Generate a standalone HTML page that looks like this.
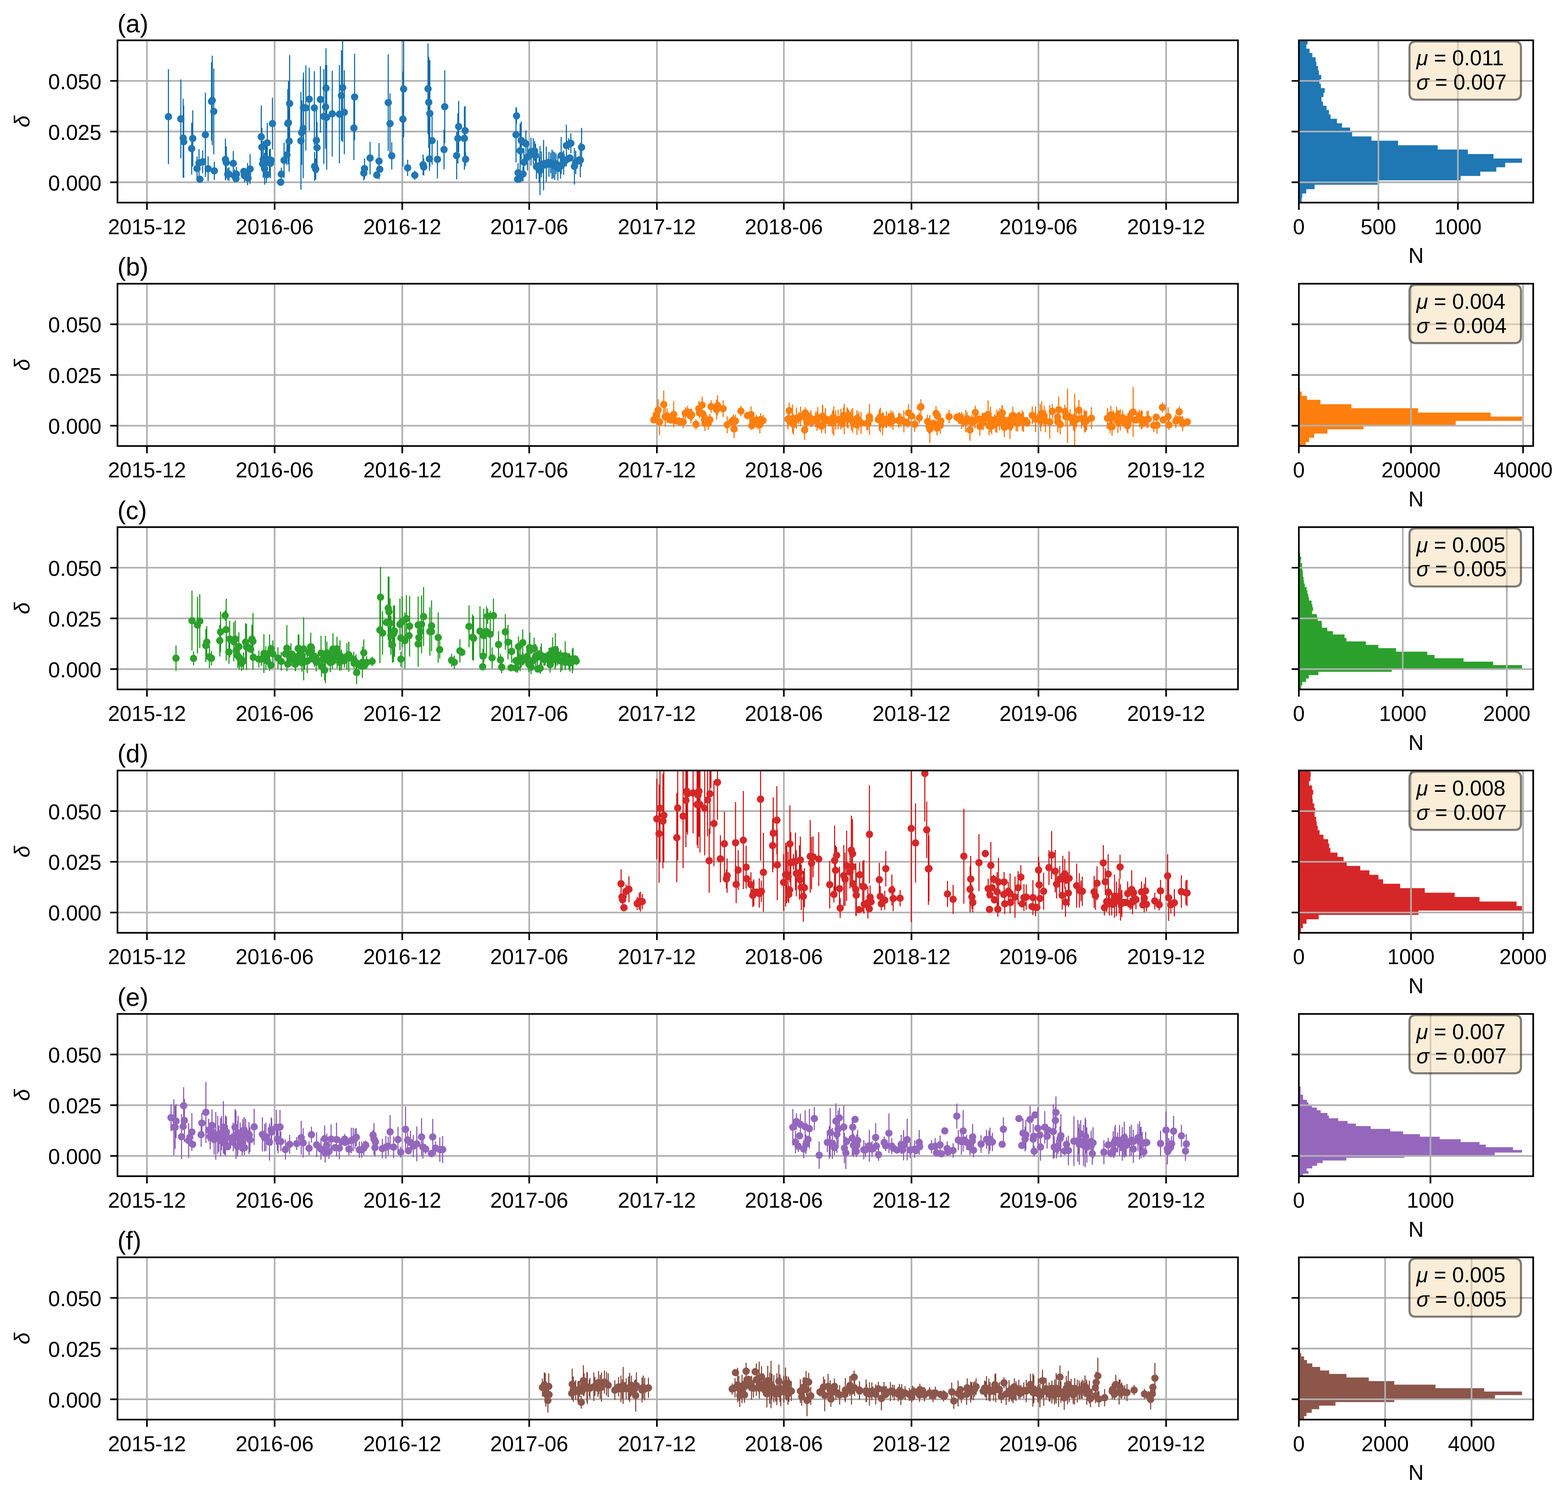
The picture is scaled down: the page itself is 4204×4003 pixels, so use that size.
<!DOCTYPE html><html><head><meta charset="utf-8"><title>figure</title><style>html,body{margin:0;padding:0;background:#fff;font-family:"Liberation Sans",sans-serif}svg{display:block}svg text{font-family:"Liberation Sans","DejaVu Sans",sans-serif;font-size:57px;fill:#000}</style></head><body><svg width="4204" height="4003" viewBox="0 0 4204 4003"><defs><clipPath id="c0"><rect x="315" y="108.1" width="3004.2" height="435.1"/></clipPath><clipPath id="h0"><rect x="3482.4" y="108.1" width="628.3" height="435.1"/></clipPath><clipPath id="c1"><rect x="315" y="760.7" width="3004.2" height="435.1"/></clipPath><clipPath id="h1"><rect x="3482.4" y="760.7" width="628.3" height="435.1"/></clipPath><clipPath id="c2"><rect x="315" y="1413.3" width="3004.2" height="435.1"/></clipPath><clipPath id="h2"><rect x="3482.4" y="1413.3" width="628.3" height="435.1"/></clipPath><clipPath id="c3"><rect x="315" y="2065.9" width="3004.2" height="435.1"/></clipPath><clipPath id="h3"><rect x="3482.4" y="2065.9" width="628.3" height="435.1"/></clipPath><clipPath id="c4"><rect x="315" y="2718.5" width="3004.2" height="435.1"/></clipPath><clipPath id="h4"><rect x="3482.4" y="2718.5" width="628.3" height="435.1"/></clipPath><clipPath id="c5"><rect x="315" y="3371.1" width="3004.2" height="435.1"/></clipPath><clipPath id="h5"><rect x="3482.4" y="3371.1" width="628.3" height="435.1"/></clipPath></defs><rect width="4204" height="4003" fill="#fff"/><path d="M394 108.1V543.2M736.3 108.1V543.2M1078.5 108.1V543.2M1418.9 108.1V543.2M1761.2 108.1V543.2M2101.6 108.1V543.2M2443.8 108.1V543.2M2784.2 108.1V543.2M3126.5 108.1V543.2M315 488.8H3319.2M315 352.8H3319.2M315 216.9H3319.2" stroke="#b0b0b0" stroke-width="4.4" fill="none"/>
<path d="M394 543.2v19.4M736.3 543.2v19.4M1078.5 543.2v19.4M1418.9 543.2v19.4M1761.2 543.2v19.4M2101.6 543.2v19.4M2443.8 543.2v19.4M2784.2 543.2v19.4M3126.5 543.2v19.4M315 488.8h-19.4M315 352.8h-19.4M315 216.9h-19.4" stroke="#000" stroke-width="4.4" fill="none"/>
<g clip-path="url(#c0)"><path d="M451.6 185.4V440M484.9 212.9V424.5M491.1 264.7V475.8M492.6 282.7V477M513.9 328.7V468M516.8 295.7V446.3M528.3 419.4V484.2M533.6 399.8V474.1M543.4 403.2V464.4M550.6 248.4V474.3M558 419.4V485.6M567.1 166.7V377.2M569.1 148.9V389.2M573.1 183.9V413.2M574.6 433.8V482.3M604.3 371.6V483.6M606.7 392.8V478.7M610.6 450.7V483.1M613.9 448.6V485.3M625.4 404.8V471.5M629 454.3V489.1M633.8 447.7V486.1M632.6 469.3V488.5M655.4 451.9V489.1M663.8 437.3V496.5M670.5 413.3V492.7M700.5 283.3V450M702.2 342.6V446.4M705.8 378.2V476.5M709.4 410V495.1M711.8 375.8V471.7M714.1 380.6V490.9M716.5 329.6V436.3M722.5 399.8V462.1M724.9 398.6V477.7M730.5 262.1V400.7M754.2 449.5V484.3M761.6 383V476.5M769.3 387.3V442.4M771.7 238.7V424.1M773.4 216.9V441.1M775.3 297.1V460.2M776.5 147.4V407.6M806.9 246.2V508.8M808.8 269.1V441.7M812.9 210.4V477.8M813.6 194.6V382.9M820 175.3V403.6M829.2 181.4V350.5M842.8 190.8V388.1M848.3 296.2V456.8M850 327.1V464.3M843.5 407.4V484.7M846.4 425.1V481.4M859.1 177.6V355.8M868.2 185.1V439.3M872.8 173.9V399.3M874 129.5V342.9M875.9 174.3V454.9M890.8 189.9V420.1M910 174.6V437.9M915.5 135V377.7M918.6 89.9V380.1M923.2 188.4V413.5M950.7 144V375.9M948.8 257.1V429.3M975.4 444.6V483.5M977.4 424.7V479.4M992.2 380V467.5M1010.2 459.7V478.9M1016.2 383.6V480.7M1040.9 145.8V404.3M1045.7 250.4V412.5M1050.3 381.3V454.2M1080.2 192.3V446.5M1082.2 109.8V367.4M1092.9 428.5V471.7M1112.1 457.4V482.1M1134.4 414.4V469.1M1136.1 424.9V470.5M1147.6 116.3V359.5M1149.5 152.3V396.4M1151.2 394V458.3M1152.4 160.7V448M1158.4 312.2V441.7M1172.8 376.3V478.4M1190.5 348V454M1192.4 188.4V383.8M1224.3 353.5V481.1M1227.6 303.8V438.1M1229.8 270.4V408.3M1245.1 286.8V455.2M1247.1 283.9V416.3M1248.2 408.3V445.4M1383.5 287.4V435.4M1384.9 289.6V331.5M1389 437.5V489.1M1394.5 331.3V476.9M1397.4 325.5V427.5M1402.2 446.6V486.2M1404.6 397.2V472.8M1409.9 349.8V421M1414.2 385.7V457M1423.8 369.8V444.1M1429.8 371V440.5M1433.4 378.2V430.9M1435.8 385.4V447.7M1438.2 412.9V480.1M1445.4 420.1V489.7M1447.8 391.4V523.3M1451.4 405.8V475.3M1457.4 375.5V510.3M1464.6 393.2V487.9M1471.8 407V474.1M1476.5 409.4V464.5M1480.1 401V480.1M1483.7 405.8V477.7M1487.3 408.2V482.5M1490.9 411.8V466.9M1495.7 416.5V483.7M1502.9 411.8V478.9M1504.6 367.3V466.8M1511.3 403.4V468.1M1518.5 334.4V445.9M1524.5 371V402.2M1530.5 357.8V410.6M1540.1 397.1V495M1543.7 404.6V466.9M1555.9 382.9V475.2M1559.3 343V446.9" stroke="#0467ab" stroke-width="2.8" fill="none"/>
<path d="M441.7 312.7a9.85 9.85 0 1 0 19.7 0a9.85 9.85 0 1 0 -19.7 0M475 318.7a9.85 9.85 0 1 0 19.7 0a9.85 9.85 0 1 0 -19.7 0M481.3 370.3a9.85 9.85 0 1 0 19.7 0a9.85 9.85 0 1 0 -19.7 0M482.7 379.9a9.85 9.85 0 1 0 19.7 0a9.85 9.85 0 1 0 -19.7 0M504.1 398.3a9.85 9.85 0 1 0 19.7 0a9.85 9.85 0 1 0 -19.7 0M506.9 371a9.85 9.85 0 1 0 19.7 0a9.85 9.85 0 1 0 -19.7 0M518.4 451.8a9.85 9.85 0 1 0 19.7 0a9.85 9.85 0 1 0 -19.7 0M523.7 436.9a9.85 9.85 0 1 0 19.7 0a9.85 9.85 0 1 0 -19.7 0M526.1 480.6a9.85 9.85 0 1 0 19.7 0a9.85 9.85 0 1 0 -19.7 0M533.6 433.8a9.85 9.85 0 1 0 19.7 0a9.85 9.85 0 1 0 -19.7 0M540.7 361.4a9.85 9.85 0 1 0 19.7 0a9.85 9.85 0 1 0 -19.7 0M548.2 452.5a9.85 9.85 0 1 0 19.7 0a9.85 9.85 0 1 0 -19.7 0M557.3 271.9a9.85 9.85 0 1 0 19.7 0a9.85 9.85 0 1 0 -19.7 0M559.2 269.1a9.85 9.85 0 1 0 19.7 0a9.85 9.85 0 1 0 -19.7 0M563.3 298.6a9.85 9.85 0 1 0 19.7 0a9.85 9.85 0 1 0 -19.7 0M564.7 458a9.85 9.85 0 1 0 19.7 0a9.85 9.85 0 1 0 -19.7 0M594.5 427.6a9.85 9.85 0 1 0 19.7 0a9.85 9.85 0 1 0 -19.7 0M596.9 435.7a9.85 9.85 0 1 0 19.7 0a9.85 9.85 0 1 0 -19.7 0M600.7 466.9a9.85 9.85 0 1 0 19.7 0a9.85 9.85 0 1 0 -19.7 0M604.1 466.9a9.85 9.85 0 1 0 19.7 0a9.85 9.85 0 1 0 -19.7 0M615.6 438.1a9.85 9.85 0 1 0 19.7 0a9.85 9.85 0 1 0 -19.7 0M619.2 471.7a9.85 9.85 0 1 0 19.7 0a9.85 9.85 0 1 0 -19.7 0M624 466.9a9.85 9.85 0 1 0 19.7 0a9.85 9.85 0 1 0 -19.7 0M622.8 478.9a9.85 9.85 0 1 0 19.7 0a9.85 9.85 0 1 0 -19.7 0M643.9 459.7a9.85 9.85 0 1 0 19.7 0a9.85 9.85 0 1 0 -19.7 0M645.5 470.5a9.85 9.85 0 1 0 19.7 0a9.85 9.85 0 1 0 -19.7 0M653.9 466.9a9.85 9.85 0 1 0 19.7 0a9.85 9.85 0 1 0 -19.7 0M655.1 477.7a9.85 9.85 0 1 0 19.7 0a9.85 9.85 0 1 0 -19.7 0M660.7 453a9.85 9.85 0 1 0 19.7 0a9.85 9.85 0 1 0 -19.7 0M690.6 366.7a9.85 9.85 0 1 0 19.7 0a9.85 9.85 0 1 0 -19.7 0M692.3 394.5a9.85 9.85 0 1 0 19.7 0a9.85 9.85 0 1 0 -19.7 0M695.9 427.3a9.85 9.85 0 1 0 19.7 0a9.85 9.85 0 1 0 -19.7 0M694.2 439.3a9.85 9.85 0 1 0 19.7 0a9.85 9.85 0 1 0 -19.7 0M699.5 452.5a9.85 9.85 0 1 0 19.7 0a9.85 9.85 0 1 0 -19.7 0M701.9 423.7a9.85 9.85 0 1 0 19.7 0a9.85 9.85 0 1 0 -19.7 0M704.3 435.7a9.85 9.85 0 1 0 19.7 0a9.85 9.85 0 1 0 -19.7 0M705.5 468.1a9.85 9.85 0 1 0 19.7 0a9.85 9.85 0 1 0 -19.7 0M706.7 383a9.85 9.85 0 1 0 19.7 0a9.85 9.85 0 1 0 -19.7 0M712.7 430.9a9.85 9.85 0 1 0 19.7 0a9.85 9.85 0 1 0 -19.7 0M715.1 438.1a9.85 9.85 0 1 0 19.7 0a9.85 9.85 0 1 0 -19.7 0M716.8 429.7a9.85 9.85 0 1 0 19.7 0a9.85 9.85 0 1 0 -19.7 0M720.6 331.4a9.85 9.85 0 1 0 19.7 0a9.85 9.85 0 1 0 -19.7 0M742.7 488.5a9.85 9.85 0 1 0 19.7 0a9.85 9.85 0 1 0 -19.7 0M744.3 466.9a9.85 9.85 0 1 0 19.7 0a9.85 9.85 0 1 0 -19.7 0M751.8 429.7a9.85 9.85 0 1 0 19.7 0a9.85 9.85 0 1 0 -19.7 0M759.5 414.9a9.85 9.85 0 1 0 19.7 0a9.85 9.85 0 1 0 -19.7 0M761.9 331.4a9.85 9.85 0 1 0 19.7 0a9.85 9.85 0 1 0 -19.7 0M763.5 329a9.85 9.85 0 1 0 19.7 0a9.85 9.85 0 1 0 -19.7 0M765.4 378.7a9.85 9.85 0 1 0 19.7 0a9.85 9.85 0 1 0 -19.7 0M766.6 277.5a9.85 9.85 0 1 0 19.7 0a9.85 9.85 0 1 0 -19.7 0M797 377.5a9.85 9.85 0 1 0 19.7 0a9.85 9.85 0 1 0 -19.7 0M798.9 355.4a9.85 9.85 0 1 0 19.7 0a9.85 9.85 0 1 0 -19.7 0M803 344.1a9.85 9.85 0 1 0 19.7 0a9.85 9.85 0 1 0 -19.7 0M803.7 288.7a9.85 9.85 0 1 0 19.7 0a9.85 9.85 0 1 0 -19.7 0M810.2 289.4a9.85 9.85 0 1 0 19.7 0a9.85 9.85 0 1 0 -19.7 0M819.3 265.9a9.85 9.85 0 1 0 19.7 0a9.85 9.85 0 1 0 -19.7 0M833 289.4a9.85 9.85 0 1 0 19.7 0a9.85 9.85 0 1 0 -19.7 0M838.5 376.5a9.85 9.85 0 1 0 19.7 0a9.85 9.85 0 1 0 -19.7 0M840.2 395.7a9.85 9.85 0 1 0 19.7 0a9.85 9.85 0 1 0 -19.7 0M833.7 446a9.85 9.85 0 1 0 19.7 0a9.85 9.85 0 1 0 -19.7 0M836.6 453.2a9.85 9.85 0 1 0 19.7 0a9.85 9.85 0 1 0 -19.7 0M849.3 266.7a9.85 9.85 0 1 0 19.7 0a9.85 9.85 0 1 0 -19.7 0M858.4 312.2a9.85 9.85 0 1 0 19.7 0a9.85 9.85 0 1 0 -19.7 0M863 286.6a9.85 9.85 0 1 0 19.7 0a9.85 9.85 0 1 0 -19.7 0M864.2 236.2a9.85 9.85 0 1 0 19.7 0a9.85 9.85 0 1 0 -19.7 0M866.1 314.6a9.85 9.85 0 1 0 19.7 0a9.85 9.85 0 1 0 -19.7 0M880.9 305a9.85 9.85 0 1 0 19.7 0a9.85 9.85 0 1 0 -19.7 0M900.1 306.2a9.85 9.85 0 1 0 19.7 0a9.85 9.85 0 1 0 -19.7 0M905.6 256.4a9.85 9.85 0 1 0 19.7 0a9.85 9.85 0 1 0 -19.7 0M908.8 235a9.85 9.85 0 1 0 19.7 0a9.85 9.85 0 1 0 -19.7 0M913.3 301a9.85 9.85 0 1 0 19.7 0a9.85 9.85 0 1 0 -19.7 0M940.9 260a9.85 9.85 0 1 0 19.7 0a9.85 9.85 0 1 0 -19.7 0M939 343.2a9.85 9.85 0 1 0 19.7 0a9.85 9.85 0 1 0 -19.7 0M965.6 464a9.85 9.85 0 1 0 19.7 0a9.85 9.85 0 1 0 -19.7 0M967.5 452a9.85 9.85 0 1 0 19.7 0a9.85 9.85 0 1 0 -19.7 0M982.4 423.7a9.85 9.85 0 1 0 19.7 0a9.85 9.85 0 1 0 -19.7 0M1000.4 469.3a9.85 9.85 0 1 0 19.7 0a9.85 9.85 0 1 0 -19.7 0M1006.4 432.1a9.85 9.85 0 1 0 19.7 0a9.85 9.85 0 1 0 -19.7 0M1008.3 453.7a9.85 9.85 0 1 0 19.7 0a9.85 9.85 0 1 0 -19.7 0M1031.1 275.1a9.85 9.85 0 1 0 19.7 0a9.85 9.85 0 1 0 -19.7 0M1035.9 331.4a9.85 9.85 0 1 0 19.7 0a9.85 9.85 0 1 0 -19.7 0M1040.4 417.7a9.85 9.85 0 1 0 19.7 0a9.85 9.85 0 1 0 -19.7 0M1070.4 319.4a9.85 9.85 0 1 0 19.7 0a9.85 9.85 0 1 0 -19.7 0M1072.3 238.6a9.85 9.85 0 1 0 19.7 0a9.85 9.85 0 1 0 -19.7 0M1083.1 450.1a9.85 9.85 0 1 0 19.7 0a9.85 9.85 0 1 0 -19.7 0M1102.3 469.8a9.85 9.85 0 1 0 19.7 0a9.85 9.85 0 1 0 -19.7 0M1124.6 441.7a9.85 9.85 0 1 0 19.7 0a9.85 9.85 0 1 0 -19.7 0M1126.3 447.7a9.85 9.85 0 1 0 19.7 0a9.85 9.85 0 1 0 -19.7 0M1137.8 237.9a9.85 9.85 0 1 0 19.7 0a9.85 9.85 0 1 0 -19.7 0M1139.7 274.3a9.85 9.85 0 1 0 19.7 0a9.85 9.85 0 1 0 -19.7 0M1141.4 426.1a9.85 9.85 0 1 0 19.7 0a9.85 9.85 0 1 0 -19.7 0M1142.6 304.3a9.85 9.85 0 1 0 19.7 0a9.85 9.85 0 1 0 -19.7 0M1148.6 377a9.85 9.85 0 1 0 19.7 0a9.85 9.85 0 1 0 -19.7 0M1163 427.3a9.85 9.85 0 1 0 19.7 0a9.85 9.85 0 1 0 -19.7 0M1180.6 401a9.85 9.85 0 1 0 19.7 0a9.85 9.85 0 1 0 -19.7 0M1182.5 286.1a9.85 9.85 0 1 0 19.7 0a9.85 9.85 0 1 0 -19.7 0M1214.4 417.3a9.85 9.85 0 1 0 19.7 0a9.85 9.85 0 1 0 -19.7 0M1217.8 371a9.85 9.85 0 1 0 19.7 0a9.85 9.85 0 1 0 -19.7 0M1219.9 339.3a9.85 9.85 0 1 0 19.7 0a9.85 9.85 0 1 0 -19.7 0M1235.3 371a9.85 9.85 0 1 0 19.7 0a9.85 9.85 0 1 0 -19.7 0M1237.2 350.1a9.85 9.85 0 1 0 19.7 0a9.85 9.85 0 1 0 -19.7 0M1238.4 426.9a9.85 9.85 0 1 0 19.7 0a9.85 9.85 0 1 0 -19.7 0M1373.7 361.4a9.85 9.85 0 1 0 19.7 0a9.85 9.85 0 1 0 -19.7 0M1375.1 310.6a9.85 9.85 0 1 0 19.7 0a9.85 9.85 0 1 0 -19.7 0M1379.2 463.3a9.85 9.85 0 1 0 19.7 0a9.85 9.85 0 1 0 -19.7 0M1378 480.6a9.85 9.85 0 1 0 19.7 0a9.85 9.85 0 1 0 -19.7 0M1381.6 480.1a9.85 9.85 0 1 0 19.7 0a9.85 9.85 0 1 0 -19.7 0M1384.7 404.1a9.85 9.85 0 1 0 19.7 0a9.85 9.85 0 1 0 -19.7 0M1387.6 376.5a9.85 9.85 0 1 0 19.7 0a9.85 9.85 0 1 0 -19.7 0M1392.4 466.4a9.85 9.85 0 1 0 19.7 0a9.85 9.85 0 1 0 -19.7 0M1394.8 435a9.85 9.85 0 1 0 19.7 0a9.85 9.85 0 1 0 -19.7 0M1397.2 383a9.85 9.85 0 1 0 19.7 0a9.85 9.85 0 1 0 -19.7 0M1400 385.4a9.85 9.85 0 1 0 19.7 0a9.85 9.85 0 1 0 -19.7 0M1404.3 421.3a9.85 9.85 0 1 0 19.7 0a9.85 9.85 0 1 0 -19.7 0M1413.9 407a9.85 9.85 0 1 0 19.7 0a9.85 9.85 0 1 0 -19.7 0M1416.3 414.1a9.85 9.85 0 1 0 19.7 0a9.85 9.85 0 1 0 -19.7 0M1419.9 405.8a9.85 9.85 0 1 0 19.7 0a9.85 9.85 0 1 0 -19.7 0M1423.5 404.6a9.85 9.85 0 1 0 19.7 0a9.85 9.85 0 1 0 -19.7 0M1425.9 416.5a9.85 9.85 0 1 0 19.7 0a9.85 9.85 0 1 0 -19.7 0M1428.3 446.5a9.85 9.85 0 1 0 19.7 0a9.85 9.85 0 1 0 -19.7 0M1431.9 445.3a9.85 9.85 0 1 0 19.7 0a9.85 9.85 0 1 0 -19.7 0M1435.5 454.9a9.85 9.85 0 1 0 19.7 0a9.85 9.85 0 1 0 -19.7 0M1437.9 457.3a9.85 9.85 0 1 0 19.7 0a9.85 9.85 0 1 0 -19.7 0M1441.5 440.5a9.85 9.85 0 1 0 19.7 0a9.85 9.85 0 1 0 -19.7 0M1447.5 442.9a9.85 9.85 0 1 0 19.7 0a9.85 9.85 0 1 0 -19.7 0M1449.9 438.1a9.85 9.85 0 1 0 19.7 0a9.85 9.85 0 1 0 -19.7 0M1454.7 440.5a9.85 9.85 0 1 0 19.7 0a9.85 9.85 0 1 0 -19.7 0M1459.5 435.7a9.85 9.85 0 1 0 19.7 0a9.85 9.85 0 1 0 -19.7 0M1461.9 440.5a9.85 9.85 0 1 0 19.7 0a9.85 9.85 0 1 0 -19.7 0M1466.7 436.9a9.85 9.85 0 1 0 19.7 0a9.85 9.85 0 1 0 -19.7 0M1470.3 440.5a9.85 9.85 0 1 0 19.7 0a9.85 9.85 0 1 0 -19.7 0M1473.9 441.7a9.85 9.85 0 1 0 19.7 0a9.85 9.85 0 1 0 -19.7 0M1477.5 445.3a9.85 9.85 0 1 0 19.7 0a9.85 9.85 0 1 0 -19.7 0M1481.1 439.3a9.85 9.85 0 1 0 19.7 0a9.85 9.85 0 1 0 -19.7 0M1485.9 450.1a9.85 9.85 0 1 0 19.7 0a9.85 9.85 0 1 0 -19.7 0M1488.3 451.3a9.85 9.85 0 1 0 19.7 0a9.85 9.85 0 1 0 -19.7 0M1493.1 445.3a9.85 9.85 0 1 0 19.7 0a9.85 9.85 0 1 0 -19.7 0M1494.8 417a9.85 9.85 0 1 0 19.7 0a9.85 9.85 0 1 0 -19.7 0M1497.9 440.5a9.85 9.85 0 1 0 19.7 0a9.85 9.85 0 1 0 -19.7 0M1501.5 435.7a9.85 9.85 0 1 0 19.7 0a9.85 9.85 0 1 0 -19.7 0M1505.1 430.9a9.85 9.85 0 1 0 19.7 0a9.85 9.85 0 1 0 -19.7 0M1508.7 390.2a9.85 9.85 0 1 0 19.7 0a9.85 9.85 0 1 0 -19.7 0M1512.3 426.1a9.85 9.85 0 1 0 19.7 0a9.85 9.85 0 1 0 -19.7 0M1514.7 386.6a9.85 9.85 0 1 0 19.7 0a9.85 9.85 0 1 0 -19.7 0M1518.3 423.7a9.85 9.85 0 1 0 19.7 0a9.85 9.85 0 1 0 -19.7 0M1520.7 384.2a9.85 9.85 0 1 0 19.7 0a9.85 9.85 0 1 0 -19.7 0M1530.2 446a9.85 9.85 0 1 0 19.7 0a9.85 9.85 0 1 0 -19.7 0M1533.8 435.7a9.85 9.85 0 1 0 19.7 0a9.85 9.85 0 1 0 -19.7 0M1538.6 432.1a9.85 9.85 0 1 0 19.7 0a9.85 9.85 0 1 0 -19.7 0M1543.4 428.5a9.85 9.85 0 1 0 19.7 0a9.85 9.85 0 1 0 -19.7 0M1546.1 429a9.85 9.85 0 1 0 19.7 0a9.85 9.85 0 1 0 -19.7 0M1549.4 395a9.85 9.85 0 1 0 19.7 0a9.85 9.85 0 1 0 -19.7 0" fill="#1f77b4"/></g>
<rect x="315" y="108.1" width="3004.2" height="435.1" fill="none" stroke="#000" stroke-width="4.4"/>
<text x="394" y="627.6" text-anchor="middle">2015-12</text>
<text x="736.3" y="627.6" text-anchor="middle">2016-06</text>
<text x="1078.5" y="627.6" text-anchor="middle">2016-12</text>
<text x="1418.9" y="627.6" text-anchor="middle">2017-06</text>
<text x="1761.2" y="627.6" text-anchor="middle">2017-12</text>
<text x="2101.6" y="627.6" text-anchor="middle">2018-06</text>
<text x="2443.8" y="627.6" text-anchor="middle">2018-12</text>
<text x="2784.2" y="627.6" text-anchor="middle">2019-06</text>
<text x="3126.5" y="627.6" text-anchor="middle">2019-12</text>
<text x="272" y="510.6" text-anchor="end">0.000</text>
<text x="272" y="374.6" text-anchor="end">0.025</text>
<text x="272" y="238.7" text-anchor="end">0.050</text>
<text x="314.7" y="86.5" style="font-size:68px">(a)</text>
<text transform="translate(78.6 325.6) rotate(-90)" text-anchor="middle" font-style="italic">δ</text>
<g clip-path="url(#h0)"><path d="M3482.4 107.9H3505.9V119.1H3482.4ZM3482.4 118.8H3502.5V130.7H3482.4ZM3482.4 130.4H3511V142.2H3482.4ZM3482.4 141.9H3518.5V153.8H3482.4ZM3482.4 153.5H3527.3V165.7H3482.4ZM3482.4 165.4H3529.4V177.3H3482.4ZM3482.4 177H3533.8V189.2H3482.4ZM3482.4 188.9H3536.2V201.1H3482.4ZM3482.4 200.8H3542.3V213H3482.4ZM3482.4 212.7H3537.6V224.9H3482.4ZM3482.4 224.6H3541.6V236.5H3482.4ZM3482.4 236.2H3551.8V248.4H3482.4ZM3482.4 248.1H3548.4V260.3H3482.4ZM3482.4 260H3543V272.2H3482.4ZM3482.4 271.9H3547.1V283.7H3482.4ZM3482.4 283.4H3556.6V295.3H3482.4ZM3482.4 295H3563.1V307.2H3482.4ZM3482.4 306.9H3567.5V318.8H3482.4ZM3482.4 318.5H3584.5V330.7H3482.4ZM3482.4 330.4H3598.1V342.2H3482.4ZM3482.4 341.9H3619.9V354.5H3482.4ZM3482.4 354.2H3625.3V366H3482.4ZM3482.4 365.7H3677V377.6H3482.4ZM3482.4 377.3H3748.4V389.9H3482.4ZM3482.4 389.6H3854.6V401.4H3482.4ZM3482.4 401.1H3935.5V413.3H3482.4ZM3482.4 413H4004.2V425.2H3482.4ZM3482.4 424.9H4080.7V436.5H3482.4ZM3482.4 436.2H4035.5V448.4H3482.4ZM3482.4 448.1H4011.7V460.3H3482.4ZM3482.4 460H3968.8V471.8H3482.4ZM3482.4 471.5H3916.1V483.4H3482.4ZM3482.4 483.1H3693.3V495.3H3482.4ZM3482.4 495H3524.6V507.2H3482.4ZM3482.4 506.9H3502.2V518.8H3482.4ZM3482.4 518.5H3491.3V531H3482.4ZM3482.4 530.7H3489.9V543.6H3482.4Z" fill="#1f77b4"/></g>
<path d="M3695.6 108.1V543.2M3908.8 108.1V543.2M3482.4 488.8H4110.7M3482.4 352.8H4110.7M3482.4 216.9H4110.7" stroke="#b0b0b0" stroke-width="4.4" fill="none"/>
<path d="M3482.4 543.2v19.4M3695.6 543.2v19.4M3908.8 543.2v19.4M3482.4 488.8h-19.4M3482.4 352.8h-19.4M3482.4 216.9h-19.4" stroke="#000" stroke-width="4.4" fill="none"/>
<rect x="3482.4" y="108.1" width="628.3" height="435.1" fill="none" stroke="#000" stroke-width="4.4"/>
<text x="3482.4" y="627.6" text-anchor="middle">0</text>
<text x="3695.6" y="627.6" text-anchor="middle">500</text>
<text x="3908.8" y="627.6" text-anchor="middle">1000</text>
<text x="3796.5" y="705.4" text-anchor="middle">N</text>
<path d="M3795.9 111.2H4061Q4077.9 111.2 4077.9 128.1V250.4Q4077.9 267.3 4061 267.3H3795.9Q3779 267.3 3779 250.4V128.1Q3779 111.2 3795.9 111.2Z" fill="#f5deb3" fill-opacity="0.5" stroke="#000" stroke-opacity="0.5" stroke-width="5.6"/>
<text x="3797.4" y="175.3"><tspan font-style="italic">μ</tspan> = 0.011</text>
<text x="3797.4" y="240.2"><tspan font-style="italic">σ</tspan> = 0.007</text>
<path d="M394 760.7V1195.8M736.3 760.7V1195.8M1078.5 760.7V1195.8M1418.9 760.7V1195.8M1761.2 760.7V1195.8M2101.6 760.7V1195.8M2443.8 760.7V1195.8M2784.2 760.7V1195.8M3126.5 760.7V1195.8M315 1141.4H3319.2M315 1005.4H3319.2M315 869.5H3319.2" stroke="#b0b0b0" stroke-width="4.4" fill="none"/>
<path d="M394 1195.8v19.4M736.3 1195.8v19.4M1078.5 1195.8v19.4M1418.9 1195.8v19.4M1761.2 1195.8v19.4M2101.6 1195.8v19.4M2443.8 1195.8v19.4M2784.2 1195.8v19.4M3126.5 1195.8v19.4M315 1141.4h-19.4M315 1005.4h-19.4M315 869.5h-19.4" stroke="#000" stroke-width="4.4" fill="none"/>
<g clip-path="url(#c1)"><path d="M1764.4 1070.4V1128.8M1768.2 1095.8V1166.9M1779.6 1047.3V1121.4M1783.5 1090.7V1144M1788.5 1094.5V1135.1M1806.3 1076.1V1145.9M1821.5 1118.6V1141.5M1831.7 1114.3V1148.3M1837.3 1092V1124M1843.6 1088.2V1121.2M1852 1096V1134.6M1854.5 1096.5V1128M1865.9 1124.1V1151.2M1873.6 1075.5V1116.1M1875.3 1093.2V1121.2M1882.4 1064.1V1108.2M1890.1 1114.8V1155.4M1895.1 1112.3V1140.2M1898.9 1117.9V1152.4M1903.2 1109.7V1141.2M1906.5 1073.3V1107.1M1921.3 1071.7V1125M1923.8 1060V1113.8M1938.8 1073.6V1118M1949.7 1116.1V1161.8M1966.2 1111V1141.5M1968.2 1126.2V1174.5M1971.8 1112.3V1145.3M1986.5 1087.8V1116.5M2013.7 1089.4V1133.6M2015.7 1129.5V1152.4M2027.9 1112.3V1140.2M2032.2 1124.5V1150.9M2037.3 1116.1V1161.8M2039.3 1108V1142M2045.6 1112.3V1142.7M2112.6 1095.8V1151.6M2115.9 1079.8V1121.9M2124.8 1084.4V1160.5M2127.4 1109.7V1165.6M2157.3 1126.5V1179.3M2159.1 1092V1122.4M2174.3 1099.6V1145.3M2192.6 1091.7V1147.1M2206 1086.5V1148.2M2213.1 1094.8V1160.3M2205.1 1084.7V1147.4M2212.7 1095.8V1161.8M2231.7 1102.1V1163M2235.5 1089.2V1168.4M2240.6 1100.2V1152.3M2247 1099V1151M2254.6 1096V1151.4M2263.5 1083.1V1164.3M2271.1 1092V1145.3M2273.6 1095.8V1149.1M2282.5 1098.3V1154.2M2286.3 1094.5V1160.5M2297.7 1111.8V1166.1M2302.8 1103.4V1154.2M2308.6 1104.9V1162.8M2324.4 1116.9V1153.4M2330.7 1100.4V1134.4M2357.4 1097.9V1154.5M2360.4 1092.9V1159.6M2366.2 1105.6V1167.2M2368.8 1107.2V1147.8M2375.1 1113.6V1146.5M2381.5 1108.7V1143.8M2389.1 1100.1V1132.1M2394.2 1103.1V1151.9M2409.4 1107.7V1147.3M2411.9 1107.7V1142.2M2415.7 1109.7V1142.7M2436 1083.6V1130.8M2433 1122.7V1146.5M2452.5 1117.4V1158M2464.7 1105.8V1135M2469 1070.4V1111M2486.8 1112.3V1147.8M2490.6 1122.4V1163M2493.1 1113V1187.7M2509.6 1089.4V1127.5M2512.2 1128.8V1166.9M2521.1 1117.4V1163M2544.7 1098.7V1135M2571.8 1104.7V1131.6M2578.2 1104.8V1150.2M2589.1 1098.7V1158.9M2592.9 1105.2V1139.7M2614.2 1105.9V1149.1M2639.6 1110.3V1134.6M2666.5 1111V1141.5M2681 1094.5V1127.5M2687.3 1086.4V1128M2688.6 1108.5V1146.5M2615 1087.7V1124.2M2649.2 1073.5V1148.6M2600.5 1124.2V1181.6M2627.2 1118.4V1168.1M2651.8 1116.1V1166.9M2658.9 1120.2V1164.3M2686.3 1086.4V1129.5M2691.4 1105.9V1146.5M2707.9 1108.5V1177M2715.5 1090.7V1136.4M2724.4 1108.5V1156.7M2728.2 1113.6V1156.7M2732 1103.4V1128.8M2740.9 1100V1155.1M2744 1104.7V1158M2767.6 1090.1V1137M2776.4 1094.8V1152.6M2789.1 1084V1145.7M2792.9 1075.5V1141.5M2799.3 1087.7V1142M2803.1 1098.7V1158.9M2814.5 1086V1176.6M2821.4 1083.1V1122.7M2836.1 1104.9V1156.7M2838.6 1064.1V1132.6M2842.4 1111V1164.3M2855.1 1085.1V1121.7M2857.7 1092.2V1142.5M2862.2 1042.2V1187.4M2869.1 1097.3V1139.9M2881.3 1055.4V1202.1M2892.7 1072.2V1127M2899.5 1095.8V1149.1M2906.6 1098.3V1146.5M2910.5 1102.1V1158M2913.5 1101.5V1153.5M2926.2 1091.7V1150.6M2969.3 1093.9V1148.5M2978.5 1088.2V1136.4M2981.5 1119.4V1168.6M2985.8 1100.4V1136.9M2993.5 1090.7V1141.5M2997.3 1099.6V1160.5M3000.3 1100.4V1144.5M3009.9 1099.6V1140.2M3022.6 1124.5V1158.5M3023.9 1108.5V1161.8M3038.1 1038.3V1171M3054.4 1098.3V1128.8M3055.6 1104.2V1145.8M3065.8 1126.2V1144M3075.2 1101.9V1148.1M3116.6 1078.8V1105.9M3161.6 1089.4V1118.4M3132 1091.9V1142.6M3134 1125.9V1152.6M3093.3 1122.6V1158.6M3102 1116.3V1163.5M3152.6 1110.9V1147.6M3165.3 1115.3V1139.2M3170.9 1115.9V1155.9M3078.7 1101.3V1146.6M2124.8 1108.3V1144.7M2135.3 1092.6V1150.1M2141.8 1104.4V1138.1M2146.5 1089.9V1143.1M2163.6 1116V1148.1M2162 1103.2V1145.4M2162.6 1098.6V1139.5M2176.1 1117.3V1143.7M2186.7 1103.9V1145.3M2190.4 1103.5V1155.3M2209.3 1107.9V1137.4M2202.5 1123.5V1161.2M2233.7 1099.4V1138.6M2261.9 1092.8V1135.8M2275.6 1099.9V1126.6M2297.6 1099.7V1143.9M2299.3 1108.6V1141.5M2331.2 1083.7V1165.7M2326.8 1117.9V1153.7M2359.5 1101.7V1134.7M2376.4 1102.2V1147.4M2388.2 1119.9V1146.9M2423.4 1100.1V1159.1M2570.6 1106.4V1137M2582.4 1109.6V1145.1M2604.2 1112.4V1144M2608.3 1115.6V1145.3M2636.2 1109.8V1153.3M2633.6 1106.1V1141.1M2669.5 1114.1V1158.6M2655.6 1090.3V1158.8M2672.8 1098.4V1160.4M2692.6 1119.3V1172.2M2680 1110V1153.8M2705.8 1109.5V1142.7M2711.5 1111.1V1154.9M2753.6 1121.4V1143.9M2776.7 1089.7V1158.6M2790.3 1101.7V1156.5M2836.6 1099.4V1159.5M2835.4 1097.1V1139.3M2882.1 1088.2V1155.5M2878.2 1109.2V1155M2886.2 1101.9V1146.7M2907.9 1102.6V1160.1M2976.2 1124.2V1161.1M3003.8 1097.4V1154.4M2995.3 1101.5V1130.6M3024.8 1108.9V1138.1M3027 1104.1V1144.4M3029 1099.6V1144.2M3062.5 1101.4V1149M3059.9 1100V1151.2" stroke="#ff7000" stroke-width="2.8" fill="none"/>
<path d="M1743.1 1125.7a9.85 9.85 0 1 0 19.7 0a9.85 9.85 0 1 0 -19.7 0M1749.5 1112.3a9.85 9.85 0 1 0 19.7 0a9.85 9.85 0 1 0 -19.7 0M1754.6 1099.6a9.85 9.85 0 1 0 19.7 0a9.85 9.85 0 1 0 -19.7 0M1758.4 1131.3a9.85 9.85 0 1 0 19.7 0a9.85 9.85 0 1 0 -19.7 0M1769.8 1084.4a9.85 9.85 0 1 0 19.7 0a9.85 9.85 0 1 0 -19.7 0M1773.6 1117.4a9.85 9.85 0 1 0 19.7 0a9.85 9.85 0 1 0 -19.7 0M1778.7 1114.8a9.85 9.85 0 1 0 19.7 0a9.85 9.85 0 1 0 -19.7 0M1783.8 1122.4a9.85 9.85 0 1 0 19.7 0a9.85 9.85 0 1 0 -19.7 0M1788.8 1126.2a9.85 9.85 0 1 0 19.7 0a9.85 9.85 0 1 0 -19.7 0M1796.4 1111a9.85 9.85 0 1 0 19.7 0a9.85 9.85 0 1 0 -19.7 0M1799 1127.5a9.85 9.85 0 1 0 19.7 0a9.85 9.85 0 1 0 -19.7 0M1805.3 1128.8a9.85 9.85 0 1 0 19.7 0a9.85 9.85 0 1 0 -19.7 0M1811.7 1130.1a9.85 9.85 0 1 0 19.7 0a9.85 9.85 0 1 0 -19.7 0M1816.7 1130.6a9.85 9.85 0 1 0 19.7 0a9.85 9.85 0 1 0 -19.7 0M1821.8 1131.3a9.85 9.85 0 1 0 19.7 0a9.85 9.85 0 1 0 -19.7 0M1827.4 1108a9.85 9.85 0 1 0 19.7 0a9.85 9.85 0 1 0 -19.7 0M1833.8 1104.7a9.85 9.85 0 1 0 19.7 0a9.85 9.85 0 1 0 -19.7 0M1838.3 1109.7a9.85 9.85 0 1 0 19.7 0a9.85 9.85 0 1 0 -19.7 0M1842.1 1115.3a9.85 9.85 0 1 0 19.7 0a9.85 9.85 0 1 0 -19.7 0M1844.7 1112.3a9.85 9.85 0 1 0 19.7 0a9.85 9.85 0 1 0 -19.7 0M1856.1 1137.7a9.85 9.85 0 1 0 19.7 0a9.85 9.85 0 1 0 -19.7 0M1863.7 1095.8a9.85 9.85 0 1 0 19.7 0a9.85 9.85 0 1 0 -19.7 0M1865.5 1107.2a9.85 9.85 0 1 0 19.7 0a9.85 9.85 0 1 0 -19.7 0M1872.6 1086.1a9.85 9.85 0 1 0 19.7 0a9.85 9.85 0 1 0 -19.7 0M1874.6 1109.7a9.85 9.85 0 1 0 19.7 0a9.85 9.85 0 1 0 -19.7 0M1878.9 1125a9.85 9.85 0 1 0 19.7 0a9.85 9.85 0 1 0 -19.7 0M1880.2 1135.1a9.85 9.85 0 1 0 19.7 0a9.85 9.85 0 1 0 -19.7 0M1885.3 1126.2a9.85 9.85 0 1 0 19.7 0a9.85 9.85 0 1 0 -19.7 0M1889.1 1135.1a9.85 9.85 0 1 0 19.7 0a9.85 9.85 0 1 0 -19.7 0M1893.4 1125.5a9.85 9.85 0 1 0 19.7 0a9.85 9.85 0 1 0 -19.7 0M1896.7 1090.2a9.85 9.85 0 1 0 19.7 0a9.85 9.85 0 1 0 -19.7 0M1911.4 1098.3a9.85 9.85 0 1 0 19.7 0a9.85 9.85 0 1 0 -19.7 0M1914 1086.9a9.85 9.85 0 1 0 19.7 0a9.85 9.85 0 1 0 -19.7 0M1928.9 1095.8a9.85 9.85 0 1 0 19.7 0a9.85 9.85 0 1 0 -19.7 0M1939.8 1138.9a9.85 9.85 0 1 0 19.7 0a9.85 9.85 0 1 0 -19.7 0M1951.3 1131.3a9.85 9.85 0 1 0 19.7 0a9.85 9.85 0 1 0 -19.7 0M1956.3 1126.2a9.85 9.85 0 1 0 19.7 0a9.85 9.85 0 1 0 -19.7 0M1958.4 1150.4a9.85 9.85 0 1 0 19.7 0a9.85 9.85 0 1 0 -19.7 0M1961.9 1128.8a9.85 9.85 0 1 0 19.7 0a9.85 9.85 0 1 0 -19.7 0M1976.6 1102.1a9.85 9.85 0 1 0 19.7 0a9.85 9.85 0 1 0 -19.7 0M1994.4 1114.3a9.85 9.85 0 1 0 19.7 0a9.85 9.85 0 1 0 -19.7 0M2003.8 1111.5a9.85 9.85 0 1 0 19.7 0a9.85 9.85 0 1 0 -19.7 0M2005.8 1141a9.85 9.85 0 1 0 19.7 0a9.85 9.85 0 1 0 -19.7 0M2008.4 1127.5a9.85 9.85 0 1 0 19.7 0a9.85 9.85 0 1 0 -19.7 0M2018 1126.2a9.85 9.85 0 1 0 19.7 0a9.85 9.85 0 1 0 -19.7 0M2022.3 1137.7a9.85 9.85 0 1 0 19.7 0a9.85 9.85 0 1 0 -19.7 0M2027.4 1138.9a9.85 9.85 0 1 0 19.7 0a9.85 9.85 0 1 0 -19.7 0M2029.4 1125a9.85 9.85 0 1 0 19.7 0a9.85 9.85 0 1 0 -19.7 0M2035.8 1127.5a9.85 9.85 0 1 0 19.7 0a9.85 9.85 0 1 0 -19.7 0M2102.8 1123.7a9.85 9.85 0 1 0 19.7 0a9.85 9.85 0 1 0 -19.7 0M2106.1 1100.9a9.85 9.85 0 1 0 19.7 0a9.85 9.85 0 1 0 -19.7 0M2115 1122.4a9.85 9.85 0 1 0 19.7 0a9.85 9.85 0 1 0 -19.7 0M2117.5 1137.7a9.85 9.85 0 1 0 19.7 0a9.85 9.85 0 1 0 -19.7 0M2122.6 1126.2a9.85 9.85 0 1 0 19.7 0a9.85 9.85 0 1 0 -19.7 0M2147.5 1152.9a9.85 9.85 0 1 0 19.7 0a9.85 9.85 0 1 0 -19.7 0M2149.2 1107.2a9.85 9.85 0 1 0 19.7 0a9.85 9.85 0 1 0 -19.7 0M2156.9 1114.8a9.85 9.85 0 1 0 19.7 0a9.85 9.85 0 1 0 -19.7 0M2164.5 1122.4a9.85 9.85 0 1 0 19.7 0a9.85 9.85 0 1 0 -19.7 0M2182.7 1119.4a9.85 9.85 0 1 0 19.7 0a9.85 9.85 0 1 0 -19.7 0M2196.2 1117.4a9.85 9.85 0 1 0 19.7 0a9.85 9.85 0 1 0 -19.7 0M2203.3 1127.5a9.85 9.85 0 1 0 19.7 0a9.85 9.85 0 1 0 -19.7 0M2195.2 1116.1a9.85 9.85 0 1 0 19.7 0a9.85 9.85 0 1 0 -19.7 0M2200.3 1121.2a9.85 9.85 0 1 0 19.7 0a9.85 9.85 0 1 0 -19.7 0M2202.8 1128.8a9.85 9.85 0 1 0 19.7 0a9.85 9.85 0 1 0 -19.7 0M2218.1 1133.9a9.85 9.85 0 1 0 19.7 0a9.85 9.85 0 1 0 -19.7 0M2221.9 1132.6a9.85 9.85 0 1 0 19.7 0a9.85 9.85 0 1 0 -19.7 0M2225.7 1128.8a9.85 9.85 0 1 0 19.7 0a9.85 9.85 0 1 0 -19.7 0M2230.8 1126.2a9.85 9.85 0 1 0 19.7 0a9.85 9.85 0 1 0 -19.7 0M2237.1 1125a9.85 9.85 0 1 0 19.7 0a9.85 9.85 0 1 0 -19.7 0M2244.7 1123.7a9.85 9.85 0 1 0 19.7 0a9.85 9.85 0 1 0 -19.7 0M2253.6 1123.7a9.85 9.85 0 1 0 19.7 0a9.85 9.85 0 1 0 -19.7 0M2256.1 1116.1a9.85 9.85 0 1 0 19.7 0a9.85 9.85 0 1 0 -19.7 0M2261.2 1118.6a9.85 9.85 0 1 0 19.7 0a9.85 9.85 0 1 0 -19.7 0M2263.8 1122.4a9.85 9.85 0 1 0 19.7 0a9.85 9.85 0 1 0 -19.7 0M2266.3 1121.2a9.85 9.85 0 1 0 19.7 0a9.85 9.85 0 1 0 -19.7 0M2272.6 1126.2a9.85 9.85 0 1 0 19.7 0a9.85 9.85 0 1 0 -19.7 0M2276.4 1127.5a9.85 9.85 0 1 0 19.7 0a9.85 9.85 0 1 0 -19.7 0M2279 1136.4a9.85 9.85 0 1 0 19.7 0a9.85 9.85 0 1 0 -19.7 0M2287.9 1138.9a9.85 9.85 0 1 0 19.7 0a9.85 9.85 0 1 0 -19.7 0M2292.9 1128.8a9.85 9.85 0 1 0 19.7 0a9.85 9.85 0 1 0 -19.7 0M2298.8 1133.9a9.85 9.85 0 1 0 19.7 0a9.85 9.85 0 1 0 -19.7 0M2314.5 1135.1a9.85 9.85 0 1 0 19.7 0a9.85 9.85 0 1 0 -19.7 0M2320.9 1117.4a9.85 9.85 0 1 0 19.7 0a9.85 9.85 0 1 0 -19.7 0M2345 1125a9.85 9.85 0 1 0 19.7 0a9.85 9.85 0 1 0 -19.7 0M2347.5 1126.2a9.85 9.85 0 1 0 19.7 0a9.85 9.85 0 1 0 -19.7 0M2350.6 1126.2a9.85 9.85 0 1 0 19.7 0a9.85 9.85 0 1 0 -19.7 0M2356.4 1136.4a9.85 9.85 0 1 0 19.7 0a9.85 9.85 0 1 0 -19.7 0M2358.9 1127.5a9.85 9.85 0 1 0 19.7 0a9.85 9.85 0 1 0 -19.7 0M2362.7 1125a9.85 9.85 0 1 0 19.7 0a9.85 9.85 0 1 0 -19.7 0M2365.3 1130.1a9.85 9.85 0 1 0 19.7 0a9.85 9.85 0 1 0 -19.7 0M2371.6 1126.2a9.85 9.85 0 1 0 19.7 0a9.85 9.85 0 1 0 -19.7 0M2379.2 1116.1a9.85 9.85 0 1 0 19.7 0a9.85 9.85 0 1 0 -19.7 0M2384.3 1127.5a9.85 9.85 0 1 0 19.7 0a9.85 9.85 0 1 0 -19.7 0M2399.5 1127.5a9.85 9.85 0 1 0 19.7 0a9.85 9.85 0 1 0 -19.7 0M2402.1 1125a9.85 9.85 0 1 0 19.7 0a9.85 9.85 0 1 0 -19.7 0M2405.9 1126.2a9.85 9.85 0 1 0 19.7 0a9.85 9.85 0 1 0 -19.7 0M2426.2 1107.2a9.85 9.85 0 1 0 19.7 0a9.85 9.85 0 1 0 -19.7 0M2433.8 1115.3a9.85 9.85 0 1 0 19.7 0a9.85 9.85 0 1 0 -19.7 0M2423.1 1134.6a9.85 9.85 0 1 0 19.7 0a9.85 9.85 0 1 0 -19.7 0M2442.7 1137.7a9.85 9.85 0 1 0 19.7 0a9.85 9.85 0 1 0 -19.7 0M2454.9 1120.4a9.85 9.85 0 1 0 19.7 0a9.85 9.85 0 1 0 -19.7 0M2459.2 1090.7a9.85 9.85 0 1 0 19.7 0a9.85 9.85 0 1 0 -19.7 0M2457.9 1092a9.85 9.85 0 1 0 19.7 0a9.85 9.85 0 1 0 -19.7 0M2477 1130.1a9.85 9.85 0 1 0 19.7 0a9.85 9.85 0 1 0 -19.7 0M2480.8 1142.7a9.85 9.85 0 1 0 19.7 0a9.85 9.85 0 1 0 -19.7 0M2483.3 1150.4a9.85 9.85 0 1 0 19.7 0a9.85 9.85 0 1 0 -19.7 0M2492.2 1135.1a9.85 9.85 0 1 0 19.7 0a9.85 9.85 0 1 0 -19.7 0M2499.8 1108.5a9.85 9.85 0 1 0 19.7 0a9.85 9.85 0 1 0 -19.7 0M2503.6 1114.8a9.85 9.85 0 1 0 19.7 0a9.85 9.85 0 1 0 -19.7 0M2502.3 1147.8a9.85 9.85 0 1 0 19.7 0a9.85 9.85 0 1 0 -19.7 0M2511.2 1140.2a9.85 9.85 0 1 0 19.7 0a9.85 9.85 0 1 0 -19.7 0M2512.5 1128.8a9.85 9.85 0 1 0 19.7 0a9.85 9.85 0 1 0 -19.7 0M2534.8 1116.9a9.85 9.85 0 1 0 19.7 0a9.85 9.85 0 1 0 -19.7 0M2555.6 1118.6a9.85 9.85 0 1 0 19.7 0a9.85 9.85 0 1 0 -19.7 0M2562 1118.1a9.85 9.85 0 1 0 19.7 0a9.85 9.85 0 1 0 -19.7 0M2568.3 1127.5a9.85 9.85 0 1 0 19.7 0a9.85 9.85 0 1 0 -19.7 0M2575.9 1130.1a9.85 9.85 0 1 0 19.7 0a9.85 9.85 0 1 0 -19.7 0M2579.2 1128.8a9.85 9.85 0 1 0 19.7 0a9.85 9.85 0 1 0 -19.7 0M2583 1122.4a9.85 9.85 0 1 0 19.7 0a9.85 9.85 0 1 0 -19.7 0M2586.1 1128.8a9.85 9.85 0 1 0 19.7 0a9.85 9.85 0 1 0 -19.7 0M2596.2 1128.8a9.85 9.85 0 1 0 19.7 0a9.85 9.85 0 1 0 -19.7 0M2604.4 1127.5a9.85 9.85 0 1 0 19.7 0a9.85 9.85 0 1 0 -19.7 0M2606.4 1126.2a9.85 9.85 0 1 0 19.7 0a9.85 9.85 0 1 0 -19.7 0M2614 1123.7a9.85 9.85 0 1 0 19.7 0a9.85 9.85 0 1 0 -19.7 0M2629.7 1122.4a9.85 9.85 0 1 0 19.7 0a9.85 9.85 0 1 0 -19.7 0M2631.8 1116.1a9.85 9.85 0 1 0 19.7 0a9.85 9.85 0 1 0 -19.7 0M2656.6 1126.2a9.85 9.85 0 1 0 19.7 0a9.85 9.85 0 1 0 -19.7 0M2657.2 1126.2a9.85 9.85 0 1 0 19.7 0a9.85 9.85 0 1 0 -19.7 0M2671.1 1111a9.85 9.85 0 1 0 19.7 0a9.85 9.85 0 1 0 -19.7 0M2677.5 1107.2a9.85 9.85 0 1 0 19.7 0a9.85 9.85 0 1 0 -19.7 0M2678.7 1127.5a9.85 9.85 0 1 0 19.7 0a9.85 9.85 0 1 0 -19.7 0M2691.4 1141.5a9.85 9.85 0 1 0 19.7 0a9.85 9.85 0 1 0 -19.7 0M2605.1 1105.9a9.85 9.85 0 1 0 19.7 0a9.85 9.85 0 1 0 -19.7 0M2639.4 1111a9.85 9.85 0 1 0 19.7 0a9.85 9.85 0 1 0 -19.7 0M2590.7 1152.9a9.85 9.85 0 1 0 19.7 0a9.85 9.85 0 1 0 -19.7 0M2617.3 1143.2a9.85 9.85 0 1 0 19.7 0a9.85 9.85 0 1 0 -19.7 0M2641.9 1141.5a9.85 9.85 0 1 0 19.7 0a9.85 9.85 0 1 0 -19.7 0M2649 1142.2a9.85 9.85 0 1 0 19.7 0a9.85 9.85 0 1 0 -19.7 0M2676.5 1108a9.85 9.85 0 1 0 19.7 0a9.85 9.85 0 1 0 -19.7 0M2681.6 1126.2a9.85 9.85 0 1 0 19.7 0a9.85 9.85 0 1 0 -19.7 0M2698.1 1142.7a9.85 9.85 0 1 0 19.7 0a9.85 9.85 0 1 0 -19.7 0M2705.7 1113.6a9.85 9.85 0 1 0 19.7 0a9.85 9.85 0 1 0 -19.7 0M2712 1127.5a9.85 9.85 0 1 0 19.7 0a9.85 9.85 0 1 0 -19.7 0M2714.6 1132.6a9.85 9.85 0 1 0 19.7 0a9.85 9.85 0 1 0 -19.7 0M2718.4 1135.1a9.85 9.85 0 1 0 19.7 0a9.85 9.85 0 1 0 -19.7 0M2722.2 1116.1a9.85 9.85 0 1 0 19.7 0a9.85 9.85 0 1 0 -19.7 0M2727.3 1125a9.85 9.85 0 1 0 19.7 0a9.85 9.85 0 1 0 -19.7 0M2731.1 1127.5a9.85 9.85 0 1 0 19.7 0a9.85 9.85 0 1 0 -19.7 0M2734.1 1131.3a9.85 9.85 0 1 0 19.7 0a9.85 9.85 0 1 0 -19.7 0M2739.9 1127.5a9.85 9.85 0 1 0 19.7 0a9.85 9.85 0 1 0 -19.7 0M2757.7 1113.6a9.85 9.85 0 1 0 19.7 0a9.85 9.85 0 1 0 -19.7 0M2766.6 1123.7a9.85 9.85 0 1 0 19.7 0a9.85 9.85 0 1 0 -19.7 0M2779.3 1114.8a9.85 9.85 0 1 0 19.7 0a9.85 9.85 0 1 0 -19.7 0M2783.1 1108.5a9.85 9.85 0 1 0 19.7 0a9.85 9.85 0 1 0 -19.7 0M2789.4 1114.8a9.85 9.85 0 1 0 19.7 0a9.85 9.85 0 1 0 -19.7 0M2793.2 1128.8a9.85 9.85 0 1 0 19.7 0a9.85 9.85 0 1 0 -19.7 0M2804.7 1131.3a9.85 9.85 0 1 0 19.7 0a9.85 9.85 0 1 0 -19.7 0M2811.5 1102.9a9.85 9.85 0 1 0 19.7 0a9.85 9.85 0 1 0 -19.7 0M2826.2 1130.8a9.85 9.85 0 1 0 19.7 0a9.85 9.85 0 1 0 -19.7 0M2828.8 1098.3a9.85 9.85 0 1 0 19.7 0a9.85 9.85 0 1 0 -19.7 0M2832.6 1137.7a9.85 9.85 0 1 0 19.7 0a9.85 9.85 0 1 0 -19.7 0M2845.3 1103.4a9.85 9.85 0 1 0 19.7 0a9.85 9.85 0 1 0 -19.7 0M2847.8 1117.4a9.85 9.85 0 1 0 19.7 0a9.85 9.85 0 1 0 -19.7 0M2852.4 1114.8a9.85 9.85 0 1 0 19.7 0a9.85 9.85 0 1 0 -19.7 0M2859.2 1118.6a9.85 9.85 0 1 0 19.7 0a9.85 9.85 0 1 0 -19.7 0M2871.4 1128.8a9.85 9.85 0 1 0 19.7 0a9.85 9.85 0 1 0 -19.7 0M2882.8 1099.6a9.85 9.85 0 1 0 19.7 0a9.85 9.85 0 1 0 -19.7 0M2889.7 1122.4a9.85 9.85 0 1 0 19.7 0a9.85 9.85 0 1 0 -19.7 0M2896.8 1122.4a9.85 9.85 0 1 0 19.7 0a9.85 9.85 0 1 0 -19.7 0M2898.6 1123.7a9.85 9.85 0 1 0 19.7 0a9.85 9.85 0 1 0 -19.7 0M2900.6 1130.1a9.85 9.85 0 1 0 19.7 0a9.85 9.85 0 1 0 -19.7 0M2903.7 1127.5a9.85 9.85 0 1 0 19.7 0a9.85 9.85 0 1 0 -19.7 0M2916.3 1121.2a9.85 9.85 0 1 0 19.7 0a9.85 9.85 0 1 0 -19.7 0M2959.5 1121.2a9.85 9.85 0 1 0 19.7 0a9.85 9.85 0 1 0 -19.7 0M2968.6 1112.3a9.85 9.85 0 1 0 19.7 0a9.85 9.85 0 1 0 -19.7 0M2971.7 1144a9.85 9.85 0 1 0 19.7 0a9.85 9.85 0 1 0 -19.7 0M2976 1118.6a9.85 9.85 0 1 0 19.7 0a9.85 9.85 0 1 0 -19.7 0M2983.6 1116.1a9.85 9.85 0 1 0 19.7 0a9.85 9.85 0 1 0 -19.7 0M2987.4 1130.1a9.85 9.85 0 1 0 19.7 0a9.85 9.85 0 1 0 -19.7 0M2990.5 1122.4a9.85 9.85 0 1 0 19.7 0a9.85 9.85 0 1 0 -19.7 0M3000.1 1119.9a9.85 9.85 0 1 0 19.7 0a9.85 9.85 0 1 0 -19.7 0M3005.2 1133.9a9.85 9.85 0 1 0 19.7 0a9.85 9.85 0 1 0 -19.7 0M3012.8 1141.5a9.85 9.85 0 1 0 19.7 0a9.85 9.85 0 1 0 -19.7 0M3014.1 1135.1a9.85 9.85 0 1 0 19.7 0a9.85 9.85 0 1 0 -19.7 0M3020.4 1123.7a9.85 9.85 0 1 0 19.7 0a9.85 9.85 0 1 0 -19.7 0M3028.3 1104.7a9.85 9.85 0 1 0 19.7 0a9.85 9.85 0 1 0 -19.7 0M3035.6 1126.2a9.85 9.85 0 1 0 19.7 0a9.85 9.85 0 1 0 -19.7 0M3044.5 1113.6a9.85 9.85 0 1 0 19.7 0a9.85 9.85 0 1 0 -19.7 0M3045.8 1125a9.85 9.85 0 1 0 19.7 0a9.85 9.85 0 1 0 -19.7 0M3055.9 1135.1a9.85 9.85 0 1 0 19.7 0a9.85 9.85 0 1 0 -19.7 0M3065.3 1125a9.85 9.85 0 1 0 19.7 0a9.85 9.85 0 1 0 -19.7 0M3106.8 1092.3a9.85 9.85 0 1 0 19.7 0a9.85 9.85 0 1 0 -19.7 0M3151.7 1103.9a9.85 9.85 0 1 0 19.7 0a9.85 9.85 0 1 0 -19.7 0M3122.1 1117.2a9.85 9.85 0 1 0 19.7 0a9.85 9.85 0 1 0 -19.7 0M3090.1 1118.6a9.85 9.85 0 1 0 19.7 0a9.85 9.85 0 1 0 -19.7 0M3108.8 1125.6a9.85 9.85 0 1 0 19.7 0a9.85 9.85 0 1 0 -19.7 0M3124.1 1139.2a9.85 9.85 0 1 0 19.7 0a9.85 9.85 0 1 0 -19.7 0M3083.5 1140.6a9.85 9.85 0 1 0 19.7 0a9.85 9.85 0 1 0 -19.7 0M3092.1 1139.9a9.85 9.85 0 1 0 19.7 0a9.85 9.85 0 1 0 -19.7 0M3142.8 1129.2a9.85 9.85 0 1 0 19.7 0a9.85 9.85 0 1 0 -19.7 0M3144.8 1125.2a9.85 9.85 0 1 0 19.7 0a9.85 9.85 0 1 0 -19.7 0M3155.4 1127.2a9.85 9.85 0 1 0 19.7 0a9.85 9.85 0 1 0 -19.7 0M3161 1135.9a9.85 9.85 0 1 0 19.7 0a9.85 9.85 0 1 0 -19.7 0M3173.4 1131.2a9.85 9.85 0 1 0 19.7 0a9.85 9.85 0 1 0 -19.7 0M3068.8 1123.9a9.85 9.85 0 1 0 19.7 0a9.85 9.85 0 1 0 -19.7 0M2115 1126.5a9.85 9.85 0 1 0 19.7 0a9.85 9.85 0 1 0 -19.7 0M2108 1129.8a9.85 9.85 0 1 0 19.7 0a9.85 9.85 0 1 0 -19.7 0M2125.4 1121.4a9.85 9.85 0 1 0 19.7 0a9.85 9.85 0 1 0 -19.7 0M2132 1121.2a9.85 9.85 0 1 0 19.7 0a9.85 9.85 0 1 0 -19.7 0M2136.7 1116.5a9.85 9.85 0 1 0 19.7 0a9.85 9.85 0 1 0 -19.7 0M2153.7 1132a9.85 9.85 0 1 0 19.7 0a9.85 9.85 0 1 0 -19.7 0M2152.1 1124.3a9.85 9.85 0 1 0 19.7 0a9.85 9.85 0 1 0 -19.7 0M2152.7 1119a9.85 9.85 0 1 0 19.7 0a9.85 9.85 0 1 0 -19.7 0M2166.3 1130.5a9.85 9.85 0 1 0 19.7 0a9.85 9.85 0 1 0 -19.7 0M2176.9 1124.6a9.85 9.85 0 1 0 19.7 0a9.85 9.85 0 1 0 -19.7 0M2180.6 1129.4a9.85 9.85 0 1 0 19.7 0a9.85 9.85 0 1 0 -19.7 0M2199.5 1122.6a9.85 9.85 0 1 0 19.7 0a9.85 9.85 0 1 0 -19.7 0M2205.3 1127.5a9.85 9.85 0 1 0 19.7 0a9.85 9.85 0 1 0 -19.7 0M2210.2 1125.4a9.85 9.85 0 1 0 19.7 0a9.85 9.85 0 1 0 -19.7 0M2192.6 1142.3a9.85 9.85 0 1 0 19.7 0a9.85 9.85 0 1 0 -19.7 0M2200.7 1126.5a9.85 9.85 0 1 0 19.7 0a9.85 9.85 0 1 0 -19.7 0M2223.9 1119a9.85 9.85 0 1 0 19.7 0a9.85 9.85 0 1 0 -19.7 0M2252.1 1114.3a9.85 9.85 0 1 0 19.7 0a9.85 9.85 0 1 0 -19.7 0M2248.5 1136.3a9.85 9.85 0 1 0 19.7 0a9.85 9.85 0 1 0 -19.7 0M2265.7 1113.2a9.85 9.85 0 1 0 19.7 0a9.85 9.85 0 1 0 -19.7 0M2287.8 1121.8a9.85 9.85 0 1 0 19.7 0a9.85 9.85 0 1 0 -19.7 0M2289.5 1125.1a9.85 9.85 0 1 0 19.7 0a9.85 9.85 0 1 0 -19.7 0M2321.3 1124.7a9.85 9.85 0 1 0 19.7 0a9.85 9.85 0 1 0 -19.7 0M2316.9 1135.8a9.85 9.85 0 1 0 19.7 0a9.85 9.85 0 1 0 -19.7 0M2349.7 1118.2a9.85 9.85 0 1 0 19.7 0a9.85 9.85 0 1 0 -19.7 0M2366.5 1124.8a9.85 9.85 0 1 0 19.7 0a9.85 9.85 0 1 0 -19.7 0M2378.3 1133.4a9.85 9.85 0 1 0 19.7 0a9.85 9.85 0 1 0 -19.7 0M2378.9 1130.1a9.85 9.85 0 1 0 19.7 0a9.85 9.85 0 1 0 -19.7 0M2413.5 1129.6a9.85 9.85 0 1 0 19.7 0a9.85 9.85 0 1 0 -19.7 0M2560.7 1121.7a9.85 9.85 0 1 0 19.7 0a9.85 9.85 0 1 0 -19.7 0M2572.6 1127.4a9.85 9.85 0 1 0 19.7 0a9.85 9.85 0 1 0 -19.7 0M2594.4 1128.2a9.85 9.85 0 1 0 19.7 0a9.85 9.85 0 1 0 -19.7 0M2598.5 1130.4a9.85 9.85 0 1 0 19.7 0a9.85 9.85 0 1 0 -19.7 0M2626.4 1131.6a9.85 9.85 0 1 0 19.7 0a9.85 9.85 0 1 0 -19.7 0M2623.8 1123.6a9.85 9.85 0 1 0 19.7 0a9.85 9.85 0 1 0 -19.7 0M2659.7 1136.3a9.85 9.85 0 1 0 19.7 0a9.85 9.85 0 1 0 -19.7 0M2645.8 1124.5a9.85 9.85 0 1 0 19.7 0a9.85 9.85 0 1 0 -19.7 0M2662.9 1129.4a9.85 9.85 0 1 0 19.7 0a9.85 9.85 0 1 0 -19.7 0M2682.8 1145.8a9.85 9.85 0 1 0 19.7 0a9.85 9.85 0 1 0 -19.7 0M2670.2 1131.9a9.85 9.85 0 1 0 19.7 0a9.85 9.85 0 1 0 -19.7 0M2696 1126.1a9.85 9.85 0 1 0 19.7 0a9.85 9.85 0 1 0 -19.7 0M2701.7 1133a9.85 9.85 0 1 0 19.7 0a9.85 9.85 0 1 0 -19.7 0M2730.3 1125.4a9.85 9.85 0 1 0 19.7 0a9.85 9.85 0 1 0 -19.7 0M2743.8 1132.7a9.85 9.85 0 1 0 19.7 0a9.85 9.85 0 1 0 -19.7 0M2766.9 1124.2a9.85 9.85 0 1 0 19.7 0a9.85 9.85 0 1 0 -19.7 0M2780.5 1129.1a9.85 9.85 0 1 0 19.7 0a9.85 9.85 0 1 0 -19.7 0M2826.8 1129.5a9.85 9.85 0 1 0 19.7 0a9.85 9.85 0 1 0 -19.7 0M2825.6 1118.2a9.85 9.85 0 1 0 19.7 0a9.85 9.85 0 1 0 -19.7 0M2872.2 1121.8a9.85 9.85 0 1 0 19.7 0a9.85 9.85 0 1 0 -19.7 0M2868.3 1132.1a9.85 9.85 0 1 0 19.7 0a9.85 9.85 0 1 0 -19.7 0M2876.4 1124.3a9.85 9.85 0 1 0 19.7 0a9.85 9.85 0 1 0 -19.7 0M2898.1 1131.3a9.85 9.85 0 1 0 19.7 0a9.85 9.85 0 1 0 -19.7 0M2966.4 1142.6a9.85 9.85 0 1 0 19.7 0a9.85 9.85 0 1 0 -19.7 0M2994 1125.9a9.85 9.85 0 1 0 19.7 0a9.85 9.85 0 1 0 -19.7 0M2985.5 1116a9.85 9.85 0 1 0 19.7 0a9.85 9.85 0 1 0 -19.7 0M3014.9 1123.5a9.85 9.85 0 1 0 19.7 0a9.85 9.85 0 1 0 -19.7 0M3017.2 1124.2a9.85 9.85 0 1 0 19.7 0a9.85 9.85 0 1 0 -19.7 0M3019.2 1121.9a9.85 9.85 0 1 0 19.7 0a9.85 9.85 0 1 0 -19.7 0M3052.7 1125.2a9.85 9.85 0 1 0 19.7 0a9.85 9.85 0 1 0 -19.7 0M3050.1 1125.6a9.85 9.85 0 1 0 19.7 0a9.85 9.85 0 1 0 -19.7 0" fill="#ff7f0e"/></g>
<rect x="315" y="760.7" width="3004.2" height="435.1" fill="none" stroke="#000" stroke-width="4.4"/>
<text x="394" y="1280.2" text-anchor="middle">2015-12</text>
<text x="736.3" y="1280.2" text-anchor="middle">2016-06</text>
<text x="1078.5" y="1280.2" text-anchor="middle">2016-12</text>
<text x="1418.9" y="1280.2" text-anchor="middle">2017-06</text>
<text x="1761.2" y="1280.2" text-anchor="middle">2017-12</text>
<text x="2101.6" y="1280.2" text-anchor="middle">2018-06</text>
<text x="2443.8" y="1280.2" text-anchor="middle">2018-12</text>
<text x="2784.2" y="1280.2" text-anchor="middle">2019-06</text>
<text x="3126.5" y="1280.2" text-anchor="middle">2019-12</text>
<text x="272" y="1163.2" text-anchor="end">0.000</text>
<text x="272" y="1027.2" text-anchor="end">0.025</text>
<text x="272" y="891.3" text-anchor="end">0.050</text>
<text x="314.7" y="739.1" style="font-size:68px">(b)</text>
<text transform="translate(78.6 978.2) rotate(-90)" text-anchor="middle" font-style="italic">δ</text>
<g clip-path="url(#h1)"><path d="M3482.4 1038.8H3485.2V1050H3482.4ZM3482.4 1049.7H3489.9V1061.6H3482.4ZM3482.4 1061.3H3504.2V1072.4H3482.4ZM3482.4 1072.1H3540.3V1084H3482.4ZM3482.4 1083.7H3623.3V1094.9H3482.4ZM3482.4 1094.6H3801.8V1106.5H3482.4ZM3482.4 1106.2H3996.7V1117.3H3482.4ZM3482.4 1117H4080.7V1128.6H3482.4ZM3482.4 1128.3H3902.9V1139.5H3482.4ZM3482.4 1139.2H3655.9V1151H3482.4ZM3482.4 1150.7H3559V1162.6H3482.4ZM3482.4 1162.3H3523.3V1173.5H3482.4ZM3482.4 1173.2H3510V1185H3482.4ZM3482.4 1184.7H3500.8V1196.6H3482.4Z" fill="#ff7f0e"/></g>
<path d="M3783.1 760.7V1195.8M4083.5 760.7V1195.8M3482.4 1141.4H4110.7M3482.4 1005.4H4110.7M3482.4 869.5H4110.7" stroke="#b0b0b0" stroke-width="4.4" fill="none"/>
<path d="M3482.4 1195.8v19.4M3783.1 1195.8v19.4M4083.5 1195.8v19.4M3482.4 1141.4h-19.4M3482.4 1005.4h-19.4M3482.4 869.5h-19.4" stroke="#000" stroke-width="4.4" fill="none"/>
<rect x="3482.4" y="760.7" width="628.3" height="435.1" fill="none" stroke="#000" stroke-width="4.4"/>
<text x="3482.4" y="1280.2" text-anchor="middle">0</text>
<text x="3783.1" y="1280.2" text-anchor="middle">20000</text>
<text x="4083.5" y="1280.2" text-anchor="middle">40000</text>
<text x="3796.5" y="1358" text-anchor="middle">N</text>
<path d="M3795.9 763.8H4061Q4077.9 763.8 4077.9 780.7V903Q4077.9 919.9 4061 919.9H3795.9Q3779 919.9 3779 903V780.7Q3779 763.8 3795.9 763.8Z" fill="#f5deb3" fill-opacity="0.5" stroke="#000" stroke-opacity="0.5" stroke-width="5.6"/>
<text x="3797.4" y="827.9"><tspan font-style="italic">μ</tspan> = 0.004</text>
<text x="3797.4" y="892.8"><tspan font-style="italic">σ</tspan> = 0.004</text>
<path d="M394 1413.3V1848.4M736.3 1413.3V1848.4M1078.5 1413.3V1848.4M1418.9 1413.3V1848.4M1761.2 1413.3V1848.4M2101.6 1413.3V1848.4M2443.8 1413.3V1848.4M2784.2 1413.3V1848.4M3126.5 1413.3V1848.4M315 1794H3319.2M315 1658H3319.2M315 1522.1H3319.2" stroke="#b0b0b0" stroke-width="4.4" fill="none"/>
<path d="M394 1848.4v19.4M736.3 1848.4v19.4M1078.5 1848.4v19.4M1418.9 1848.4v19.4M1761.2 1848.4v19.4M2101.6 1848.4v19.4M2443.8 1848.4v19.4M2784.2 1848.4v19.4M3126.5 1848.4v19.4M315 1794h-19.4M315 1658h-19.4M315 1522.1h-19.4" stroke="#000" stroke-width="4.4" fill="none"/>
<g clip-path="url(#c2)"><path d="M471.9 1730.7V1798.7M514.7 1584V1744.4M519 1746.5V1784.1M529.5 1600.1V1751.8M535.6 1592.9V1737.5M551.9 1686.6V1774.9M554.3 1678.7V1764.6M561.4 1730.8V1791.7M566.9 1745.5V1783.9M589.2 1674.9V1760.2M591.3 1639.4V1749M603.7 1636.9V1663.5M606.5 1605V1771.3M613.8 1716.5V1779.5M615.8 1663.9V1762.3M626.8 1668.1V1773.1M630.9 1663.5V1763.6M637.6 1725.7V1790.7M640.4 1695.5V1772.1M641.6 1730.8V1795.7M647.7 1758.2V1798.8M652.8 1749.4V1795.3M658.5 1670.9V1772.4M660.9 1673.1V1796.5M675.5 1674.9V1752.1M678.2 1643.5V1795.7M694 1744.5V1790.2M700.5 1749V1785.6M707.6 1700V1804.2M712.7 1732.8V1795.7M722.8 1701.5V1798.6M731.6 1717.1V1789.1M745.2 1735.5V1793M753.9 1748.7V1798.1M769.1 1675.9V1799.8M780.1 1724.7V1785.6M791.5 1761.6V1799.4M799.6 1701.3V1776.4M792.2 1761.8V1799.2M801.3 1701.3V1776.4M814.1 1655.6V1824.2M816.5 1754.1V1794.7M823.7 1740.3V1804.5M833.2 1696.2V1771.4M842.9 1731.8V1788.6M848 1750.5V1800.4M860.8 1704.4V1797.8M870.4 1769.3V1824.2M872.4 1704.9V1831.8M876.4 1720.6V1779.5M885.6 1750.5V1802.4M892.7 1698.3V1781.5M903.9 1732.8V1791.7M911.6 1717.1V1797.3M923.1 1752.7V1790.1M935.3 1721.3V1801.1M948.5 1747.6V1789M954.6 1754.1V1798.8M956.2 1772.2V1834.3M975.3 1714.5V1785.6M997.7 1760.9V1785.9M1018.6 1600.2V1778.1M1020.2 1520V1682.4M1025.7 1639.2V1755.3M1040.9 1546.6V1714.7M1042.9 1545.5V1735.3M1046 1604.4V1737.4M1048 1651.6V1755.1M1052.1 1681V1776.4M1055.1 1623.4V1775.2M1057.8 1623.7V1760.7M1072.4 1604.5V1743.4M1074.8 1747.2V1787.4M1078.1 1598.8V1734.8M1085.6 1642.4V1792.7M1089.6 1595.7V1721.6M1098.2 1597.8V1760.2M1121.1 1599.2V1752.7M1121.1 1665.2V1788.2M1130.3 1596.4V1751.4M1135.7 1573.8V1732.6M1152.6 1628.2V1758.2M1157.1 1609.9V1746M1174.9 1642.1V1776.8M1179 1718.6V1765.3M1210.8 1752.9V1787.8M1217.9 1757.4V1793.5M1233.1 1714V1775.9M1257.5 1623.5V1735.7M1267 1647.4V1769.4M1269.6 1652.1V1770.9M1286.9 1625.4V1759M1295 1739.4V1779M1297.1 1632.3V1776.4M1304.2 1625.7V1760.7M1307.6 1631.6V1672.8M1314.3 1638.1V1762.5M1319.4 1735.7V1792M1323 1604.9V1696.2M1336.6 1692.3V1764M1341.7 1753.1V1785.6M1345.2 1772.4V1804.9M1354.9 1646.5V1741.9M1362 1675.1V1768.1M1371.8 1715.9V1777.3M1383.4 1778.5V1802.8M1390.1 1706.4V1761.2M1394.5 1728.7V1799.8M1401.6 1687.7V1758.8M1420.5 1696.2V1791.7M1432.1 1709.4V1766.3M1424 1769.7V1807.5M1448.3 1776.9V1806.5M1488.9 1697.3V1786.6M1481.8 1709V1778.9M1515.3 1720V1796.3M1534.6 1739.9V1804.9M780 1732.3V1775.6M797.5 1739.7V1783.1M794.5 1751.1V1786.4M809.6 1752.8V1800.9M833.2 1722V1775M828 1740.3V1758.4M846.5 1754.1V1772.6M846.4 1754.2V1775.8M861.9 1757.9V1814.5M891.4 1754.6V1793.6M903.5 1707.2V1772.1M915.4 1741.7V1796.7M910.7 1753.9V1798M930 1724.2V1795.9M934.8 1720.3V1790.7M949.4 1762.5V1793.9M971.6 1734.2V1817.4M983 1759.3V1793.2M1387.5 1743.2V1803.8M1390.5 1748.8V1788.4M1397.4 1756.2V1790.3M1401.1 1745.5V1784.3M1402.6 1751.4V1783.1M1413.2 1730.1V1790.2M1419.9 1720V1752.8M1417.9 1758.6V1802M1419.6 1748.2V1796.5M1429.3 1751.8V1789.8M1436 1726.6V1794.1M1440.5 1739.3V1784.8M1441.2 1752V1771.5M1449.7 1734.1V1778.1M1451.4 1725.5V1797.3M1458.4 1751.1V1785M1461.6 1751.2V1784.3M1467.8 1751.8V1782.6M1472.2 1736.4V1775.4M1475 1760.9V1803.3M1488.2 1744.2V1794.4M1489 1742.3V1789M1490.6 1736.7V1785.2M1494.8 1732.3V1783.9M1496.5 1743.5V1768.2M1503.4 1742.3V1802.1M1507 1748.8V1797.4M1515.6 1754.8V1796.8M1516.4 1763.6V1784.9M1525.6 1750.5V1796.2M1528 1764.7V1789M1528.2 1754.2V1800.7M1536.4 1736.4V1796.3M1545 1761.1V1783.4" stroke="#139513" stroke-width="2.8" fill="none"/>
<path d="M462 1764.7a9.85 9.85 0 1 0 19.7 0a9.85 9.85 0 1 0 -19.7 0M504.9 1664.2a9.85 9.85 0 1 0 19.7 0a9.85 9.85 0 1 0 -19.7 0M509.1 1765.3a9.85 9.85 0 1 0 19.7 0a9.85 9.85 0 1 0 -19.7 0M519.7 1675.9a9.85 9.85 0 1 0 19.7 0a9.85 9.85 0 1 0 -19.7 0M525.8 1665.2a9.85 9.85 0 1 0 19.7 0a9.85 9.85 0 1 0 -19.7 0M542 1730.8a9.85 9.85 0 1 0 19.7 0a9.85 9.85 0 1 0 -19.7 0M544.5 1721.6a9.85 9.85 0 1 0 19.7 0a9.85 9.85 0 1 0 -19.7 0M551.6 1761.2a9.85 9.85 0 1 0 19.7 0a9.85 9.85 0 1 0 -19.7 0M554.6 1764.3a9.85 9.85 0 1 0 19.7 0a9.85 9.85 0 1 0 -19.7 0M557.1 1764.7a9.85 9.85 0 1 0 19.7 0a9.85 9.85 0 1 0 -19.7 0M579.4 1717.6a9.85 9.85 0 1 0 19.7 0a9.85 9.85 0 1 0 -19.7 0M581.4 1694.2a9.85 9.85 0 1 0 19.7 0a9.85 9.85 0 1 0 -19.7 0M593.8 1650.2a9.85 9.85 0 1 0 19.7 0a9.85 9.85 0 1 0 -19.7 0M596.6 1688.1a9.85 9.85 0 1 0 19.7 0a9.85 9.85 0 1 0 -19.7 0M604 1748a9.85 9.85 0 1 0 19.7 0a9.85 9.85 0 1 0 -19.7 0M606 1713.1a9.85 9.85 0 1 0 19.7 0a9.85 9.85 0 1 0 -19.7 0M617 1720.6a9.85 9.85 0 1 0 19.7 0a9.85 9.85 0 1 0 -19.7 0M621 1713.5a9.85 9.85 0 1 0 19.7 0a9.85 9.85 0 1 0 -19.7 0M623.7 1744a9.85 9.85 0 1 0 19.7 0a9.85 9.85 0 1 0 -19.7 0M627.7 1758.2a9.85 9.85 0 1 0 19.7 0a9.85 9.85 0 1 0 -19.7 0M630.6 1733.8a9.85 9.85 0 1 0 19.7 0a9.85 9.85 0 1 0 -19.7 0M631.8 1763.2a9.85 9.85 0 1 0 19.7 0a9.85 9.85 0 1 0 -19.7 0M637.9 1778.5a9.85 9.85 0 1 0 19.7 0a9.85 9.85 0 1 0 -19.7 0M642.9 1772.4a9.85 9.85 0 1 0 19.7 0a9.85 9.85 0 1 0 -19.7 0M648.6 1721.6a9.85 9.85 0 1 0 19.7 0a9.85 9.85 0 1 0 -19.7 0M651.1 1734.8a9.85 9.85 0 1 0 19.7 0a9.85 9.85 0 1 0 -19.7 0M656.1 1735.8a9.85 9.85 0 1 0 19.7 0a9.85 9.85 0 1 0 -19.7 0M662.2 1740.9a9.85 9.85 0 1 0 19.7 0a9.85 9.85 0 1 0 -19.7 0M665.7 1713.5a9.85 9.85 0 1 0 19.7 0a9.85 9.85 0 1 0 -19.7 0M668.3 1719.6a9.85 9.85 0 1 0 19.7 0a9.85 9.85 0 1 0 -19.7 0M669.3 1762.2a9.85 9.85 0 1 0 19.7 0a9.85 9.85 0 1 0 -19.7 0M684.2 1767.3a9.85 9.85 0 1 0 19.7 0a9.85 9.85 0 1 0 -19.7 0M690.7 1767.3a9.85 9.85 0 1 0 19.7 0a9.85 9.85 0 1 0 -19.7 0M697.8 1752.1a9.85 9.85 0 1 0 19.7 0a9.85 9.85 0 1 0 -19.7 0M702.8 1764.3a9.85 9.85 0 1 0 19.7 0a9.85 9.85 0 1 0 -19.7 0M706.9 1772.4a9.85 9.85 0 1 0 19.7 0a9.85 9.85 0 1 0 -19.7 0M713 1750.1a9.85 9.85 0 1 0 19.7 0a9.85 9.85 0 1 0 -19.7 0M717.1 1738.9a9.85 9.85 0 1 0 19.7 0a9.85 9.85 0 1 0 -19.7 0M716.6 1783.6a9.85 9.85 0 1 0 19.7 0a9.85 9.85 0 1 0 -19.7 0M721.7 1753.1a9.85 9.85 0 1 0 19.7 0a9.85 9.85 0 1 0 -19.7 0M735.3 1764.3a9.85 9.85 0 1 0 19.7 0a9.85 9.85 0 1 0 -19.7 0M744.1 1773.4a9.85 9.85 0 1 0 19.7 0a9.85 9.85 0 1 0 -19.7 0M755.6 1753.1a9.85 9.85 0 1 0 19.7 0a9.85 9.85 0 1 0 -19.7 0M759.3 1737.9a9.85 9.85 0 1 0 19.7 0a9.85 9.85 0 1 0 -19.7 0M761.7 1780.5a9.85 9.85 0 1 0 19.7 0a9.85 9.85 0 1 0 -19.7 0M770.3 1755.1a9.85 9.85 0 1 0 19.7 0a9.85 9.85 0 1 0 -19.7 0M767.8 1768.3a9.85 9.85 0 1 0 19.7 0a9.85 9.85 0 1 0 -19.7 0M781.6 1780.5a9.85 9.85 0 1 0 19.7 0a9.85 9.85 0 1 0 -19.7 0M786.1 1764.3a9.85 9.85 0 1 0 19.7 0a9.85 9.85 0 1 0 -19.7 0M789.7 1738.9a9.85 9.85 0 1 0 19.7 0a9.85 9.85 0 1 0 -19.7 0M773.2 1754.1a9.85 9.85 0 1 0 19.7 0a9.85 9.85 0 1 0 -19.7 0M782.3 1780.5a9.85 9.85 0 1 0 19.7 0a9.85 9.85 0 1 0 -19.7 0M786.4 1766.3a9.85 9.85 0 1 0 19.7 0a9.85 9.85 0 1 0 -19.7 0M791.5 1738.9a9.85 9.85 0 1 0 19.7 0a9.85 9.85 0 1 0 -19.7 0M798.6 1744a9.85 9.85 0 1 0 19.7 0a9.85 9.85 0 1 0 -19.7 0M800.6 1758.2a9.85 9.85 0 1 0 19.7 0a9.85 9.85 0 1 0 -19.7 0M804.3 1739.9a9.85 9.85 0 1 0 19.7 0a9.85 9.85 0 1 0 -19.7 0M806.7 1774.4a9.85 9.85 0 1 0 19.7 0a9.85 9.85 0 1 0 -19.7 0M813.8 1772.4a9.85 9.85 0 1 0 19.7 0a9.85 9.85 0 1 0 -19.7 0M818.9 1748a9.85 9.85 0 1 0 19.7 0a9.85 9.85 0 1 0 -19.7 0M823.3 1733.8a9.85 9.85 0 1 0 19.7 0a9.85 9.85 0 1 0 -19.7 0M826 1766.3a9.85 9.85 0 1 0 19.7 0a9.85 9.85 0 1 0 -19.7 0M833.1 1760.2a9.85 9.85 0 1 0 19.7 0a9.85 9.85 0 1 0 -19.7 0M838.2 1775.4a9.85 9.85 0 1 0 19.7 0a9.85 9.85 0 1 0 -19.7 0M851 1751.1a9.85 9.85 0 1 0 19.7 0a9.85 9.85 0 1 0 -19.7 0M855.4 1768.3a9.85 9.85 0 1 0 19.7 0a9.85 9.85 0 1 0 -19.7 0M860.5 1796.8a9.85 9.85 0 1 0 19.7 0a9.85 9.85 0 1 0 -19.7 0M862.5 1768.3a9.85 9.85 0 1 0 19.7 0a9.85 9.85 0 1 0 -19.7 0M866.6 1750.1a9.85 9.85 0 1 0 19.7 0a9.85 9.85 0 1 0 -19.7 0M871.7 1764.3a9.85 9.85 0 1 0 19.7 0a9.85 9.85 0 1 0 -19.7 0M875.7 1776.4a9.85 9.85 0 1 0 19.7 0a9.85 9.85 0 1 0 -19.7 0M882.8 1739.9a9.85 9.85 0 1 0 19.7 0a9.85 9.85 0 1 0 -19.7 0M884.9 1750.1a9.85 9.85 0 1 0 19.7 0a9.85 9.85 0 1 0 -19.7 0M894 1762.2a9.85 9.85 0 1 0 19.7 0a9.85 9.85 0 1 0 -19.7 0M901.7 1757.2a9.85 9.85 0 1 0 19.7 0a9.85 9.85 0 1 0 -19.7 0M905.8 1763.2a9.85 9.85 0 1 0 19.7 0a9.85 9.85 0 1 0 -19.7 0M913.3 1771.4a9.85 9.85 0 1 0 19.7 0a9.85 9.85 0 1 0 -19.7 0M925.5 1761.2a9.85 9.85 0 1 0 19.7 0a9.85 9.85 0 1 0 -19.7 0M930.6 1764.3a9.85 9.85 0 1 0 19.7 0a9.85 9.85 0 1 0 -19.7 0M938.7 1768.3a9.85 9.85 0 1 0 19.7 0a9.85 9.85 0 1 0 -19.7 0M944.8 1776.4a9.85 9.85 0 1 0 19.7 0a9.85 9.85 0 1 0 -19.7 0M946.4 1803.2a9.85 9.85 0 1 0 19.7 0a9.85 9.85 0 1 0 -19.7 0M953.9 1782.5a9.85 9.85 0 1 0 19.7 0a9.85 9.85 0 1 0 -19.7 0M965.5 1750.1a9.85 9.85 0 1 0 19.7 0a9.85 9.85 0 1 0 -19.7 0M967.1 1784.6a9.85 9.85 0 1 0 19.7 0a9.85 9.85 0 1 0 -19.7 0M987.8 1773.4a9.85 9.85 0 1 0 19.7 0a9.85 9.85 0 1 0 -19.7 0M1008.7 1689.1a9.85 9.85 0 1 0 19.7 0a9.85 9.85 0 1 0 -19.7 0M1010.4 1601.2a9.85 9.85 0 1 0 19.7 0a9.85 9.85 0 1 0 -19.7 0M1015.8 1697.3a9.85 9.85 0 1 0 19.7 0a9.85 9.85 0 1 0 -19.7 0M1026.6 1668.8a9.85 9.85 0 1 0 19.7 0a9.85 9.85 0 1 0 -19.7 0M1031.1 1630.7a9.85 9.85 0 1 0 19.7 0a9.85 9.85 0 1 0 -19.7 0M1033.1 1640.4a9.85 9.85 0 1 0 19.7 0a9.85 9.85 0 1 0 -19.7 0M1036.1 1670.9a9.85 9.85 0 1 0 19.7 0a9.85 9.85 0 1 0 -19.7 0M1038.2 1703.4a9.85 9.85 0 1 0 19.7 0a9.85 9.85 0 1 0 -19.7 0M1042.2 1728.7a9.85 9.85 0 1 0 19.7 0a9.85 9.85 0 1 0 -19.7 0M1045.3 1699.3a9.85 9.85 0 1 0 19.7 0a9.85 9.85 0 1 0 -19.7 0M1047.9 1692.2a9.85 9.85 0 1 0 19.7 0a9.85 9.85 0 1 0 -19.7 0M1062.5 1673.9a9.85 9.85 0 1 0 19.7 0a9.85 9.85 0 1 0 -19.7 0M1065 1710.5a9.85 9.85 0 1 0 19.7 0a9.85 9.85 0 1 0 -19.7 0M1065 1767.3a9.85 9.85 0 1 0 19.7 0a9.85 9.85 0 1 0 -19.7 0M1068.2 1666.8a9.85 9.85 0 1 0 19.7 0a9.85 9.85 0 1 0 -19.7 0M1075.7 1717.6a9.85 9.85 0 1 0 19.7 0a9.85 9.85 0 1 0 -19.7 0M1079.8 1658.7a9.85 9.85 0 1 0 19.7 0a9.85 9.85 0 1 0 -19.7 0M1088.3 1679a9.85 9.85 0 1 0 19.7 0a9.85 9.85 0 1 0 -19.7 0M1086.9 1704.4a9.85 9.85 0 1 0 19.7 0a9.85 9.85 0 1 0 -19.7 0M1111.3 1675.9a9.85 9.85 0 1 0 19.7 0a9.85 9.85 0 1 0 -19.7 0M1113.3 1709.4a9.85 9.85 0 1 0 19.7 0a9.85 9.85 0 1 0 -19.7 0M1111.3 1726.7a9.85 9.85 0 1 0 19.7 0a9.85 9.85 0 1 0 -19.7 0M1117.4 1693.2a9.85 9.85 0 1 0 19.7 0a9.85 9.85 0 1 0 -19.7 0M1120.4 1673.9a9.85 9.85 0 1 0 19.7 0a9.85 9.85 0 1 0 -19.7 0M1125.9 1653.2a9.85 9.85 0 1 0 19.7 0a9.85 9.85 0 1 0 -19.7 0M1142.7 1693.2a9.85 9.85 0 1 0 19.7 0a9.85 9.85 0 1 0 -19.7 0M1147.2 1678a9.85 9.85 0 1 0 19.7 0a9.85 9.85 0 1 0 -19.7 0M1146.8 1693.2a9.85 9.85 0 1 0 19.7 0a9.85 9.85 0 1 0 -19.7 0M1165.1 1709.4a9.85 9.85 0 1 0 19.7 0a9.85 9.85 0 1 0 -19.7 0M1169.1 1741.9a9.85 9.85 0 1 0 19.7 0a9.85 9.85 0 1 0 -19.7 0M1200.9 1770.4a9.85 9.85 0 1 0 19.7 0a9.85 9.85 0 1 0 -19.7 0M1208 1775.4a9.85 9.85 0 1 0 19.7 0a9.85 9.85 0 1 0 -19.7 0M1223.2 1745a9.85 9.85 0 1 0 19.7 0a9.85 9.85 0 1 0 -19.7 0M1228.3 1749a9.85 9.85 0 1 0 19.7 0a9.85 9.85 0 1 0 -19.7 0M1247.6 1679.6a9.85 9.85 0 1 0 19.7 0a9.85 9.85 0 1 0 -19.7 0M1257.2 1708.4a9.85 9.85 0 1 0 19.7 0a9.85 9.85 0 1 0 -19.7 0M1259.8 1711.5a9.85 9.85 0 1 0 19.7 0a9.85 9.85 0 1 0 -19.7 0M1277.1 1692.2a9.85 9.85 0 1 0 19.7 0a9.85 9.85 0 1 0 -19.7 0M1284.2 1787.6a9.85 9.85 0 1 0 19.7 0a9.85 9.85 0 1 0 -19.7 0M1285.2 1759.2a9.85 9.85 0 1 0 19.7 0a9.85 9.85 0 1 0 -19.7 0M1287.2 1704.4a9.85 9.85 0 1 0 19.7 0a9.85 9.85 0 1 0 -19.7 0M1294.3 1693.2a9.85 9.85 0 1 0 19.7 0a9.85 9.85 0 1 0 -19.7 0M1297.8 1652.2a9.85 9.85 0 1 0 19.7 0a9.85 9.85 0 1 0 -19.7 0M1304.5 1700.3a9.85 9.85 0 1 0 19.7 0a9.85 9.85 0 1 0 -19.7 0M1309.5 1763.9a9.85 9.85 0 1 0 19.7 0a9.85 9.85 0 1 0 -19.7 0M1313.2 1650.6a9.85 9.85 0 1 0 19.7 0a9.85 9.85 0 1 0 -19.7 0M1326.8 1728.1a9.85 9.85 0 1 0 19.7 0a9.85 9.85 0 1 0 -19.7 0M1331.9 1769.3a9.85 9.85 0 1 0 19.7 0a9.85 9.85 0 1 0 -19.7 0M1335.3 1788.6a9.85 9.85 0 1 0 19.7 0a9.85 9.85 0 1 0 -19.7 0M1345.1 1694.2a9.85 9.85 0 1 0 19.7 0a9.85 9.85 0 1 0 -19.7 0M1352.2 1721.6a9.85 9.85 0 1 0 19.7 0a9.85 9.85 0 1 0 -19.7 0M1360.3 1790.3a9.85 9.85 0 1 0 19.7 0a9.85 9.85 0 1 0 -19.7 0M1361.9 1746.6a9.85 9.85 0 1 0 19.7 0a9.85 9.85 0 1 0 -19.7 0M1373.5 1790.7a9.85 9.85 0 1 0 19.7 0a9.85 9.85 0 1 0 -19.7 0M1373.5 1771.4a9.85 9.85 0 1 0 19.7 0a9.85 9.85 0 1 0 -19.7 0M1380.2 1733.8a9.85 9.85 0 1 0 19.7 0a9.85 9.85 0 1 0 -19.7 0M1384.7 1764.3a9.85 9.85 0 1 0 19.7 0a9.85 9.85 0 1 0 -19.7 0M1391.8 1723.2a9.85 9.85 0 1 0 19.7 0a9.85 9.85 0 1 0 -19.7 0M1410.7 1744a9.85 9.85 0 1 0 19.7 0a9.85 9.85 0 1 0 -19.7 0M1422.2 1737.9a9.85 9.85 0 1 0 19.7 0a9.85 9.85 0 1 0 -19.7 0M1414.1 1788.6a9.85 9.85 0 1 0 19.7 0a9.85 9.85 0 1 0 -19.7 0M1432.4 1793.7a9.85 9.85 0 1 0 19.7 0a9.85 9.85 0 1 0 -19.7 0M1438.5 1791.7a9.85 9.85 0 1 0 19.7 0a9.85 9.85 0 1 0 -19.7 0M1479.1 1741.9a9.85 9.85 0 1 0 19.7 0a9.85 9.85 0 1 0 -19.7 0M1472 1744a9.85 9.85 0 1 0 19.7 0a9.85 9.85 0 1 0 -19.7 0M1505.5 1758.2a9.85 9.85 0 1 0 19.7 0a9.85 9.85 0 1 0 -19.7 0M1524.8 1772.4a9.85 9.85 0 1 0 19.7 0a9.85 9.85 0 1 0 -19.7 0M1531.9 1766.7a9.85 9.85 0 1 0 19.7 0a9.85 9.85 0 1 0 -19.7 0M770.1 1753.9a9.85 9.85 0 1 0 19.7 0a9.85 9.85 0 1 0 -19.7 0M787.7 1761.4a9.85 9.85 0 1 0 19.7 0a9.85 9.85 0 1 0 -19.7 0M784.7 1768.8a9.85 9.85 0 1 0 19.7 0a9.85 9.85 0 1 0 -19.7 0M799.7 1776.8a9.85 9.85 0 1 0 19.7 0a9.85 9.85 0 1 0 -19.7 0M823.4 1748.5a9.85 9.85 0 1 0 19.7 0a9.85 9.85 0 1 0 -19.7 0M818.2 1749.4a9.85 9.85 0 1 0 19.7 0a9.85 9.85 0 1 0 -19.7 0M836.7 1763.3a9.85 9.85 0 1 0 19.7 0a9.85 9.85 0 1 0 -19.7 0M836.6 1765a9.85 9.85 0 1 0 19.7 0a9.85 9.85 0 1 0 -19.7 0M852 1786.2a9.85 9.85 0 1 0 19.7 0a9.85 9.85 0 1 0 -19.7 0M866 1759.8a9.85 9.85 0 1 0 19.7 0a9.85 9.85 0 1 0 -19.7 0M881.5 1774.1a9.85 9.85 0 1 0 19.7 0a9.85 9.85 0 1 0 -19.7 0M893.6 1739.7a9.85 9.85 0 1 0 19.7 0a9.85 9.85 0 1 0 -19.7 0M905.5 1769.2a9.85 9.85 0 1 0 19.7 0a9.85 9.85 0 1 0 -19.7 0M900.9 1775.9a9.85 9.85 0 1 0 19.7 0a9.85 9.85 0 1 0 -19.7 0M920.2 1760.1a9.85 9.85 0 1 0 19.7 0a9.85 9.85 0 1 0 -19.7 0M925 1755.5a9.85 9.85 0 1 0 19.7 0a9.85 9.85 0 1 0 -19.7 0M939.5 1778.2a9.85 9.85 0 1 0 19.7 0a9.85 9.85 0 1 0 -19.7 0M957.4 1785.5a9.85 9.85 0 1 0 19.7 0a9.85 9.85 0 1 0 -19.7 0M961.8 1775.8a9.85 9.85 0 1 0 19.7 0a9.85 9.85 0 1 0 -19.7 0M973.2 1776.2a9.85 9.85 0 1 0 19.7 0a9.85 9.85 0 1 0 -19.7 0M1377.6 1773.5a9.85 9.85 0 1 0 19.7 0a9.85 9.85 0 1 0 -19.7 0M1380.6 1768.6a9.85 9.85 0 1 0 19.7 0a9.85 9.85 0 1 0 -19.7 0M1387.5 1773.3a9.85 9.85 0 1 0 19.7 0a9.85 9.85 0 1 0 -19.7 0M1391.3 1764.9a9.85 9.85 0 1 0 19.7 0a9.85 9.85 0 1 0 -19.7 0M1390.8 1771.5a9.85 9.85 0 1 0 19.7 0a9.85 9.85 0 1 0 -19.7 0M1392.7 1767.3a9.85 9.85 0 1 0 19.7 0a9.85 9.85 0 1 0 -19.7 0M1403.3 1760.2a9.85 9.85 0 1 0 19.7 0a9.85 9.85 0 1 0 -19.7 0M1410.1 1736.4a9.85 9.85 0 1 0 19.7 0a9.85 9.85 0 1 0 -19.7 0M1408 1780.3a9.85 9.85 0 1 0 19.7 0a9.85 9.85 0 1 0 -19.7 0M1409.7 1772.4a9.85 9.85 0 1 0 19.7 0a9.85 9.85 0 1 0 -19.7 0M1419.4 1770.8a9.85 9.85 0 1 0 19.7 0a9.85 9.85 0 1 0 -19.7 0M1426.1 1760.3a9.85 9.85 0 1 0 19.7 0a9.85 9.85 0 1 0 -19.7 0M1430.7 1762a9.85 9.85 0 1 0 19.7 0a9.85 9.85 0 1 0 -19.7 0M1431.4 1761.7a9.85 9.85 0 1 0 19.7 0a9.85 9.85 0 1 0 -19.7 0M1436 1753.5a9.85 9.85 0 1 0 19.7 0a9.85 9.85 0 1 0 -19.7 0M1439.8 1756.1a9.85 9.85 0 1 0 19.7 0a9.85 9.85 0 1 0 -19.7 0M1441.6 1761.4a9.85 9.85 0 1 0 19.7 0a9.85 9.85 0 1 0 -19.7 0M1448.5 1768a9.85 9.85 0 1 0 19.7 0a9.85 9.85 0 1 0 -19.7 0M1451.8 1767.7a9.85 9.85 0 1 0 19.7 0a9.85 9.85 0 1 0 -19.7 0M1457.9 1767.2a9.85 9.85 0 1 0 19.7 0a9.85 9.85 0 1 0 -19.7 0M1462.3 1755.9a9.85 9.85 0 1 0 19.7 0a9.85 9.85 0 1 0 -19.7 0M1464 1765.3a9.85 9.85 0 1 0 19.7 0a9.85 9.85 0 1 0 -19.7 0M1465.2 1782.1a9.85 9.85 0 1 0 19.7 0a9.85 9.85 0 1 0 -19.7 0M1478.3 1769.3a9.85 9.85 0 1 0 19.7 0a9.85 9.85 0 1 0 -19.7 0M1479.1 1765.6a9.85 9.85 0 1 0 19.7 0a9.85 9.85 0 1 0 -19.7 0M1480.7 1761a9.85 9.85 0 1 0 19.7 0a9.85 9.85 0 1 0 -19.7 0M1484.9 1758.1a9.85 9.85 0 1 0 19.7 0a9.85 9.85 0 1 0 -19.7 0M1486.6 1755.8a9.85 9.85 0 1 0 19.7 0a9.85 9.85 0 1 0 -19.7 0M1493.5 1772.2a9.85 9.85 0 1 0 19.7 0a9.85 9.85 0 1 0 -19.7 0M1497.1 1773.1a9.85 9.85 0 1 0 19.7 0a9.85 9.85 0 1 0 -19.7 0M1505.7 1775.8a9.85 9.85 0 1 0 19.7 0a9.85 9.85 0 1 0 -19.7 0M1506.6 1774.3a9.85 9.85 0 1 0 19.7 0a9.85 9.85 0 1 0 -19.7 0M1515.8 1773.4a9.85 9.85 0 1 0 19.7 0a9.85 9.85 0 1 0 -19.7 0M1518.1 1776.8a9.85 9.85 0 1 0 19.7 0a9.85 9.85 0 1 0 -19.7 0M1518.4 1777.5a9.85 9.85 0 1 0 19.7 0a9.85 9.85 0 1 0 -19.7 0M1522.3 1775.4a9.85 9.85 0 1 0 19.7 0a9.85 9.85 0 1 0 -19.7 0M1526.5 1766.4a9.85 9.85 0 1 0 19.7 0a9.85 9.85 0 1 0 -19.7 0M1535.1 1772.3a9.85 9.85 0 1 0 19.7 0a9.85 9.85 0 1 0 -19.7 0" fill="#2ca02c"/></g>
<rect x="315" y="1413.3" width="3004.2" height="435.1" fill="none" stroke="#000" stroke-width="4.4"/>
<text x="394" y="1932.8" text-anchor="middle">2015-12</text>
<text x="736.3" y="1932.8" text-anchor="middle">2016-06</text>
<text x="1078.5" y="1932.8" text-anchor="middle">2016-12</text>
<text x="1418.9" y="1932.8" text-anchor="middle">2017-06</text>
<text x="1761.2" y="1932.8" text-anchor="middle">2017-12</text>
<text x="2101.6" y="1932.8" text-anchor="middle">2018-06</text>
<text x="2443.8" y="1932.8" text-anchor="middle">2018-12</text>
<text x="2784.2" y="1932.8" text-anchor="middle">2019-06</text>
<text x="3126.5" y="1932.8" text-anchor="middle">2019-12</text>
<text x="272" y="1815.8" text-anchor="end">0.000</text>
<text x="272" y="1679.8" text-anchor="end">0.025</text>
<text x="272" y="1543.9" text-anchor="end">0.050</text>
<text x="314.7" y="1391.7" style="font-size:68px">(c)</text>
<text transform="translate(78.6 1630.8) rotate(-90)" text-anchor="middle" font-style="italic">δ</text>
<g clip-path="url(#h2)"><path d="M3482.4 1482.6H3485.9V1492.5H3482.4ZM3482.4 1492.2H3488.6V1501H3482.4ZM3482.4 1500.7H3487.2V1510.1H3482.4ZM3482.4 1509.8H3491V1519.3H3482.4ZM3482.4 1519H3491.6V1528.2H3482.4ZM3482.4 1527.9H3492.7V1537.4H3482.4ZM3482.4 1537.1H3493.3V1546.9H3482.4ZM3482.4 1546.6H3495V1556.1H3482.4ZM3482.4 1555.8H3496.1V1564.9H3482.4ZM3482.4 1564.6H3498.4V1574.1H3482.4ZM3482.4 1573.8H3502.9V1583.3H3482.4ZM3482.4 1583H3505.2V1592.5H3482.4ZM3482.4 1592.2H3507.6V1601.3H3482.4ZM3482.4 1601H3509.7V1610.5H3482.4ZM3482.4 1610.2H3516.5V1619.7H3482.4ZM3482.4 1619.4H3518.5V1628.5H3482.4ZM3482.4 1628.2H3520.5V1637.7H3482.4ZM3482.4 1637.4H3517.8V1646.9H3482.4ZM3482.4 1646.6H3530.7V1656.1H3482.4ZM3482.4 1655.8H3533.1V1664.9H3482.4ZM3482.4 1664.6H3543.7V1674.1H3482.4ZM3482.4 1673.8H3544.4V1683.3H3482.4ZM3482.4 1683H3558.6V1692.5H3482.4ZM3482.4 1692.2H3573.6V1701.6H3482.4ZM3482.4 1701.3H3604.9V1710.8H3482.4ZM3482.4 1710.5H3610V1720H3482.4ZM3482.4 1719.7H3662V1729.2H3482.4ZM3482.4 1728.9H3695.4V1738H3482.4ZM3482.4 1737.7H3743V1747.6H3482.4ZM3482.4 1747.3H3826.7V1756.4H3482.4ZM3482.4 1756.1H3846.1V1765.2H3482.4ZM3482.4 1764.9H3923.9V1774.4H3482.4ZM3482.4 1774.1H4003.2V1783.6H3482.4ZM3482.4 1783.3H4080.7V1792.5H3482.4ZM3482.4 1792.2H3731.4V1801.3H3482.4ZM3482.4 1801H3534.8V1810.1H3482.4ZM3482.4 1809.8H3509V1819.3H3482.4ZM3482.4 1819H3501.5V1828.5H3482.4ZM3482.4 1828.2H3491.6V1837.7H3482.4ZM3482.4 1837.4H3488.6V1849.6H3482.4Z" fill="#2ca02c"/></g>
<path d="M3761 1413.3V1848.4M4039.9 1413.3V1848.4M3482.4 1794H4110.7M3482.4 1658H4110.7M3482.4 1522.1H4110.7" stroke="#b0b0b0" stroke-width="4.4" fill="none"/>
<path d="M3482.4 1848.4v19.4M3761 1848.4v19.4M4039.9 1848.4v19.4M3482.4 1794h-19.4M3482.4 1658h-19.4M3482.4 1522.1h-19.4" stroke="#000" stroke-width="4.4" fill="none"/>
<rect x="3482.4" y="1413.3" width="628.3" height="435.1" fill="none" stroke="#000" stroke-width="4.4"/>
<text x="3482.4" y="1932.8" text-anchor="middle">0</text>
<text x="3761" y="1932.8" text-anchor="middle">1000</text>
<text x="4039.9" y="1932.8" text-anchor="middle">2000</text>
<text x="3796.5" y="2010.6" text-anchor="middle">N</text>
<path d="M3795.9 1416.4H4061Q4077.9 1416.4 4077.9 1433.3V1555.6Q4077.9 1572.5 4061 1572.5H3795.9Q3779 1572.5 3779 1555.6V1433.3Q3779 1416.4 3795.9 1416.4Z" fill="#f5deb3" fill-opacity="0.5" stroke="#000" stroke-opacity="0.5" stroke-width="5.6"/>
<text x="3797.4" y="1480.5"><tspan font-style="italic">μ</tspan> = 0.005</text>
<text x="3797.4" y="1545.4"><tspan font-style="italic">σ</tspan> = 0.005</text>
<path d="M394 2065.9V2501M736.3 2065.9V2501M1078.5 2065.9V2501M1418.9 2065.9V2501M1761.2 2065.9V2501M2101.6 2065.9V2501M2443.8 2065.9V2501M2784.2 2065.9V2501M3126.5 2065.9V2501M315 2446.6H3319.2M315 2310.6H3319.2M315 2174.7H3319.2" stroke="#b0b0b0" stroke-width="4.4" fill="none"/>
<path d="M394 2501v19.4M736.3 2501v19.4M1078.5 2501v19.4M1418.9 2501v19.4M1761.2 2501v19.4M2101.6 2501v19.4M2443.8 2501v19.4M2784.2 2501v19.4M3126.5 2501v19.4M315 2446.6h-19.4M315 2310.6h-19.4M315 2174.7h-19.4" stroke="#000" stroke-width="4.4" fill="none"/>
<g clip-path="url(#c3)"><path d="M1665.2 2330.7V2408M1669.3 2400.5V2424.5M1678.4 2371.2V2408.3M1686.3 2349.4V2419M1708.3 2404.8V2440.3M1713.9 2393.6V2439.6M1717.2 2390.9V2443.7M1722 2396.9V2437.7M1761.1 2087.6V2303.4M1767.1 2103.4V2366.7M1769.5 2022.6V2311.8M1777.4 2074.5V2328.5M1779.8 2060V2311.8M1814.6 2126.2V2365.5M1817 2026.7V2305.8M1831.4 2049.2V2327.4M1839 2020.7V2271M1841 2010.8V2231.5M1843.4 2018.5V2238.2M1858.2 2018V2233.9M1869 2048V2266.2M1871.4 1989.7V2274.1M1873.8 1998.8V2243.5M1876.7 2028.1V2286.1M1889.4 2041.1V2293.3M1897.1 2047.1V2242.3M1901.4 2222V2393.5M1903.3 2020.4V2236.3M1906.2 1911.3V2112.8M1914.1 2093.1V2322.8M1923.7 1997.4V2197.9M1931.4 2239.6V2365.8M1942.2 2176.4V2347.9M1947.7 2330.5V2382.8M1949.4 2301.8V2393.7M1972.1 2150.6V2368.4M1973.8 2320.9V2421.2M1979.1 2279.5V2386.3M1993 2121V2384.1M2000.4 2267.4V2382.5M2013.4 2339V2404.5M2018.4 2369.4V2431.7M2020.8 2358V2426.3M2035.7 2358V2433.5M2021.2 2359.8V2429.3M2035.6 2355V2431.7M2041.1 2361V2418.5M2039.2 1977.7V2307.7M2046.9 2233.4V2444.4M2071.6 2194.8V2339.1M2073.2 2137.9V2329.8M2082.8 2108V2290.2M2084 2223.9V2414.1M2101.1 2290V2441.5M2106.3 2259.9V2430.9M2109.2 2266.8V2421.5M2113 2283.4V2417M2114.7 2375.3V2420.9M2117.8 2159.5V2365.8M2120.2 2231.8V2394.2M2127.4 2289.4V2331.8M2132.7 2232.4V2386.4M2135.1 2280V2403.5M2143.5 2266.2V2412.5M2145.9 2243.5V2368.2M2148.3 2317.8V2440.1M2153.8 2335.2V2471.6M2156.7 2327.9V2432.4M2172.3 2198.7V2393.7M2175.9 2244.4V2384M2180 2242.5V2352.3M2195.1 2231.2V2375.6M2224.6 2307.8V2435.7M2235.8 2376.9V2419.4M2237.7 2213.8V2400.2M2240.1 2266.8V2399.9M2243 2270.9V2315.8M2250.7 2323.8V2441.3M2252.6 2408.4V2461.2M2262.2 2265.9V2429.7M2265.8 2286V2428.7M2269.9 2227V2415.8M2279 2294.4V2381.9M2282.6 2187.1V2371.8M2285.7 2196.3V2381.7M2294.6 2314.2V2455.7M2295.8 2344.4V2455.7M2304.9 2312.4V2378.3M2313 2308.6V2444.5M2316.2 2305.8V2449.7M2327 2376.9V2462.5M2331 2105.7V2368.3M2332.9 2373.9V2436.7M2357.6 2313.6V2403.5M2360 2375.8V2431M2362.9 2405.3V2441.3M2372 2388.2V2439.3M2374.9 2281.7V2376.4M2391.2 2344.8V2427.5M2394.8 2374.7V2443.1M2413.3 2386.6V2429.8M2443.2 1969.8V2472.5M2454.7 2154.1V2366.4M2479.6 1944.7V2202.7M2484.7 2149.3V2300.6M2489.2 2233.5V2426.1M2490.6 2240.6V2416.6M2540.3 2362.2V2431.7M2555.4 2372.4V2450.3M2584.2 2168.4V2423.1M2601 2321.9V2446.6M2602.6 2295.1V2418.6M2605.8 2371.9V2437.3M2608.2 2393.3V2446.1M2624.7 2236.5V2389.5M2649.4 2356.2V2408.9M2656.6 2257.8V2382.5M2663.8 2345.4V2369.4M2673.4 2338.5V2443.3M2675.3 2417.3V2458.1M2677 2299.8V2429.3M2692.1 2338.2V2390.9M2693.8 2395.7V2450.9M2703.4 2364.6V2414.9M2708.2 2342.1V2449.3M2721.3 2349.9V2460.7M2729.7 2335.8V2424.5M2736.9 2319.8V2383.9M2745.3 2370.3V2442.7M2751.3 2371.5V2439.1M2769.3 2359.8V2453.3M2776.5 2409.4V2456.4M2784.4 2297.3V2368M2786.1 2312.3V2432.7M2798.1 2340.6V2438.9M2812.4 2279.4V2372.9M2819.6 2228.2V2357M2829.2 2278.8V2392.7M2832.8 2332.2V2408.9M2841.2 2321.8V2393M2847.9 2362.2V2438.9M2849.5 2294.5V2405.8M2854.8 2302.9V2383M2856.7 2378.7V2458.3M2864.4 2357.4V2431.7M2866.3 2283V2426.9M2886.7 2315.5V2433.7M2893.9 2341.2V2433.5M2898.2 2361V2416.1M2901.8 2350.2V2429.3M2933.5 2348.6V2434.2M2937.1 2363.8V2439.6M2941.2 2322.9V2413.4M2958.2 2265.9V2361.1M2961.1 2412.8V2454.5M2963.5 2328.1V2400M2967.1 2389.7V2444.9M2971.1 2290.2V2396.7M2971.8 2357.4V2426.9M2988.2 2345V2460.8M2993.4 2363.7V2456.5M3000.6 2356.5V2449.3M3004.2 2371V2468.4M3007.8 2385.4V2458.8M3003 2291.8V2357.2M3023.4 2363.4V2428.1M3034.2 2333.3V2436.6M3045.7 2386.4V2437.7M3060.6 2363.4V2419.5M3067.8 2369.6V2445.9M3071.4 2352.6V2424.5M3073.8 2405.3V2443.7M3096.1 2393.2V2438.1M3107.8 2410.1V2441.3M3111.4 2359.2V2417.9M3130.6 2290.2V2406.8M3133.2 2345.1V2468.9M3139 2402.4V2449M3148.6 2383.9V2457M3167.3 2346.9V2434M3179.3 2361V2425.7M3182.6 2359V2429.3M2974.2 2390.7V2454.5M2980.7 2393.3V2454.3M3004 2404.1V2435.9M2999.4 2381.1V2433.7M3007.1 2389.5V2450.8M3030.2 2407.1V2439.3M3036.5 2384.4V2451.2M3041.9 2399.2V2426.3" stroke="#d10d0e" stroke-width="2.8" fill="none"/>
<path d="M1655.3 2369.4a9.85 9.85 0 1 0 19.7 0a9.85 9.85 0 1 0 -19.7 0M1657.7 2404.8a9.85 9.85 0 1 0 19.7 0a9.85 9.85 0 1 0 -19.7 0M1659.4 2412.5a9.85 9.85 0 1 0 19.7 0a9.85 9.85 0 1 0 -19.7 0M1663 2433.6a9.85 9.85 0 1 0 19.7 0a9.85 9.85 0 1 0 -19.7 0M1668.5 2389.7a9.85 9.85 0 1 0 19.7 0a9.85 9.85 0 1 0 -19.7 0M1676.4 2384.2a9.85 9.85 0 1 0 19.7 0a9.85 9.85 0 1 0 -19.7 0M1698.5 2422.6a9.85 9.85 0 1 0 19.7 0a9.85 9.85 0 1 0 -19.7 0M1704 2416.6a9.85 9.85 0 1 0 19.7 0a9.85 9.85 0 1 0 -19.7 0M1707.4 2417.3a9.85 9.85 0 1 0 19.7 0a9.85 9.85 0 1 0 -19.7 0M1712.2 2417.3a9.85 9.85 0 1 0 19.7 0a9.85 9.85 0 1 0 -19.7 0M1751.3 2195.5a9.85 9.85 0 1 0 19.7 0a9.85 9.85 0 1 0 -19.7 0M1757.2 2235.1a9.85 9.85 0 1 0 19.7 0a9.85 9.85 0 1 0 -19.7 0M1759.6 2167.2a9.85 9.85 0 1 0 19.7 0a9.85 9.85 0 1 0 -19.7 0M1767.6 2201.5a9.85 9.85 0 1 0 19.7 0a9.85 9.85 0 1 0 -19.7 0M1770 2185.9a9.85 9.85 0 1 0 19.7 0a9.85 9.85 0 1 0 -19.7 0M1804.7 2245.9a9.85 9.85 0 1 0 19.7 0a9.85 9.85 0 1 0 -19.7 0M1807.1 2166.2a9.85 9.85 0 1 0 19.7 0a9.85 9.85 0 1 0 -19.7 0M1821.5 2188.3a9.85 9.85 0 1 0 19.7 0a9.85 9.85 0 1 0 -19.7 0M1829.2 2145.9a9.85 9.85 0 1 0 19.7 0a9.85 9.85 0 1 0 -19.7 0M1831.1 2121.2a9.85 9.85 0 1 0 19.7 0a9.85 9.85 0 1 0 -19.7 0M1833.5 2128.3a9.85 9.85 0 1 0 19.7 0a9.85 9.85 0 1 0 -19.7 0M1848.4 2125.9a9.85 9.85 0 1 0 19.7 0a9.85 9.85 0 1 0 -19.7 0M1859.2 2157.1a9.85 9.85 0 1 0 19.7 0a9.85 9.85 0 1 0 -19.7 0M1861.6 2131.9a9.85 9.85 0 1 0 19.7 0a9.85 9.85 0 1 0 -19.7 0M1864 2121.2a9.85 9.85 0 1 0 19.7 0a9.85 9.85 0 1 0 -19.7 0M1866.8 2157.1a9.85 9.85 0 1 0 19.7 0a9.85 9.85 0 1 0 -19.7 0M1879.6 2167.2a9.85 9.85 0 1 0 19.7 0a9.85 9.85 0 1 0 -19.7 0M1887.2 2144.7a9.85 9.85 0 1 0 19.7 0a9.85 9.85 0 1 0 -19.7 0M1891.5 2307.7a9.85 9.85 0 1 0 19.7 0a9.85 9.85 0 1 0 -19.7 0M1893.5 2128.3a9.85 9.85 0 1 0 19.7 0a9.85 9.85 0 1 0 -19.7 0M1896.3 2012a9.85 9.85 0 1 0 19.7 0a9.85 9.85 0 1 0 -19.7 0M1904.3 2208a9.85 9.85 0 1 0 19.7 0a9.85 9.85 0 1 0 -19.7 0M1913.8 2097.6a9.85 9.85 0 1 0 19.7 0a9.85 9.85 0 1 0 -19.7 0M1921.5 2302.7a9.85 9.85 0 1 0 19.7 0a9.85 9.85 0 1 0 -19.7 0M1932.3 2262.2a9.85 9.85 0 1 0 19.7 0a9.85 9.85 0 1 0 -19.7 0M1937.8 2356.6a9.85 9.85 0 1 0 19.7 0a9.85 9.85 0 1 0 -19.7 0M1939.5 2347.8a9.85 9.85 0 1 0 19.7 0a9.85 9.85 0 1 0 -19.7 0M1962.3 2259.5a9.85 9.85 0 1 0 19.7 0a9.85 9.85 0 1 0 -19.7 0M1964 2371a9.85 9.85 0 1 0 19.7 0a9.85 9.85 0 1 0 -19.7 0M1969.2 2332.9a9.85 9.85 0 1 0 19.7 0a9.85 9.85 0 1 0 -19.7 0M1983.1 2252.6a9.85 9.85 0 1 0 19.7 0a9.85 9.85 0 1 0 -19.7 0M1990.6 2325a9.85 9.85 0 1 0 19.7 0a9.85 9.85 0 1 0 -19.7 0M1992.3 2356.2a9.85 9.85 0 1 0 19.7 0a9.85 9.85 0 1 0 -19.7 0M2003.5 2371.8a9.85 9.85 0 1 0 19.7 0a9.85 9.85 0 1 0 -19.7 0M2008.6 2400.5a9.85 9.85 0 1 0 19.7 0a9.85 9.85 0 1 0 -19.7 0M2011 2392.1a9.85 9.85 0 1 0 19.7 0a9.85 9.85 0 1 0 -19.7 0M2025.8 2395.7a9.85 9.85 0 1 0 19.7 0a9.85 9.85 0 1 0 -19.7 0M2011.3 2394.5a9.85 9.85 0 1 0 19.7 0a9.85 9.85 0 1 0 -19.7 0M2019.7 2392.1a9.85 9.85 0 1 0 19.7 0a9.85 9.85 0 1 0 -19.7 0M2025.7 2393.3a9.85 9.85 0 1 0 19.7 0a9.85 9.85 0 1 0 -19.7 0M2031.3 2389.7a9.85 9.85 0 1 0 19.7 0a9.85 9.85 0 1 0 -19.7 0M2029.3 2142.7a9.85 9.85 0 1 0 19.7 0a9.85 9.85 0 1 0 -19.7 0M2037 2338.9a9.85 9.85 0 1 0 19.7 0a9.85 9.85 0 1 0 -19.7 0M2061.7 2267a9.85 9.85 0 1 0 19.7 0a9.85 9.85 0 1 0 -19.7 0M2063.4 2233.9a9.85 9.85 0 1 0 19.7 0a9.85 9.85 0 1 0 -19.7 0M2073 2199.1a9.85 9.85 0 1 0 19.7 0a9.85 9.85 0 1 0 -19.7 0M2074.2 2319a9.85 9.85 0 1 0 19.7 0a9.85 9.85 0 1 0 -19.7 0M2091.2 2365.8a9.85 9.85 0 1 0 19.7 0a9.85 9.85 0 1 0 -19.7 0M2096.5 2345.4a9.85 9.85 0 1 0 19.7 0a9.85 9.85 0 1 0 -19.7 0M2099.4 2344.2a9.85 9.85 0 1 0 19.7 0a9.85 9.85 0 1 0 -19.7 0M2103.2 2350.2a9.85 9.85 0 1 0 19.7 0a9.85 9.85 0 1 0 -19.7 0M2104.9 2398.1a9.85 9.85 0 1 0 19.7 0a9.85 9.85 0 1 0 -19.7 0M2108 2262.6a9.85 9.85 0 1 0 19.7 0a9.85 9.85 0 1 0 -19.7 0M2107.3 2386.1a9.85 9.85 0 1 0 19.7 0a9.85 9.85 0 1 0 -19.7 0M2110.4 2313a9.85 9.85 0 1 0 19.7 0a9.85 9.85 0 1 0 -19.7 0M2117.6 2310.6a9.85 9.85 0 1 0 19.7 0a9.85 9.85 0 1 0 -19.7 0M2122.9 2309.4a9.85 9.85 0 1 0 19.7 0a9.85 9.85 0 1 0 -19.7 0M2125.3 2341.8a9.85 9.85 0 1 0 19.7 0a9.85 9.85 0 1 0 -19.7 0M2133.7 2339.4a9.85 9.85 0 1 0 19.7 0a9.85 9.85 0 1 0 -19.7 0M2136 2305.8a9.85 9.85 0 1 0 19.7 0a9.85 9.85 0 1 0 -19.7 0M2134.9 2358.6a9.85 9.85 0 1 0 19.7 0a9.85 9.85 0 1 0 -19.7 0M2138.4 2378.9a9.85 9.85 0 1 0 19.7 0a9.85 9.85 0 1 0 -19.7 0M2144 2403.4a9.85 9.85 0 1 0 19.7 0a9.85 9.85 0 1 0 -19.7 0M2146.8 2380.1a9.85 9.85 0 1 0 19.7 0a9.85 9.85 0 1 0 -19.7 0M2162.4 2296.2a9.85 9.85 0 1 0 19.7 0a9.85 9.85 0 1 0 -19.7 0M2166 2314.2a9.85 9.85 0 1 0 19.7 0a9.85 9.85 0 1 0 -19.7 0M2170.1 2297.4a9.85 9.85 0 1 0 19.7 0a9.85 9.85 0 1 0 -19.7 0M2185.2 2303.4a9.85 9.85 0 1 0 19.7 0a9.85 9.85 0 1 0 -19.7 0M2214.7 2371.8a9.85 9.85 0 1 0 19.7 0a9.85 9.85 0 1 0 -19.7 0M2226 2398.1a9.85 9.85 0 1 0 19.7 0a9.85 9.85 0 1 0 -19.7 0M2227.9 2307a9.85 9.85 0 1 0 19.7 0a9.85 9.85 0 1 0 -19.7 0M2230.3 2333.4a9.85 9.85 0 1 0 19.7 0a9.85 9.85 0 1 0 -19.7 0M2233.2 2293.3a9.85 9.85 0 1 0 19.7 0a9.85 9.85 0 1 0 -19.7 0M2240.8 2382.5a9.85 9.85 0 1 0 19.7 0a9.85 9.85 0 1 0 -19.7 0M2242.8 2434.8a9.85 9.85 0 1 0 19.7 0a9.85 9.85 0 1 0 -19.7 0M2252.4 2347.8a9.85 9.85 0 1 0 19.7 0a9.85 9.85 0 1 0 -19.7 0M2256 2357.4a9.85 9.85 0 1 0 19.7 0a9.85 9.85 0 1 0 -19.7 0M2260 2321.4a9.85 9.85 0 1 0 19.7 0a9.85 9.85 0 1 0 -19.7 0M2269.1 2338.2a9.85 9.85 0 1 0 19.7 0a9.85 9.85 0 1 0 -19.7 0M2272.7 2279.4a9.85 9.85 0 1 0 19.7 0a9.85 9.85 0 1 0 -19.7 0M2275.9 2289a9.85 9.85 0 1 0 19.7 0a9.85 9.85 0 1 0 -19.7 0M2276.3 2323.8a9.85 9.85 0 1 0 19.7 0a9.85 9.85 0 1 0 -19.7 0M2277.5 2369.4a9.85 9.85 0 1 0 19.7 0a9.85 9.85 0 1 0 -19.7 0M2284.7 2384.9a9.85 9.85 0 1 0 19.7 0a9.85 9.85 0 1 0 -19.7 0M2285.9 2400a9.85 9.85 0 1 0 19.7 0a9.85 9.85 0 1 0 -19.7 0M2293.1 2438.9a9.85 9.85 0 1 0 19.7 0a9.85 9.85 0 1 0 -19.7 0M2295 2345.4a9.85 9.85 0 1 0 19.7 0a9.85 9.85 0 1 0 -19.7 0M2303.2 2376.5a9.85 9.85 0 1 0 19.7 0a9.85 9.85 0 1 0 -19.7 0M2306.3 2377.7a9.85 9.85 0 1 0 19.7 0a9.85 9.85 0 1 0 -19.7 0M2307.5 2424.5a9.85 9.85 0 1 0 19.7 0a9.85 9.85 0 1 0 -19.7 0M2317.1 2419.7a9.85 9.85 0 1 0 19.7 0a9.85 9.85 0 1 0 -19.7 0M2321.2 2237a9.85 9.85 0 1 0 19.7 0a9.85 9.85 0 1 0 -19.7 0M2323.1 2405.3a9.85 9.85 0 1 0 19.7 0a9.85 9.85 0 1 0 -19.7 0M2320.7 2436.5a9.85 9.85 0 1 0 19.7 0a9.85 9.85 0 1 0 -19.7 0M2325.5 2417.8a9.85 9.85 0 1 0 19.7 0a9.85 9.85 0 1 0 -19.7 0M2347.8 2358.6a9.85 9.85 0 1 0 19.7 0a9.85 9.85 0 1 0 -19.7 0M2350.2 2403.4a9.85 9.85 0 1 0 19.7 0a9.85 9.85 0 1 0 -19.7 0M2353.1 2423.3a9.85 9.85 0 1 0 19.7 0a9.85 9.85 0 1 0 -19.7 0M2362.2 2413.7a9.85 9.85 0 1 0 19.7 0a9.85 9.85 0 1 0 -19.7 0M2365.1 2329.1a9.85 9.85 0 1 0 19.7 0a9.85 9.85 0 1 0 -19.7 0M2381.4 2386.1a9.85 9.85 0 1 0 19.7 0a9.85 9.85 0 1 0 -19.7 0M2385 2408.9a9.85 9.85 0 1 0 19.7 0a9.85 9.85 0 1 0 -19.7 0M2403.4 2408.2a9.85 9.85 0 1 0 19.7 0a9.85 9.85 0 1 0 -19.7 0M2433.3 2221.2a9.85 9.85 0 1 0 19.7 0a9.85 9.85 0 1 0 -19.7 0M2444.8 2260.2a9.85 9.85 0 1 0 19.7 0a9.85 9.85 0 1 0 -19.7 0M2469.8 2073.7a9.85 9.85 0 1 0 19.7 0a9.85 9.85 0 1 0 -19.7 0M2474.8 2225a9.85 9.85 0 1 0 19.7 0a9.85 9.85 0 1 0 -19.7 0M2479.4 2329.8a9.85 9.85 0 1 0 19.7 0a9.85 9.85 0 1 0 -19.7 0M2480.8 2328.6a9.85 9.85 0 1 0 19.7 0a9.85 9.85 0 1 0 -19.7 0M2530.4 2396.9a9.85 9.85 0 1 0 19.7 0a9.85 9.85 0 1 0 -19.7 0M2545.5 2411.3a9.85 9.85 0 1 0 19.7 0a9.85 9.85 0 1 0 -19.7 0M2574.3 2295.7a9.85 9.85 0 1 0 19.7 0a9.85 9.85 0 1 0 -19.7 0M2591.1 2384.2a9.85 9.85 0 1 0 19.7 0a9.85 9.85 0 1 0 -19.7 0M2592.8 2356.9a9.85 9.85 0 1 0 19.7 0a9.85 9.85 0 1 0 -19.7 0M2595.9 2404.6a9.85 9.85 0 1 0 19.7 0a9.85 9.85 0 1 0 -19.7 0M2598.3 2419.7a9.85 9.85 0 1 0 19.7 0a9.85 9.85 0 1 0 -19.7 0M2614.9 2313a9.85 9.85 0 1 0 19.7 0a9.85 9.85 0 1 0 -19.7 0M2631.9 2288.5a9.85 9.85 0 1 0 19.7 0a9.85 9.85 0 1 0 -19.7 0M2639.6 2382.5a9.85 9.85 0 1 0 19.7 0a9.85 9.85 0 1 0 -19.7 0M2643.1 2438.4a9.85 9.85 0 1 0 19.7 0a9.85 9.85 0 1 0 -19.7 0M2644.3 2398.8a9.85 9.85 0 1 0 19.7 0a9.85 9.85 0 1 0 -19.7 0M2646.7 2320.2a9.85 9.85 0 1 0 19.7 0a9.85 9.85 0 1 0 -19.7 0M2650.3 2380.1a9.85 9.85 0 1 0 19.7 0a9.85 9.85 0 1 0 -19.7 0M2653.9 2357.4a9.85 9.85 0 1 0 19.7 0a9.85 9.85 0 1 0 -19.7 0M2656.3 2412.5a9.85 9.85 0 1 0 19.7 0a9.85 9.85 0 1 0 -19.7 0M2663.5 2390.9a9.85 9.85 0 1 0 19.7 0a9.85 9.85 0 1 0 -19.7 0M2665.4 2437.7a9.85 9.85 0 1 0 19.7 0a9.85 9.85 0 1 0 -19.7 0M2667.1 2364.6a9.85 9.85 0 1 0 19.7 0a9.85 9.85 0 1 0 -19.7 0M2681.5 2398.1a9.85 9.85 0 1 0 19.7 0a9.85 9.85 0 1 0 -19.7 0M2682.2 2364.6a9.85 9.85 0 1 0 19.7 0a9.85 9.85 0 1 0 -19.7 0M2683.9 2423.3a9.85 9.85 0 1 0 19.7 0a9.85 9.85 0 1 0 -19.7 0M2693.5 2389.7a9.85 9.85 0 1 0 19.7 0a9.85 9.85 0 1 0 -19.7 0M2698.3 2395.7a9.85 9.85 0 1 0 19.7 0a9.85 9.85 0 1 0 -19.7 0M2699.5 2419.7a9.85 9.85 0 1 0 19.7 0a9.85 9.85 0 1 0 -19.7 0M2711.5 2405.3a9.85 9.85 0 1 0 19.7 0a9.85 9.85 0 1 0 -19.7 0M2719.9 2380.1a9.85 9.85 0 1 0 19.7 0a9.85 9.85 0 1 0 -19.7 0M2727.1 2351.8a9.85 9.85 0 1 0 19.7 0a9.85 9.85 0 1 0 -19.7 0M2730.7 2423.3a9.85 9.85 0 1 0 19.7 0a9.85 9.85 0 1 0 -19.7 0M2735.5 2406.5a9.85 9.85 0 1 0 19.7 0a9.85 9.85 0 1 0 -19.7 0M2741.5 2405.3a9.85 9.85 0 1 0 19.7 0a9.85 9.85 0 1 0 -19.7 0M2759.5 2406.5a9.85 9.85 0 1 0 19.7 0a9.85 9.85 0 1 0 -19.7 0M2757.1 2430.5a9.85 9.85 0 1 0 19.7 0a9.85 9.85 0 1 0 -19.7 0M2766.6 2432.9a9.85 9.85 0 1 0 19.7 0a9.85 9.85 0 1 0 -19.7 0M2774.6 2332.7a9.85 9.85 0 1 0 19.7 0a9.85 9.85 0 1 0 -19.7 0M2776.2 2372.5a9.85 9.85 0 1 0 19.7 0a9.85 9.85 0 1 0 -19.7 0M2778.6 2408.9a9.85 9.85 0 1 0 19.7 0a9.85 9.85 0 1 0 -19.7 0M2788.2 2389.7a9.85 9.85 0 1 0 19.7 0a9.85 9.85 0 1 0 -19.7 0M2770.2 2432.9a9.85 9.85 0 1 0 19.7 0a9.85 9.85 0 1 0 -19.7 0M2802.5 2326.2a9.85 9.85 0 1 0 19.7 0a9.85 9.85 0 1 0 -19.7 0M2809.7 2292.6a9.85 9.85 0 1 0 19.7 0a9.85 9.85 0 1 0 -19.7 0M2819.3 2335.8a9.85 9.85 0 1 0 19.7 0a9.85 9.85 0 1 0 -19.7 0M2822.9 2370.6a9.85 9.85 0 1 0 19.7 0a9.85 9.85 0 1 0 -19.7 0M2831.3 2357.4a9.85 9.85 0 1 0 19.7 0a9.85 9.85 0 1 0 -19.7 0M2838 2400.5a9.85 9.85 0 1 0 19.7 0a9.85 9.85 0 1 0 -19.7 0M2839.7 2350.2a9.85 9.85 0 1 0 19.7 0a9.85 9.85 0 1 0 -19.7 0M2845 2343a9.85 9.85 0 1 0 19.7 0a9.85 9.85 0 1 0 -19.7 0M2846.9 2418.5a9.85 9.85 0 1 0 19.7 0a9.85 9.85 0 1 0 -19.7 0M2849.3 2359.8a9.85 9.85 0 1 0 19.7 0a9.85 9.85 0 1 0 -19.7 0M2854.6 2394.5a9.85 9.85 0 1 0 19.7 0a9.85 9.85 0 1 0 -19.7 0M2856.5 2355a9.85 9.85 0 1 0 19.7 0a9.85 9.85 0 1 0 -19.7 0M2876.9 2374.6a9.85 9.85 0 1 0 19.7 0a9.85 9.85 0 1 0 -19.7 0M2884.1 2387.3a9.85 9.85 0 1 0 19.7 0a9.85 9.85 0 1 0 -19.7 0M2888.4 2388.5a9.85 9.85 0 1 0 19.7 0a9.85 9.85 0 1 0 -19.7 0M2892 2389.7a9.85 9.85 0 1 0 19.7 0a9.85 9.85 0 1 0 -19.7 0M2923.6 2391.4a9.85 9.85 0 1 0 19.7 0a9.85 9.85 0 1 0 -19.7 0M2927.2 2401.7a9.85 9.85 0 1 0 19.7 0a9.85 9.85 0 1 0 -19.7 0M2931.3 2368.2a9.85 9.85 0 1 0 19.7 0a9.85 9.85 0 1 0 -19.7 0M2948.3 2313.5a9.85 9.85 0 1 0 19.7 0a9.85 9.85 0 1 0 -19.7 0M2951.2 2433.6a9.85 9.85 0 1 0 19.7 0a9.85 9.85 0 1 0 -19.7 0M2953.6 2364.1a9.85 9.85 0 1 0 19.7 0a9.85 9.85 0 1 0 -19.7 0M2957.2 2417.3a9.85 9.85 0 1 0 19.7 0a9.85 9.85 0 1 0 -19.7 0M2961.3 2343.5a9.85 9.85 0 1 0 19.7 0a9.85 9.85 0 1 0 -19.7 0M2962 2392.1a9.85 9.85 0 1 0 19.7 0a9.85 9.85 0 1 0 -19.7 0M2969.2 2417.3a9.85 9.85 0 1 0 19.7 0a9.85 9.85 0 1 0 -19.7 0M2974 2424.5a9.85 9.85 0 1 0 19.7 0a9.85 9.85 0 1 0 -19.7 0M2978.3 2402.9a9.85 9.85 0 1 0 19.7 0a9.85 9.85 0 1 0 -19.7 0M2983.6 2410.1a9.85 9.85 0 1 0 19.7 0a9.85 9.85 0 1 0 -19.7 0M2988.4 2405.3a9.85 9.85 0 1 0 19.7 0a9.85 9.85 0 1 0 -19.7 0M2990.8 2402.9a9.85 9.85 0 1 0 19.7 0a9.85 9.85 0 1 0 -19.7 0M2994.4 2419.7a9.85 9.85 0 1 0 19.7 0a9.85 9.85 0 1 0 -19.7 0M2998 2422.1a9.85 9.85 0 1 0 19.7 0a9.85 9.85 0 1 0 -19.7 0M3004 2419.7a9.85 9.85 0 1 0 19.7 0a9.85 9.85 0 1 0 -19.7 0M3010 2419.7a9.85 9.85 0 1 0 19.7 0a9.85 9.85 0 1 0 -19.7 0M2993.2 2324.5a9.85 9.85 0 1 0 19.7 0a9.85 9.85 0 1 0 -19.7 0M3013.6 2395.7a9.85 9.85 0 1 0 19.7 0a9.85 9.85 0 1 0 -19.7 0M3020.7 2424.5a9.85 9.85 0 1 0 19.7 0a9.85 9.85 0 1 0 -19.7 0M3024.3 2384.9a9.85 9.85 0 1 0 19.7 0a9.85 9.85 0 1 0 -19.7 0M3029.1 2393.3a9.85 9.85 0 1 0 19.7 0a9.85 9.85 0 1 0 -19.7 0M3035.9 2412a9.85 9.85 0 1 0 19.7 0a9.85 9.85 0 1 0 -19.7 0M3050.7 2391.4a9.85 9.85 0 1 0 19.7 0a9.85 9.85 0 1 0 -19.7 0M3057.9 2407.7a9.85 9.85 0 1 0 19.7 0a9.85 9.85 0 1 0 -19.7 0M3061.5 2388.5a9.85 9.85 0 1 0 19.7 0a9.85 9.85 0 1 0 -19.7 0M3063.9 2424.5a9.85 9.85 0 1 0 19.7 0a9.85 9.85 0 1 0 -19.7 0M3054.3 2426.2a9.85 9.85 0 1 0 19.7 0a9.85 9.85 0 1 0 -19.7 0M3086.2 2415.6a9.85 9.85 0 1 0 19.7 0a9.85 9.85 0 1 0 -19.7 0M3098 2425.7a9.85 9.85 0 1 0 19.7 0a9.85 9.85 0 1 0 -19.7 0M3101.6 2388.5a9.85 9.85 0 1 0 19.7 0a9.85 9.85 0 1 0 -19.7 0M3120.7 2348.5a9.85 9.85 0 1 0 19.7 0a9.85 9.85 0 1 0 -19.7 0M3123.4 2407a9.85 9.85 0 1 0 19.7 0a9.85 9.85 0 1 0 -19.7 0M3129.1 2425.7a9.85 9.85 0 1 0 19.7 0a9.85 9.85 0 1 0 -19.7 0M3138.7 2420.4a9.85 9.85 0 1 0 19.7 0a9.85 9.85 0 1 0 -19.7 0M3157.4 2390.5a9.85 9.85 0 1 0 19.7 0a9.85 9.85 0 1 0 -19.7 0M3169.4 2393.3a9.85 9.85 0 1 0 19.7 0a9.85 9.85 0 1 0 -19.7 0M3172.8 2394.2a9.85 9.85 0 1 0 19.7 0a9.85 9.85 0 1 0 -19.7 0M2964.4 2422.6a9.85 9.85 0 1 0 19.7 0a9.85 9.85 0 1 0 -19.7 0M2970.8 2423.8a9.85 9.85 0 1 0 19.7 0a9.85 9.85 0 1 0 -19.7 0M2994.1 2420a9.85 9.85 0 1 0 19.7 0a9.85 9.85 0 1 0 -19.7 0M2989.5 2407.4a9.85 9.85 0 1 0 19.7 0a9.85 9.85 0 1 0 -19.7 0M2997.3 2420.2a9.85 9.85 0 1 0 19.7 0a9.85 9.85 0 1 0 -19.7 0M3020.4 2423.2a9.85 9.85 0 1 0 19.7 0a9.85 9.85 0 1 0 -19.7 0M3026.6 2417.8a9.85 9.85 0 1 0 19.7 0a9.85 9.85 0 1 0 -19.7 0M3032 2412.8a9.85 9.85 0 1 0 19.7 0a9.85 9.85 0 1 0 -19.7 0" fill="#d62728"/></g>
<rect x="315" y="2065.9" width="3004.2" height="435.1" fill="none" stroke="#000" stroke-width="4.4"/>
<text x="394" y="2585.4" text-anchor="middle">2015-12</text>
<text x="736.3" y="2585.4" text-anchor="middle">2016-06</text>
<text x="1078.5" y="2585.4" text-anchor="middle">2016-12</text>
<text x="1418.9" y="2585.4" text-anchor="middle">2017-06</text>
<text x="1761.2" y="2585.4" text-anchor="middle">2017-12</text>
<text x="2101.6" y="2585.4" text-anchor="middle">2018-06</text>
<text x="2443.8" y="2585.4" text-anchor="middle">2018-12</text>
<text x="2784.2" y="2585.4" text-anchor="middle">2019-06</text>
<text x="3126.5" y="2585.4" text-anchor="middle">2019-12</text>
<text x="272" y="2468.4" text-anchor="end">0.000</text>
<text x="272" y="2332.4" text-anchor="end">0.025</text>
<text x="272" y="2196.5" text-anchor="end">0.050</text>
<text x="314.7" y="2044.3" style="font-size:68px">(d)</text>
<text transform="translate(78.6 2283.4) rotate(-90)" text-anchor="middle" font-style="italic">δ</text>
<g clip-path="url(#h3)"><path d="M3482.4 2066.2H3512.7V2070.6H3482.4ZM3482.4 2070.3H3514.4V2082.2H3482.4ZM3482.4 2081.9H3513.4V2094.4H3482.4ZM3482.4 2094.1H3509.7V2106.3H3482.4ZM3482.4 2106H3517.8V2118.2H3482.4ZM3482.4 2117.9H3520.9V2130.5H3482.4ZM3482.4 2130.2H3518.5V2142.4H3482.4ZM3482.4 2142.1H3519.5V2154.3H3482.4ZM3482.4 2154H3523.6V2166.5H3482.4ZM3482.4 2166.2H3526.3V2178.4H3482.4ZM3482.4 2178.1H3524.6V2190.4H3482.4ZM3482.4 2190.1H3528.7V2202.3H3482.4ZM3482.4 2202H3530.4V2214.2H3482.4ZM3482.4 2213.9H3533.1V2226.4H3482.4ZM3482.4 2226.1H3537.9V2238.3H3482.4ZM3482.4 2238H3548.4V2250.2H3482.4ZM3482.4 2249.9H3561V2262.1H3482.4ZM3482.4 2261.8H3563.7V2274H3482.4ZM3482.4 2273.7H3567.1V2286.3H3482.4ZM3482.4 2286H3585.9V2297.8H3482.4ZM3482.4 2297.5H3602.2V2309.7H3482.4ZM3482.4 2309.4H3610.7V2322H3482.4ZM3482.4 2321.7H3647.1V2333.9H3482.4ZM3482.4 2333.6H3671.6V2345.8H3482.4ZM3482.4 2345.5H3695.7V2357.7H3482.4ZM3482.4 2357.4H3708.3V2369.9H3482.4ZM3482.4 2369.6H3753.9V2381.5H3482.4ZM3482.4 2381.2H3819.9V2393.8H3482.4ZM3482.4 2393.5H3900.1V2405.3H3482.4ZM3482.4 2405H3966.8V2417.6H3482.4ZM3482.4 2417.3H4066.1V2429.5H3482.4ZM3482.4 2429.2H4080.7V2441.4H3482.4ZM3482.4 2441.1H3802.9V2452.9H3482.4ZM3482.4 2452.6H3535.5V2464.8H3482.4ZM3482.4 2464.5H3502.9V2476.7H3482.4ZM3482.4 2476.4H3493.3V2488.7H3482.4ZM3482.4 2488.4H3487.9V2502.6H3482.4Z" fill="#d62728"/></g>
<path d="M3783.1 2065.9V2501M4083.5 2065.9V2501M3482.4 2446.6H4110.7M3482.4 2310.6H4110.7M3482.4 2174.7H4110.7" stroke="#b0b0b0" stroke-width="4.4" fill="none"/>
<path d="M3482.4 2501v19.4M3783.1 2501v19.4M4083.5 2501v19.4M3482.4 2446.6h-19.4M3482.4 2310.6h-19.4M3482.4 2174.7h-19.4" stroke="#000" stroke-width="4.4" fill="none"/>
<rect x="3482.4" y="2065.9" width="628.3" height="435.1" fill="none" stroke="#000" stroke-width="4.4"/>
<text x="3482.4" y="2585.4" text-anchor="middle">0</text>
<text x="3783.1" y="2585.4" text-anchor="middle">1000</text>
<text x="4083.5" y="2585.4" text-anchor="middle">2000</text>
<text x="3796.5" y="2663.2" text-anchor="middle">N</text>
<path d="M3795.9 2069H4061Q4077.9 2069 4077.9 2085.9V2208.2Q4077.9 2225.1 4061 2225.1H3795.9Q3779 2225.1 3779 2208.2V2085.9Q3779 2069 3795.9 2069Z" fill="#f5deb3" fill-opacity="0.5" stroke="#000" stroke-opacity="0.5" stroke-width="5.6"/>
<text x="3797.4" y="2133.1"><tspan font-style="italic">μ</tspan> = 0.008</text>
<text x="3797.4" y="2198"><tspan font-style="italic">σ</tspan> = 0.007</text>
<path d="M394 2718.5V3153.6M736.3 2718.5V3153.6M1078.5 2718.5V3153.6M1418.9 2718.5V3153.6M1761.2 2718.5V3153.6M2101.6 2718.5V3153.6M2443.8 2718.5V3153.6M2784.2 2718.5V3153.6M3126.5 2718.5V3153.6M315 3099.2H3319.2M315 2963.2H3319.2M315 2827.3H3319.2" stroke="#b0b0b0" stroke-width="4.4" fill="none"/>
<path d="M394 3153.6v19.4M736.3 3153.6v19.4M1078.5 3153.6v19.4M1418.9 3153.6v19.4M1761.2 3153.6v19.4M2101.6 3153.6v19.4M2443.8 3153.6v19.4M2784.2 3153.6v19.4M3126.5 3153.6v19.4M315 3099.2h-19.4M315 2963.2h-19.4M315 2827.3h-19.4" stroke="#000" stroke-width="4.4" fill="none"/>
<g clip-path="url(#c4)"><path d="M458.6 2960.4V3032.7M466.2 2947.3V3097.6M469.5 2964.7V3080.2M472 2960V3051.9M486.8 2987.5V3108.1M492.3 2915.1V3014.1M494.4 2946.4V3061.9M505.8 3011.3V3104.7M514.4 2984.9V3085.4M539.3 3009.5V3075M541.3 2983.6V3038.4M552 2900.4V3064.3M559.6 2999.6V3060.5M563.4 3014.1V3081.6M568.5 2983.6V3051.1M574.1 3016.1V3094.8M578.6 2981.2V3109.4M583.7 2992V3093.5M591.8 3017.4V3098.6M593.9 2992V3083.4M598.9 2952.3V3092.6M604.5 2991.3V3099.2M607.1 2993.8V3076.5M630.2 2973.5V3071.4M632.7 2978.3V3107.2M636.5 3046.3V3101.1M638.3 2991.5V3083.9M643.9 3009.7V3085.9M651 3000.4V3090.2M655.5 3057.2V3096.8M658.6 2999.6V3075.7M668.2 3018.6V3066.9M681.4 2972.8V3069.5M703.5 2995.8V3087.2M709.3 3013.6V3087.2M713.1 3009.7V3085.9M722.5 3012.8V3111.8M727.1 2996.3V3061.3M728.4 2998.8V3071.4M741.1 2976V3068.9M743.6 3023.2V3085.1M745.6 3019.4V3091.5M750.7 2976V3067.4M753 3034.4V3086.6M765.2 3055.1V3109.1M776.6 3042.4V3093.9M795.6 3049.2V3083M807.6 3005.6V3095.2M812.9 3025.2V3103.4M828.6 3059.7V3097.8M835 3021V3063.4M848.9 3036.4V3102.4M860.4 3052.1V3109.5M870.5 3017.9V3087.9M871.8 3064.8V3117.1M876.1 3038.9V3101.4M881.9 3067.4V3107M887.8 3014.8V3093.5M902.2 3010.1V3100.7M909.8 3048.5V3108.1M924.1 3040.2V3068.1M935.5 3063.6V3098.1M941.9 3023.7V3092.2M947 3023.7V3087.2M952 3026.2V3079.5M955.3 3025V3073.2M963.5 3061.3V3104.4M969.8 3061.6V3104M975.4 3059.6V3096.9M980.7 3058V3082.3M1000.3 3030.6V3055.9M1002.8 3011.5V3096.8M1005.3 3053.4V3100.6M1025.1 3053.5V3105.6M1034.5 3045.3V3106.2M1040.9 3047.6V3098.8M1045.9 2989.4V3079.8M1055.3 3046.8V3104.7M1067 3021.4V3089.4M1074.4 3074.8V3103.5M1087.3 2967.1V3088.9M1092.9 3036.9V3076.5M1094.9 3076V3094.8M1100.5 3032V3094.1M1108.1 3043.6V3102.8M1117.5 3020.3V3113.4M1130.2 2997.6V3099.1M1134 3045.3V3106.2M1141.1 3067.7V3093.9M1160.2 3000.1V3096.5M1167.8 3060.5V3096M1179.2 3049.3V3114.8M1186.8 3045.9V3118.2M2125.7 2973.8V3071M2132.8 3031.6V3092M2135.3 2985.1V3029.3M2140.2 3058V3088.4M2146 2986.1V3043.5M2154.9 3056.1V3105.6M2158.7 2976.8V3064.6M2160.7 3042V3094.3M2170.1 2973.3V3079.2M2183.3 2968V3030.2M2196.2 3060.5V3134.1M2218.3 3036.8V3089.3M2223.4 3019.5V3106.6M2225.9 2970.7V3102.1M2231.8 3024.3V3106.8M2237.4 3056.7V3097.3M2241.2 2958.2V3053.7M2243.7 2992V3091M2247 2977.5V3077.5M2250.6 2970.4V3023.7M2262.2 2964.6V3078.8M2264 3037.7V3118.9M2267.8 3047.4V3134.5M2285.1 3004.7V3098.6M2286.3 3004.7V3039.2M2288.1 3039.8V3101.5M2295.7 3072.4V3101.9M2297 3041.5V3099.8M2299.5 3029.3V3086.6M2316 3057.1V3108.6M2320.6 3063.8V3101.9M2330.8 3029.3V3114.6M2338.1 3059.9V3101.8M2347.8 3011.5V3088.2M2355.4 3079.5V3112.5M2370.6 3047.3V3078.8M2374.4 3058V3085.9M2383.3 2985.4V3091.5M2390.9 3051.6V3094.8M2416.3 3042.4V3093.9M2422.6 3030.3V3111M2432.3 2999.6V3111.3M2440.4 3062V3104.7M2452.3 3057.7V3103.9M2464.5 3030.1V3096M2497.5 3056.7V3092.2M2507.2 3051.1V3095.3M2520.4 3044.5V3094.3M2539.4 3060.5V3098.6M2555.4 3065.3V3103.9M2565.3 2958.7V3026.2M2569.3 3029.8V3083.6M2577.5 3025V3096M2582.3 2976.8V3087.4M2591.7 3043V3083.1M2600.6 3054.7V3096.8M2607.7 3013.6V3083.1M2610 3064.8V3102.9M2630.3 3043.6V3091.1M2645 3029.3V3080.6M2651.4 3031.3V3094.8M2654.4 3023.2V3085.1M2660.8 3037.2V3086.4M2690.2 2996V3059M2742.7 2998.8V3077.5M2748.3 3021.2V3087.2M2750.4 3002.8V3082.7M2761.8 2965.6V3037.2M2770.2 3014.1V3094.3M2772.7 3072.2V3101.1M2782.6 2969.1V3080.8M2789.7 3038.4V3112M2801.1 2979V3065.8M2807.5 3013.6V3079.5M2824 2961.1V3106.6M2826.5 3046.5V3104.9M2829.5 2969.1V3038.7M2831.1 2939.8V3025.4M2832.8 3055.9V3105.7M2836.6 3049.5V3094.4M2842.2 3019.9V3085.9M2844.3 2987V3102.5M2854.4 3074.5V3097.3M2859.5 3049.6V3086.6M2864.6 3044.9V3124.3M2879.3 2993.2V3126.2M2893.8 3013.3V3122.9M2897.6 3003.4V3077M2905.2 3015.7V3125.6M2909.5 2996.5V3129.5M2914.1 3033.9V3117.6M2925.5 3031.3V3089.7M2928.5 3062.8V3123.2M2959.7 3057V3121.4M2971.2 3050.4V3089.4M2978.8 3081.6V3102.9M2986.4 3061.8V3104.9M2988.9 3021.7V3099.3M2996.5 3036.4V3089.7M3001.6 3017V3099M3010.5 3056.7V3099.8M3014.3 3007.2V3103.7M3019.4 3040.2V3101.1M3029 3020.4V3100.6M3038.4 3029.2V3091.9M3051.1 3013.6V3087.2M3055.4 3011.9V3109.1M3059.5 3021.2V3104.9M3062.4 3034.7V3094.8M3066.7 3073.2V3103.2M3071.8 3034.7V3092.9M3111.6 3031.8V3100.3M3126.2 2980.4V3079.6M3130 3037.5V3122M3133.7 3051.4V3093.1M3141.3 3046.5V3086.7M3146.5 2991.7V3073.9M3167.6 3015.7V3075.1M3178.4 3060V3112.6M3180.7 3040.9V3093.5M563.1 3026.6V3066.7M576.3 3030.8V3061.2M568.4 2974.8V3061.4M586.8 3017.7V3088M591.6 2997.4V3098.9M601.1 3018V3095.3M603.9 3037.1V3095.9M609.6 3017.1V3082.6M625.2 3009.8V3086.8M637.4 3005.1V3095M647 3023.1V3087.2M654.5 2995V3063.6M649.3 3033.5V3098.4M670.1 3023.4V3089M667.5 3008.4V3094.4M2889.9 3002.4V3114.9M2892.7 3024.2V3093.9M2904 3035.3V3100.5M2910.9 3002.3V3092.3M2913.8 3022.4V3108M2930.6 3022.6V3105.7M2990.2 3015.9V3096.8M2984.6 3033.3V3102M3008.9 3022.2V3112.3M3016.3 3039.1V3100.1M3014.2 3019.1V3081M3017.8 3043.5V3082.3M3038.7 3043.8V3118.1M3033.3 3015.6V3099.2M3055.4 3006.2V3101.4M3056.8 3021.4V3099.6" stroke="#8755b5" stroke-width="2.8" fill="none"/>
<path d="M448.7 2996.5a9.85 9.85 0 1 0 19.7 0a9.85 9.85 0 1 0 -19.7 0M456.3 3022.4a9.85 9.85 0 1 0 19.7 0a9.85 9.85 0 1 0 -19.7 0M459.6 3022.4a9.85 9.85 0 1 0 19.7 0a9.85 9.85 0 1 0 -19.7 0M462.2 3005.9a9.85 9.85 0 1 0 19.7 0a9.85 9.85 0 1 0 -19.7 0M476.9 3047.8a9.85 9.85 0 1 0 19.7 0a9.85 9.85 0 1 0 -19.7 0M481.2 3020.4a9.85 9.85 0 1 0 19.7 0a9.85 9.85 0 1 0 -19.7 0M482.5 2964.6a9.85 9.85 0 1 0 19.7 0a9.85 9.85 0 1 0 -19.7 0M484.5 3004.2a9.85 9.85 0 1 0 19.7 0a9.85 9.85 0 1 0 -19.7 0M495.9 3058a9.85 9.85 0 1 0 19.7 0a9.85 9.85 0 1 0 -19.7 0M499 3049.1a9.85 9.85 0 1 0 19.7 0a9.85 9.85 0 1 0 -19.7 0M504.6 3035.1a9.85 9.85 0 1 0 19.7 0a9.85 9.85 0 1 0 -19.7 0M506.6 3068.1a9.85 9.85 0 1 0 19.7 0a9.85 9.85 0 1 0 -19.7 0M529.4 3042.2a9.85 9.85 0 1 0 19.7 0a9.85 9.85 0 1 0 -19.7 0M531.5 3011a9.85 9.85 0 1 0 19.7 0a9.85 9.85 0 1 0 -19.7 0M542.1 2982.3a9.85 9.85 0 1 0 19.7 0a9.85 9.85 0 1 0 -19.7 0M549.7 3030.1a9.85 9.85 0 1 0 19.7 0a9.85 9.85 0 1 0 -19.7 0M553.6 3047.8a9.85 9.85 0 1 0 19.7 0a9.85 9.85 0 1 0 -19.7 0M558.6 3017.4a9.85 9.85 0 1 0 19.7 0a9.85 9.85 0 1 0 -19.7 0M562.4 3037.7a9.85 9.85 0 1 0 19.7 0a9.85 9.85 0 1 0 -19.7 0M564.2 3055.4a9.85 9.85 0 1 0 19.7 0a9.85 9.85 0 1 0 -19.7 0M568.8 3045.3a9.85 9.85 0 1 0 19.7 0a9.85 9.85 0 1 0 -19.7 0M573.9 3042.7a9.85 9.85 0 1 0 19.7 0a9.85 9.85 0 1 0 -19.7 0M578.9 3052.9a9.85 9.85 0 1 0 19.7 0a9.85 9.85 0 1 0 -19.7 0M582 3058a9.85 9.85 0 1 0 19.7 0a9.85 9.85 0 1 0 -19.7 0M584 3037.7a9.85 9.85 0 1 0 19.7 0a9.85 9.85 0 1 0 -19.7 0M589.1 3022.4a9.85 9.85 0 1 0 19.7 0a9.85 9.85 0 1 0 -19.7 0M594.7 3045.3a9.85 9.85 0 1 0 19.7 0a9.85 9.85 0 1 0 -19.7 0M597.2 3035.1a9.85 9.85 0 1 0 19.7 0a9.85 9.85 0 1 0 -19.7 0M600.5 3074.5a9.85 9.85 0 1 0 19.7 0a9.85 9.85 0 1 0 -19.7 0M613.2 3061.8a9.85 9.85 0 1 0 19.7 0a9.85 9.85 0 1 0 -19.7 0M620.3 3022.4a9.85 9.85 0 1 0 19.7 0a9.85 9.85 0 1 0 -19.7 0M622.8 3042.7a9.85 9.85 0 1 0 19.7 0a9.85 9.85 0 1 0 -19.7 0M626.6 3073.7a9.85 9.85 0 1 0 19.7 0a9.85 9.85 0 1 0 -19.7 0M628.4 3037.7a9.85 9.85 0 1 0 19.7 0a9.85 9.85 0 1 0 -19.7 0M634 3047.8a9.85 9.85 0 1 0 19.7 0a9.85 9.85 0 1 0 -19.7 0M641.1 3045.3a9.85 9.85 0 1 0 19.7 0a9.85 9.85 0 1 0 -19.7 0M645.7 3077a9.85 9.85 0 1 0 19.7 0a9.85 9.85 0 1 0 -19.7 0M648.7 3037.7a9.85 9.85 0 1 0 19.7 0a9.85 9.85 0 1 0 -19.7 0M658.4 3042.7a9.85 9.85 0 1 0 19.7 0a9.85 9.85 0 1 0 -19.7 0M671.6 3021.2a9.85 9.85 0 1 0 19.7 0a9.85 9.85 0 1 0 -19.7 0M693.7 3041.5a9.85 9.85 0 1 0 19.7 0a9.85 9.85 0 1 0 -19.7 0M699.5 3050.4a9.85 9.85 0 1 0 19.7 0a9.85 9.85 0 1 0 -19.7 0M703.3 3047.8a9.85 9.85 0 1 0 19.7 0a9.85 9.85 0 1 0 -19.7 0M712.7 3062.3a9.85 9.85 0 1 0 19.7 0a9.85 9.85 0 1 0 -19.7 0M717.3 3028.8a9.85 9.85 0 1 0 19.7 0a9.85 9.85 0 1 0 -19.7 0M718.5 3035.1a9.85 9.85 0 1 0 19.7 0a9.85 9.85 0 1 0 -19.7 0M731.2 3022.4a9.85 9.85 0 1 0 19.7 0a9.85 9.85 0 1 0 -19.7 0M733.8 3054.2a9.85 9.85 0 1 0 19.7 0a9.85 9.85 0 1 0 -19.7 0M735.8 3055.4a9.85 9.85 0 1 0 19.7 0a9.85 9.85 0 1 0 -19.7 0M740.9 3021.7a9.85 9.85 0 1 0 19.7 0a9.85 9.85 0 1 0 -19.7 0M743.1 3060.5a9.85 9.85 0 1 0 19.7 0a9.85 9.85 0 1 0 -19.7 0M755.3 3082.1a9.85 9.85 0 1 0 19.7 0a9.85 9.85 0 1 0 -19.7 0M766.7 3068.1a9.85 9.85 0 1 0 19.7 0a9.85 9.85 0 1 0 -19.7 0M785.8 3066.1a9.85 9.85 0 1 0 19.7 0a9.85 9.85 0 1 0 -19.7 0M797.7 3050.4a9.85 9.85 0 1 0 19.7 0a9.85 9.85 0 1 0 -19.7 0M803 3064.3a9.85 9.85 0 1 0 19.7 0a9.85 9.85 0 1 0 -19.7 0M818.8 3078.8a9.85 9.85 0 1 0 19.7 0a9.85 9.85 0 1 0 -19.7 0M825.1 3042.2a9.85 9.85 0 1 0 19.7 0a9.85 9.85 0 1 0 -19.7 0M839.1 3069.4a9.85 9.85 0 1 0 19.7 0a9.85 9.85 0 1 0 -19.7 0M850.5 3080.8a9.85 9.85 0 1 0 19.7 0a9.85 9.85 0 1 0 -19.7 0M860.7 3052.9a9.85 9.85 0 1 0 19.7 0a9.85 9.85 0 1 0 -19.7 0M861.9 3091a9.85 9.85 0 1 0 19.7 0a9.85 9.85 0 1 0 -19.7 0M866.2 3070.2a9.85 9.85 0 1 0 19.7 0a9.85 9.85 0 1 0 -19.7 0M872.1 3087.2a9.85 9.85 0 1 0 19.7 0a9.85 9.85 0 1 0 -19.7 0M877.9 3054.2a9.85 9.85 0 1 0 19.7 0a9.85 9.85 0 1 0 -19.7 0M892.4 3055.4a9.85 9.85 0 1 0 19.7 0a9.85 9.85 0 1 0 -19.7 0M888.6 3077a9.85 9.85 0 1 0 19.7 0a9.85 9.85 0 1 0 -19.7 0M900 3078.3a9.85 9.85 0 1 0 19.7 0a9.85 9.85 0 1 0 -19.7 0M907.6 3060.5a9.85 9.85 0 1 0 19.7 0a9.85 9.85 0 1 0 -19.7 0M914.3 3054.2a9.85 9.85 0 1 0 19.7 0a9.85 9.85 0 1 0 -19.7 0M915.5 3063a9.85 9.85 0 1 0 19.7 0a9.85 9.85 0 1 0 -19.7 0M925.7 3080.8a9.85 9.85 0 1 0 19.7 0a9.85 9.85 0 1 0 -19.7 0M932 3058a9.85 9.85 0 1 0 19.7 0a9.85 9.85 0 1 0 -19.7 0M937.1 3055.4a9.85 9.85 0 1 0 19.7 0a9.85 9.85 0 1 0 -19.7 0M942.2 3052.9a9.85 9.85 0 1 0 19.7 0a9.85 9.85 0 1 0 -19.7 0M945.5 3049.1a9.85 9.85 0 1 0 19.7 0a9.85 9.85 0 1 0 -19.7 0M953.6 3082.8a9.85 9.85 0 1 0 19.7 0a9.85 9.85 0 1 0 -19.7 0M959.9 3082.8a9.85 9.85 0 1 0 19.7 0a9.85 9.85 0 1 0 -19.7 0M965.5 3078.3a9.85 9.85 0 1 0 19.7 0a9.85 9.85 0 1 0 -19.7 0M970.9 3070.2a9.85 9.85 0 1 0 19.7 0a9.85 9.85 0 1 0 -19.7 0M990.4 3043.2a9.85 9.85 0 1 0 19.7 0a9.85 9.85 0 1 0 -19.7 0M992.9 3054.2a9.85 9.85 0 1 0 19.7 0a9.85 9.85 0 1 0 -19.7 0M996.7 3061.8a9.85 9.85 0 1 0 19.7 0a9.85 9.85 0 1 0 -19.7 0M995.5 3077a9.85 9.85 0 1 0 19.7 0a9.85 9.85 0 1 0 -19.7 0M1015.3 3079.5a9.85 9.85 0 1 0 19.7 0a9.85 9.85 0 1 0 -19.7 0M1024.7 3075.7a9.85 9.85 0 1 0 19.7 0a9.85 9.85 0 1 0 -19.7 0M1031 3073.2a9.85 9.85 0 1 0 19.7 0a9.85 9.85 0 1 0 -19.7 0M1036.1 3034.6a9.85 9.85 0 1 0 19.7 0a9.85 9.85 0 1 0 -19.7 0M1045.5 3075.7a9.85 9.85 0 1 0 19.7 0a9.85 9.85 0 1 0 -19.7 0M1057.2 3055.4a9.85 9.85 0 1 0 19.7 0a9.85 9.85 0 1 0 -19.7 0M1064.5 3089.2a9.85 9.85 0 1 0 19.7 0a9.85 9.85 0 1 0 -19.7 0M1077.5 3028a9.85 9.85 0 1 0 19.7 0a9.85 9.85 0 1 0 -19.7 0M1083 3056.7a9.85 9.85 0 1 0 19.7 0a9.85 9.85 0 1 0 -19.7 0M1085.1 3085.4a9.85 9.85 0 1 0 19.7 0a9.85 9.85 0 1 0 -19.7 0M1090.7 3063a9.85 9.85 0 1 0 19.7 0a9.85 9.85 0 1 0 -19.7 0M1098.3 3073.2a9.85 9.85 0 1 0 19.7 0a9.85 9.85 0 1 0 -19.7 0M1107.7 3066.9a9.85 9.85 0 1 0 19.7 0a9.85 9.85 0 1 0 -19.7 0M1120.4 3048.3a9.85 9.85 0 1 0 19.7 0a9.85 9.85 0 1 0 -19.7 0M1124.2 3075.7a9.85 9.85 0 1 0 19.7 0a9.85 9.85 0 1 0 -19.7 0M1131.3 3080.8a9.85 9.85 0 1 0 19.7 0a9.85 9.85 0 1 0 -19.7 0M1147 3093a9.85 9.85 0 1 0 19.7 0a9.85 9.85 0 1 0 -19.7 0M1150.3 3048.3a9.85 9.85 0 1 0 19.7 0a9.85 9.85 0 1 0 -19.7 0M1157.9 3078.3a9.85 9.85 0 1 0 19.7 0a9.85 9.85 0 1 0 -19.7 0M1169.3 3082.1a9.85 9.85 0 1 0 19.7 0a9.85 9.85 0 1 0 -19.7 0M1177 3082.1a9.85 9.85 0 1 0 19.7 0a9.85 9.85 0 1 0 -19.7 0M2115.8 3022.4a9.85 9.85 0 1 0 19.7 0a9.85 9.85 0 1 0 -19.7 0M2122.9 3061.8a9.85 9.85 0 1 0 19.7 0a9.85 9.85 0 1 0 -19.7 0M2125.5 3007.2a9.85 9.85 0 1 0 19.7 0a9.85 9.85 0 1 0 -19.7 0M2130.3 3073.2a9.85 9.85 0 1 0 19.7 0a9.85 9.85 0 1 0 -19.7 0M2134.1 3045.3a9.85 9.85 0 1 0 19.7 0a9.85 9.85 0 1 0 -19.7 0M2136.1 3014.8a9.85 9.85 0 1 0 19.7 0a9.85 9.85 0 1 0 -19.7 0M2145 3080.8a9.85 9.85 0 1 0 19.7 0a9.85 9.85 0 1 0 -19.7 0M2148.8 3020.7a9.85 9.85 0 1 0 19.7 0a9.85 9.85 0 1 0 -19.7 0M2150.9 3068.1a9.85 9.85 0 1 0 19.7 0a9.85 9.85 0 1 0 -19.7 0M2156.4 3054.9a9.85 9.85 0 1 0 19.7 0a9.85 9.85 0 1 0 -19.7 0M2160.3 3026.2a9.85 9.85 0 1 0 19.7 0a9.85 9.85 0 1 0 -19.7 0M2173.4 2999.1a9.85 9.85 0 1 0 19.7 0a9.85 9.85 0 1 0 -19.7 0M2186.4 3097.3a9.85 9.85 0 1 0 19.7 0a9.85 9.85 0 1 0 -19.7 0M2208.5 3063a9.85 9.85 0 1 0 19.7 0a9.85 9.85 0 1 0 -19.7 0M2213.6 3063a9.85 9.85 0 1 0 19.7 0a9.85 9.85 0 1 0 -19.7 0M2216.1 3036.4a9.85 9.85 0 1 0 19.7 0a9.85 9.85 0 1 0 -19.7 0M2221.9 3065.6a9.85 9.85 0 1 0 19.7 0a9.85 9.85 0 1 0 -19.7 0M2227.5 3077a9.85 9.85 0 1 0 19.7 0a9.85 9.85 0 1 0 -19.7 0M2231.3 3005.9a9.85 9.85 0 1 0 19.7 0a9.85 9.85 0 1 0 -19.7 0M2233.9 3041.5a9.85 9.85 0 1 0 19.7 0a9.85 9.85 0 1 0 -19.7 0M2237.2 3027.5a9.85 9.85 0 1 0 19.7 0a9.85 9.85 0 1 0 -19.7 0M2240.7 2997.1a9.85 9.85 0 1 0 19.7 0a9.85 9.85 0 1 0 -19.7 0M2252.4 3021.7a9.85 9.85 0 1 0 19.7 0a9.85 9.85 0 1 0 -19.7 0M2254.2 3078.3a9.85 9.85 0 1 0 19.7 0a9.85 9.85 0 1 0 -19.7 0M2258 3091a9.85 9.85 0 1 0 19.7 0a9.85 9.85 0 1 0 -19.7 0M2260 3060.5a9.85 9.85 0 1 0 19.7 0a9.85 9.85 0 1 0 -19.7 0M2275.2 3051.6a9.85 9.85 0 1 0 19.7 0a9.85 9.85 0 1 0 -19.7 0M2276.5 3021.9a9.85 9.85 0 1 0 19.7 0a9.85 9.85 0 1 0 -19.7 0M2278.3 3070.7a9.85 9.85 0 1 0 19.7 0a9.85 9.85 0 1 0 -19.7 0M2282.6 3001.4a9.85 9.85 0 1 0 19.7 0a9.85 9.85 0 1 0 -19.7 0M2285.9 3087.2a9.85 9.85 0 1 0 19.7 0a9.85 9.85 0 1 0 -19.7 0M2287.2 3070.7a9.85 9.85 0 1 0 19.7 0a9.85 9.85 0 1 0 -19.7 0M2289.7 3058a9.85 9.85 0 1 0 19.7 0a9.85 9.85 0 1 0 -19.7 0M2306.2 3082.8a9.85 9.85 0 1 0 19.7 0a9.85 9.85 0 1 0 -19.7 0M2310.8 3082.8a9.85 9.85 0 1 0 19.7 0a9.85 9.85 0 1 0 -19.7 0M2320.9 3071.9a9.85 9.85 0 1 0 19.7 0a9.85 9.85 0 1 0 -19.7 0M2328.3 3080.8a9.85 9.85 0 1 0 19.7 0a9.85 9.85 0 1 0 -19.7 0M2337.9 3049.8a9.85 9.85 0 1 0 19.7 0a9.85 9.85 0 1 0 -19.7 0M2339.7 3072.7a9.85 9.85 0 1 0 19.7 0a9.85 9.85 0 1 0 -19.7 0M2345.5 3096a9.85 9.85 0 1 0 19.7 0a9.85 9.85 0 1 0 -19.7 0M2360.8 3063a9.85 9.85 0 1 0 19.7 0a9.85 9.85 0 1 0 -19.7 0M2364.6 3071.9a9.85 9.85 0 1 0 19.7 0a9.85 9.85 0 1 0 -19.7 0M2373.4 3038.4a9.85 9.85 0 1 0 19.7 0a9.85 9.85 0 1 0 -19.7 0M2381.1 3073.2a9.85 9.85 0 1 0 19.7 0a9.85 9.85 0 1 0 -19.7 0M2384.9 3078.3a9.85 9.85 0 1 0 19.7 0a9.85 9.85 0 1 0 -19.7 0M2395 3083.4a9.85 9.85 0 1 0 19.7 0a9.85 9.85 0 1 0 -19.7 0M2406.4 3068.1a9.85 9.85 0 1 0 19.7 0a9.85 9.85 0 1 0 -19.7 0M2412.8 3070.7a9.85 9.85 0 1 0 19.7 0a9.85 9.85 0 1 0 -19.7 0M2410.3 3083.4a9.85 9.85 0 1 0 19.7 0a9.85 9.85 0 1 0 -19.7 0M2422.4 3055.4a9.85 9.85 0 1 0 19.7 0a9.85 9.85 0 1 0 -19.7 0M2430.6 3083.4a9.85 9.85 0 1 0 19.7 0a9.85 9.85 0 1 0 -19.7 0M2442.5 3080.8a9.85 9.85 0 1 0 19.7 0a9.85 9.85 0 1 0 -19.7 0M2445.8 3084.6a9.85 9.85 0 1 0 19.7 0a9.85 9.85 0 1 0 -19.7 0M2454.7 3063a9.85 9.85 0 1 0 19.7 0a9.85 9.85 0 1 0 -19.7 0M2455.9 3074.5a9.85 9.85 0 1 0 19.7 0a9.85 9.85 0 1 0 -19.7 0M2487.7 3074.5a9.85 9.85 0 1 0 19.7 0a9.85 9.85 0 1 0 -19.7 0M2497.3 3073.2a9.85 9.85 0 1 0 19.7 0a9.85 9.85 0 1 0 -19.7 0M2501.1 3091a9.85 9.85 0 1 0 19.7 0a9.85 9.85 0 1 0 -19.7 0M2510.5 3069.4a9.85 9.85 0 1 0 19.7 0a9.85 9.85 0 1 0 -19.7 0M2514.3 3093.5a9.85 9.85 0 1 0 19.7 0a9.85 9.85 0 1 0 -19.7 0M2523.2 3032.1a9.85 9.85 0 1 0 19.7 0a9.85 9.85 0 1 0 -19.7 0M2529.5 3079.5a9.85 9.85 0 1 0 19.7 0a9.85 9.85 0 1 0 -19.7 0M2532.1 3088.4a9.85 9.85 0 1 0 19.7 0a9.85 9.85 0 1 0 -19.7 0M2545.5 3084.6a9.85 9.85 0 1 0 19.7 0a9.85 9.85 0 1 0 -19.7 0M2555.4 2992.5a9.85 9.85 0 1 0 19.7 0a9.85 9.85 0 1 0 -19.7 0M2559.5 3056.7a9.85 9.85 0 1 0 19.7 0a9.85 9.85 0 1 0 -19.7 0M2567.6 3060.5a9.85 9.85 0 1 0 19.7 0a9.85 9.85 0 1 0 -19.7 0M2572.5 3032.1a9.85 9.85 0 1 0 19.7 0a9.85 9.85 0 1 0 -19.7 0M2575.5 3056.7a9.85 9.85 0 1 0 19.7 0a9.85 9.85 0 1 0 -19.7 0M2581.9 3063a9.85 9.85 0 1 0 19.7 0a9.85 9.85 0 1 0 -19.7 0M2590.8 3075.7a9.85 9.85 0 1 0 19.7 0a9.85 9.85 0 1 0 -19.7 0M2597.9 3048.3a9.85 9.85 0 1 0 19.7 0a9.85 9.85 0 1 0 -19.7 0M2597.1 3059.2a9.85 9.85 0 1 0 19.7 0a9.85 9.85 0 1 0 -19.7 0M2600.2 3083.9a9.85 9.85 0 1 0 19.7 0a9.85 9.85 0 1 0 -19.7 0M2620.5 3067.4a9.85 9.85 0 1 0 19.7 0a9.85 9.85 0 1 0 -19.7 0M2635.2 3054.9a9.85 9.85 0 1 0 19.7 0a9.85 9.85 0 1 0 -19.7 0M2641.5 3063a9.85 9.85 0 1 0 19.7 0a9.85 9.85 0 1 0 -19.7 0M2644.6 3054.2a9.85 9.85 0 1 0 19.7 0a9.85 9.85 0 1 0 -19.7 0M2650.9 3061.8a9.85 9.85 0 1 0 19.7 0a9.85 9.85 0 1 0 -19.7 0M2677.1 3068.1a9.85 9.85 0 1 0 19.7 0a9.85 9.85 0 1 0 -19.7 0M2680.4 3027.5a9.85 9.85 0 1 0 19.7 0a9.85 9.85 0 1 0 -19.7 0M2722 2999.1a9.85 9.85 0 1 0 19.7 0a9.85 9.85 0 1 0 -19.7 0M2732.9 3038.2a9.85 9.85 0 1 0 19.7 0a9.85 9.85 0 1 0 -19.7 0M2738.5 3054.2a9.85 9.85 0 1 0 19.7 0a9.85 9.85 0 1 0 -19.7 0M2729.6 3071.2a9.85 9.85 0 1 0 19.7 0a9.85 9.85 0 1 0 -19.7 0M2740.5 3042.7a9.85 9.85 0 1 0 19.7 0a9.85 9.85 0 1 0 -19.7 0M2751.9 3001.4a9.85 9.85 0 1 0 19.7 0a9.85 9.85 0 1 0 -19.7 0M2760.3 3054.2a9.85 9.85 0 1 0 19.7 0a9.85 9.85 0 1 0 -19.7 0M2761.6 3046.5a9.85 9.85 0 1 0 19.7 0a9.85 9.85 0 1 0 -19.7 0M2762.8 3086.6a9.85 9.85 0 1 0 19.7 0a9.85 9.85 0 1 0 -19.7 0M2765.1 2989.4a9.85 9.85 0 1 0 19.7 0a9.85 9.85 0 1 0 -19.7 0M2772.7 3025a9.85 9.85 0 1 0 19.7 0a9.85 9.85 0 1 0 -19.7 0M2777.8 3043.2a9.85 9.85 0 1 0 19.7 0a9.85 9.85 0 1 0 -19.7 0M2779.8 3075.2a9.85 9.85 0 1 0 19.7 0a9.85 9.85 0 1 0 -19.7 0M2791.3 3022.4a9.85 9.85 0 1 0 19.7 0a9.85 9.85 0 1 0 -19.7 0M2797.6 3046.5a9.85 9.85 0 1 0 19.7 0a9.85 9.85 0 1 0 -19.7 0M2800.2 3030.1a9.85 9.85 0 1 0 19.7 0a9.85 9.85 0 1 0 -19.7 0M2814.1 3033.9a9.85 9.85 0 1 0 19.7 0a9.85 9.85 0 1 0 -19.7 0M2816.6 3075.7a9.85 9.85 0 1 0 19.7 0a9.85 9.85 0 1 0 -19.7 0M2819.7 3003.9a9.85 9.85 0 1 0 19.7 0a9.85 9.85 0 1 0 -19.7 0M2821.2 2982.6a9.85 9.85 0 1 0 19.7 0a9.85 9.85 0 1 0 -19.7 0M2823 3080.8a9.85 9.85 0 1 0 19.7 0a9.85 9.85 0 1 0 -19.7 0M2826.8 3071.9a9.85 9.85 0 1 0 19.7 0a9.85 9.85 0 1 0 -19.7 0M2832.4 3052.9a9.85 9.85 0 1 0 19.7 0a9.85 9.85 0 1 0 -19.7 0M2834.4 3044.8a9.85 9.85 0 1 0 19.7 0a9.85 9.85 0 1 0 -19.7 0M2844.6 3085.9a9.85 9.85 0 1 0 19.7 0a9.85 9.85 0 1 0 -19.7 0M2849.6 3068.1a9.85 9.85 0 1 0 19.7 0a9.85 9.85 0 1 0 -19.7 0M2854.7 3084.6a9.85 9.85 0 1 0 19.7 0a9.85 9.85 0 1 0 -19.7 0M2869.4 3059.7a9.85 9.85 0 1 0 19.7 0a9.85 9.85 0 1 0 -19.7 0M2883.9 3068.1a9.85 9.85 0 1 0 19.7 0a9.85 9.85 0 1 0 -19.7 0M2887.7 3040.2a9.85 9.85 0 1 0 19.7 0a9.85 9.85 0 1 0 -19.7 0M2890.3 3060.5a9.85 9.85 0 1 0 19.7 0a9.85 9.85 0 1 0 -19.7 0M2895.3 3070.7a9.85 9.85 0 1 0 19.7 0a9.85 9.85 0 1 0 -19.7 0M2899.6 3063a9.85 9.85 0 1 0 19.7 0a9.85 9.85 0 1 0 -19.7 0M2904.2 3075.7a9.85 9.85 0 1 0 19.7 0a9.85 9.85 0 1 0 -19.7 0M2915.6 3060.5a9.85 9.85 0 1 0 19.7 0a9.85 9.85 0 1 0 -19.7 0M2915.6 3073.2a9.85 9.85 0 1 0 19.7 0a9.85 9.85 0 1 0 -19.7 0M2918.7 3093a9.85 9.85 0 1 0 19.7 0a9.85 9.85 0 1 0 -19.7 0M2949.9 3089.2a9.85 9.85 0 1 0 19.7 0a9.85 9.85 0 1 0 -19.7 0M2961.3 3069.9a9.85 9.85 0 1 0 19.7 0a9.85 9.85 0 1 0 -19.7 0M2968.9 3092.2a9.85 9.85 0 1 0 19.7 0a9.85 9.85 0 1 0 -19.7 0M2976.5 3083.4a9.85 9.85 0 1 0 19.7 0a9.85 9.85 0 1 0 -19.7 0M2979.1 3060.5a9.85 9.85 0 1 0 19.7 0a9.85 9.85 0 1 0 -19.7 0M2986.7 3063a9.85 9.85 0 1 0 19.7 0a9.85 9.85 0 1 0 -19.7 0M2991.8 3058a9.85 9.85 0 1 0 19.7 0a9.85 9.85 0 1 0 -19.7 0M2996.9 3070.7a9.85 9.85 0 1 0 19.7 0a9.85 9.85 0 1 0 -19.7 0M3000.7 3078.3a9.85 9.85 0 1 0 19.7 0a9.85 9.85 0 1 0 -19.7 0M3004.5 3055.4a9.85 9.85 0 1 0 19.7 0a9.85 9.85 0 1 0 -19.7 0M3009.5 3070.7a9.85 9.85 0 1 0 19.7 0a9.85 9.85 0 1 0 -19.7 0M3019.2 3060.5a9.85 9.85 0 1 0 19.7 0a9.85 9.85 0 1 0 -19.7 0M3028.6 3060.5a9.85 9.85 0 1 0 19.7 0a9.85 9.85 0 1 0 -19.7 0M3041.3 3050.4a9.85 9.85 0 1 0 19.7 0a9.85 9.85 0 1 0 -19.7 0M3045.6 3060.5a9.85 9.85 0 1 0 19.7 0a9.85 9.85 0 1 0 -19.7 0M3049.6 3063a9.85 9.85 0 1 0 19.7 0a9.85 9.85 0 1 0 -19.7 0M3052.5 3064.7a9.85 9.85 0 1 0 19.7 0a9.85 9.85 0 1 0 -19.7 0M3056.8 3088.2a9.85 9.85 0 1 0 19.7 0a9.85 9.85 0 1 0 -19.7 0M3061.9 3063.8a9.85 9.85 0 1 0 19.7 0a9.85 9.85 0 1 0 -19.7 0M3064.7 3063.4a9.85 9.85 0 1 0 19.7 0a9.85 9.85 0 1 0 -19.7 0M3101.7 3066a9.85 9.85 0 1 0 19.7 0a9.85 9.85 0 1 0 -19.7 0M3116.4 3030a9.85 9.85 0 1 0 19.7 0a9.85 9.85 0 1 0 -19.7 0M3120.1 3079.8a9.85 9.85 0 1 0 19.7 0a9.85 9.85 0 1 0 -19.7 0M3121.1 3087.3a9.85 9.85 0 1 0 19.7 0a9.85 9.85 0 1 0 -19.7 0M3123.9 3072.2a9.85 9.85 0 1 0 19.7 0a9.85 9.85 0 1 0 -19.7 0M3131.4 3066.6a9.85 9.85 0 1 0 19.7 0a9.85 9.85 0 1 0 -19.7 0M3128.6 3076a9.85 9.85 0 1 0 19.7 0a9.85 9.85 0 1 0 -19.7 0M3136.7 3032.8a9.85 9.85 0 1 0 19.7 0a9.85 9.85 0 1 0 -19.7 0M3157.7 3045.4a9.85 9.85 0 1 0 19.7 0a9.85 9.85 0 1 0 -19.7 0M3168.6 3086.3a9.85 9.85 0 1 0 19.7 0a9.85 9.85 0 1 0 -19.7 0M3170.8 3067.2a9.85 9.85 0 1 0 19.7 0a9.85 9.85 0 1 0 -19.7 0M553.2 3046.7a9.85 9.85 0 1 0 19.7 0a9.85 9.85 0 1 0 -19.7 0M566.5 3046a9.85 9.85 0 1 0 19.7 0a9.85 9.85 0 1 0 -19.7 0M558.6 3018.1a9.85 9.85 0 1 0 19.7 0a9.85 9.85 0 1 0 -19.7 0M577 3052.9a9.85 9.85 0 1 0 19.7 0a9.85 9.85 0 1 0 -19.7 0M581.7 3048.2a9.85 9.85 0 1 0 19.7 0a9.85 9.85 0 1 0 -19.7 0M591.3 3056.7a9.85 9.85 0 1 0 19.7 0a9.85 9.85 0 1 0 -19.7 0M594 3066.5a9.85 9.85 0 1 0 19.7 0a9.85 9.85 0 1 0 -19.7 0M599.8 3049.8a9.85 9.85 0 1 0 19.7 0a9.85 9.85 0 1 0 -19.7 0M615.4 3048.3a9.85 9.85 0 1 0 19.7 0a9.85 9.85 0 1 0 -19.7 0M627.5 3050a9.85 9.85 0 1 0 19.7 0a9.85 9.85 0 1 0 -19.7 0M637.2 3055.1a9.85 9.85 0 1 0 19.7 0a9.85 9.85 0 1 0 -19.7 0M644.6 3029.3a9.85 9.85 0 1 0 19.7 0a9.85 9.85 0 1 0 -19.7 0M639.4 3065.9a9.85 9.85 0 1 0 19.7 0a9.85 9.85 0 1 0 -19.7 0M660.3 3056.2a9.85 9.85 0 1 0 19.7 0a9.85 9.85 0 1 0 -19.7 0M657.7 3051.4a9.85 9.85 0 1 0 19.7 0a9.85 9.85 0 1 0 -19.7 0M2880.1 3058.7a9.85 9.85 0 1 0 19.7 0a9.85 9.85 0 1 0 -19.7 0M2882.9 3059a9.85 9.85 0 1 0 19.7 0a9.85 9.85 0 1 0 -19.7 0M2894.2 3067.9a9.85 9.85 0 1 0 19.7 0a9.85 9.85 0 1 0 -19.7 0M2901 3047.3a9.85 9.85 0 1 0 19.7 0a9.85 9.85 0 1 0 -19.7 0M2904 3065.2a9.85 9.85 0 1 0 19.7 0a9.85 9.85 0 1 0 -19.7 0M2920.7 3064.1a9.85 9.85 0 1 0 19.7 0a9.85 9.85 0 1 0 -19.7 0M2980.4 3056.4a9.85 9.85 0 1 0 19.7 0a9.85 9.85 0 1 0 -19.7 0M2974.8 3067.7a9.85 9.85 0 1 0 19.7 0a9.85 9.85 0 1 0 -19.7 0M2999 3067.3a9.85 9.85 0 1 0 19.7 0a9.85 9.85 0 1 0 -19.7 0M3006.4 3069.6a9.85 9.85 0 1 0 19.7 0a9.85 9.85 0 1 0 -19.7 0M3004.4 3050a9.85 9.85 0 1 0 19.7 0a9.85 9.85 0 1 0 -19.7 0M3008 3062.9a9.85 9.85 0 1 0 19.7 0a9.85 9.85 0 1 0 -19.7 0M3028.8 3080.9a9.85 9.85 0 1 0 19.7 0a9.85 9.85 0 1 0 -19.7 0M3023.4 3057.4a9.85 9.85 0 1 0 19.7 0a9.85 9.85 0 1 0 -19.7 0M3045.6 3053.8a9.85 9.85 0 1 0 19.7 0a9.85 9.85 0 1 0 -19.7 0M3047 3060.5a9.85 9.85 0 1 0 19.7 0a9.85 9.85 0 1 0 -19.7 0" fill="#9467bd"/></g>
<rect x="315" y="2718.5" width="3004.2" height="435.1" fill="none" stroke="#000" stroke-width="4.4"/>
<text x="394" y="3238" text-anchor="middle">2015-12</text>
<text x="736.3" y="3238" text-anchor="middle">2016-06</text>
<text x="1078.5" y="3238" text-anchor="middle">2016-12</text>
<text x="1418.9" y="3238" text-anchor="middle">2017-06</text>
<text x="1761.2" y="3238" text-anchor="middle">2017-12</text>
<text x="2101.6" y="3238" text-anchor="middle">2018-06</text>
<text x="2443.8" y="3238" text-anchor="middle">2018-12</text>
<text x="2784.2" y="3238" text-anchor="middle">2019-06</text>
<text x="3126.5" y="3238" text-anchor="middle">2019-12</text>
<text x="272" y="3121" text-anchor="end">0.000</text>
<text x="272" y="2985" text-anchor="end">0.025</text>
<text x="272" y="2849.1" text-anchor="end">0.050</text>
<text x="314.7" y="2696.9" style="font-size:68px">(e)</text>
<text transform="translate(78.6 2936) rotate(-90)" text-anchor="middle" font-style="italic">δ</text>
<g clip-path="url(#h4)"><path d="M3482.4 2912.8H3487.2V2920.9H3482.4ZM3482.4 2920.6H3487.2V2928H3482.4ZM3482.4 2927.7H3487.2V2935.2H3482.4ZM3482.4 2934.9H3493.7V2942H3482.4ZM3482.4 2941.7H3493.7V2949.1H3482.4ZM3482.4 2948.8H3504.2V2956.3H3482.4ZM3482.4 2956H3508.3V2963.1H3482.4ZM3482.4 2962.8H3517.8V2969.9H3482.4ZM3482.4 2969.6H3530.7V2977H3482.4ZM3482.4 2976.7H3541V2984.2H3482.4ZM3482.4 2983.9H3559V2991.3H3482.4ZM3482.4 2991H3563.1V2998.5H3482.4ZM3482.4 2998.2H3587.9V3005.9H3482.4ZM3482.4 3005.6H3613.1V3012.7H3482.4ZM3482.4 3012.4H3635.2V3019.5H3482.4ZM3482.4 3019.2H3675V3027H3482.4ZM3482.4 3026.7H3727.3V3033.8H3482.4ZM3482.4 3033.5H3762V3041.3H3482.4ZM3482.4 3041H3806.9V3048.1H3482.4ZM3482.4 3047.8H3860V3054.9H3482.4ZM3482.4 3054.6H3916.1V3062.4H3482.4ZM3482.4 3062.1H3966.8V3069.2H3482.4ZM3482.4 3068.9H3983.8V3076H3482.4ZM3482.4 3075.7H4056.6V3083.5H3482.4ZM3482.4 3083.2H4080.7V3090.3H3482.4ZM3482.4 3090H4007.6V3097.4H3482.4ZM3482.4 3097.1H3765.4V3104.2H3482.4ZM3482.4 3103.9H3609.7V3111.4H3482.4ZM3482.4 3111.1H3546.4V3118.5H3482.4ZM3482.4 3118.2H3531.4V3125.7H3482.4ZM3482.4 3125.4H3518.5V3132.8H3482.4ZM3482.4 3132.5H3503.5V3140H3482.4ZM3482.4 3139.7H3508.3V3146.8H3482.4ZM3482.4 3146.5H3493.7V3155.6H3482.4Z" fill="#9467bd"/></g>
<path d="M3835.2 2718.5V3153.6M3482.4 3099.2H4110.7M3482.4 2963.2H4110.7M3482.4 2827.3H4110.7" stroke="#b0b0b0" stroke-width="4.4" fill="none"/>
<path d="M3482.4 3153.6v19.4M3835.2 3153.6v19.4M3482.4 3099.2h-19.4M3482.4 2963.2h-19.4M3482.4 2827.3h-19.4" stroke="#000" stroke-width="4.4" fill="none"/>
<rect x="3482.4" y="2718.5" width="628.3" height="435.1" fill="none" stroke="#000" stroke-width="4.4"/>
<text x="3482.4" y="3238" text-anchor="middle">0</text>
<text x="3835.2" y="3238" text-anchor="middle">1000</text>
<text x="3796.5" y="3315.8" text-anchor="middle">N</text>
<path d="M3795.9 2721.6H4061Q4077.9 2721.6 4077.9 2738.5V2860.8Q4077.9 2877.7 4061 2877.7H3795.9Q3779 2877.7 3779 2860.8V2738.5Q3779 2721.6 3795.9 2721.6Z" fill="#f5deb3" fill-opacity="0.5" stroke="#000" stroke-opacity="0.5" stroke-width="5.6"/>
<text x="3797.4" y="2785.7"><tspan font-style="italic">μ</tspan> = 0.007</text>
<text x="3797.4" y="2850.6"><tspan font-style="italic">σ</tspan> = 0.007</text>
<path d="M394 3371.1V3806.2M736.3 3371.1V3806.2M1078.5 3371.1V3806.2M1418.9 3371.1V3806.2M1761.2 3371.1V3806.2M2101.6 3371.1V3806.2M2443.8 3371.1V3806.2M2784.2 3371.1V3806.2M3126.5 3371.1V3806.2M315 3751.8H3319.2M315 3615.8H3319.2M315 3479.9H3319.2" stroke="#b0b0b0" stroke-width="4.4" fill="none"/>
<path d="M394 3806.2v19.4M736.3 3806.2v19.4M1078.5 3806.2v19.4M1418.9 3806.2v19.4M1761.2 3806.2v19.4M2101.6 3806.2v19.4M2443.8 3806.2v19.4M2784.2 3806.2v19.4M3126.5 3806.2v19.4M315 3751.8h-19.4M315 3615.8h-19.4M315 3479.9h-19.4" stroke="#000" stroke-width="4.4" fill="none"/>
<g clip-path="url(#c5)"><path d="M1454.3 3696.2V3744M1459.3 3679.7V3746.8M1461.9 3681.5V3762.7M1463.7 3703.1V3771.6M1469 3721.9V3787.4M1471.3 3682.3V3751.8M1534.2 3669.6V3753.4M1532.9 3719.6V3752.6M1537.3 3690.9V3758.4M1543.6 3700.8V3753.6M1549.4 3704.4V3757.7M1558.3 3742.6V3776.8M1564.2 3660.5V3743.2M1565.9 3681.5V3742.4M1573.6 3678.4V3758.3M1574.8 3679.7V3764.5M1581.7 3694.2V3750.1M1592.1 3680V3756.6M1595.1 3691.7V3742.4M1604.8 3675.7V3738.1M1603.2 3699.3V3745M1609.1 3686.2V3750.4M1620.5 3674.8V3736.5M1626.1 3678.2V3741.7M1648.4 3701.1V3753.4M1658.6 3692.6V3744.1M1670.8 3665V3764M1668.7 3698.5V3750.8M1678.9 3695.9V3750.9M1685.2 3690.8V3753.5M1692.8 3688.4V3740.7M1691.1 3712V3745M1704.3 3698.5V3784.8M1706.3 3679.5V3751.1M1721.3 3693.3V3760.1M1724.6 3687.9V3751.3M1738.5 3693.8V3747.9M1963.1 3709.2V3739.1M1970.7 3695V3746.8M1980.9 3688.4V3755.9M1983.4 3710.2V3772.1M1994.8 3694.2V3729.7M1997.4 3690.9V3743.2M2000.4 3653.6V3699.3M2015.1 3688.5V3753.2M2020.2 3697.5V3746.8M2027.8 3656.1V3742.4M2035.4 3651.1V3737.4M2041.8 3663V3720.4M2046.9 3682.5V3741.4M2058.3 3662V3741.7M2063.4 3680.3V3764M2067.2 3648.5V3775.4M2069.7 3683.3V3750.8M2079.8 3717.1V3757.7M2088.2 3658.7V3747.5M2091.3 3685.3V3758.9M2093.3 3694.2V3770.4M2101.4 3688.9V3760.5M2109 3689.5V3754.7M2113.6 3690.9V3728M2115.4 3696V3758.4M2121.7 3703.4V3756.1M2145.8 3698V3761.5M2149.6 3720.9V3769.1M2153.5 3694.2V3745M2161.1 3675.7V3730.5M2162.3 3710.2V3741.7M2168.2 3681V3730.3M2173.8 3718.6V3766.3M2198.4 3720V3744.6M2211.1 3698.5V3783.8M2220.2 3683.6V3750.6M2225.8 3701.1V3753.4M2227.8 3730.5V3772.1M2237.2 3696V3738.1M2241 3711.2V3753.4M2251.2 3713.6V3766.2M2266.4 3695V3759.4M2279.1 3690.9V3738.1M2282.9 3693.5V3766M2290 3674.4V3710.5M2304.5 3706.9V3752.6M2323.5 3710.7V3758.9M2331.1 3706.1V3768.6M2347.9 3711.7V3765.5M2363.1 3717.4V3781.6M2375.8 3715.8V3748.8M2387.3 3705.3V3756.8M2392.8 3712.6V3746.9M2411.4 3710.2V3749.3M2415.2 3720.1V3767.3M2417.7 3711.2V3753.4M2426.6 3716.4V3753.2M2438 3721.2V3756M2446.9 3715.4V3751.7M2465.4 3721.4V3758.4M2478.6 3722.1V3757.7M2501.5 3725.3V3759.6M2507.8 3717.7V3752M2532.7 3729.2V3753.1M2551.7 3706.9V3756.6M2557.3 3735.2V3777.6M2577.6 3723.9V3761M2591.6 3710.7V3766.5M2602.5 3704.4V3760.2M2609.8 3705.3V3754.2M2617 3696V3739.6M2639.8 3701.8V3742.4M2644.9 3689.6V3754.6M2651.2 3696.2V3755.6M2655 3711.2V3743.2M2663.9 3703.4V3756.1M2669.7 3682V3759.7M2679.1 3706.1V3743.2M2684.7 3725.4V3762M2691.8 3692.9V3722.4M2705.3 3700.8V3758.7M2719.7 3695.5V3741.2M2724.1 3703.6V3755.9M2731.7 3699.3V3750.1M2735 3722.1V3750.1M2751.5 3699.5V3759.9M2762.9 3683.6V3740.4M2769.2 3682.9V3771.5M2771.8 3687.6V3761.7M2784 3695.5V3761.5M2795.1 3672.6V3731M2798.4 3692.7V3769.3M2804.8 3695V3751.8M2814.9 3721.1V3758.7M2827.9 3698.4V3761.1M2831.7 3681.5V3762.7M2838.1 3702.5V3772.3M2841.9 3661.2V3723.1M2844.4 3703.6V3761M2853.3 3714.9V3780.1M2858.9 3689.1V3755.1M2864.2 3675.7V3748.3M2862.2 3704.4V3765.3M2866.8 3705.3V3759.3M2871.8 3696.8V3747.5M2877.4 3715.3V3764.5M2888.3 3699.3V3760.2M2894.4 3708.2V3751.3M2898.5 3704.4V3750.1M2901.5 3699.3V3750.1M2905.3 3701.8V3742.4M2909.1 3687.9V3746.2M2912.9 3698.5V3745.7M2920.6 3701.8V3762.7M2923.6 3727.2V3772.9M2937.1 3722.9V3762M2939.1 3677.2V3735.1M2943.4 3640.2V3738.1M2946.4 3730.1V3772.5M2961.7 3724.3V3770.7M2987.8 3723.9V3753.4M2991.6 3686.6V3737.4M3000.5 3698.9V3765.7M3003 3698.5V3740.7M3015.7 3714.1V3750.4M3021.6 3710.7V3756.4M3040.6 3713.6V3740.8M3068.5 3723.7V3751.1M3079.2 3729.7V3755.1M3085 3724.9V3779.2M3096.4 3654.4V3735.6M1554.3 3702.7V3745.4M1551 3702.3V3758.2M1579.9 3699.4V3743M1612.7 3680V3758.5M1630.7 3682.1V3746.1M1664.9 3688.2V3759.2M1688.1 3680.4V3759.1M1701.6 3700.9V3747.2M1696 3707.4V3741.4M1728.5 3694.1V3754.6M1977.5 3667.2V3759.2M1989.5 3685.6V3762.6M1996.1 3718.8V3761M2014 3691.3V3728.6M2035.8 3694.4V3749.7M2036.1 3688.6V3736.7M2056.1 3701V3773.6M2067.6 3695.3V3766.1M2074.7 3687.3V3759.6M2082.9 3682V3767.4M2112.6 3708.2V3766.1M2106 3666.4V3750.9M2156.2 3692.6V3749.9M2163.7 3712.7V3796.9M2208 3690.8V3746.3M2228.7 3713.1V3757.7M2265.5 3721.7V3755.5M2278.5 3689.4V3742.9M2291.4 3699.1V3743.3M2304.3 3702.7V3751.3M2322 3698.7V3759M2337.5 3706.5V3754.5M2340.3 3718.1V3743.4M2355 3705V3742.4M2370.2 3705.2V3746.8M2397.4 3713.2V3755.1M2408.1 3718.8V3757M2417.6 3725.3V3747.3M2444.6 3733V3759.3M2450.4 3718.7V3743.8M2466.3 3709.9V3741.7M2492.6 3718.9V3750.5M2503.6 3727.6V3751.1M2529.7 3727V3757.7M2568.7 3701.7V3771.2M2593.2 3695.7V3746.7M2613.3 3703.2V3744.6M2605.3 3705.7V3751.7M2641.9 3703.7V3746.6M2654.5 3705.2V3757.6M2667.5 3684.7V3740.5M2679.6 3707V3747.6M2697.7 3708.2V3767M2712.4 3726.7V3757.2M2712.2 3712.4V3735.3M2716.1 3725.8V3762.4M2737 3714V3745.9M2745 3706.4V3749.3M2771.9 3711.4V3757.9M2788.3 3709.8V3773.2M2782.6 3714V3758.8M2812.8 3706.9V3756.4M2820 3705.5V3739.3M2820.3 3701.8V3763.4M2827.2 3715.6V3765.4M2866.8 3708.1V3747.8M2854.6 3707.1V3751.7M2881.6 3695.5V3749.6M2881.1 3707.8V3765.4M2893.2 3701.4V3751M2913.8 3702.5V3766.6M2982 3709.2V3751.8M3005.4 3720.4V3750.3M3007.4 3706.6V3749" stroke="#7e4235" stroke-width="2.8" fill="none"/>
<path d="M1444.4 3720.1a9.85 9.85 0 1 0 19.7 0a9.85 9.85 0 1 0 -19.7 0M1449.5 3713.2a9.85 9.85 0 1 0 19.7 0a9.85 9.85 0 1 0 -19.7 0M1452 3722.1a9.85 9.85 0 1 0 19.7 0a9.85 9.85 0 1 0 -19.7 0M1453.8 3737.4a9.85 9.85 0 1 0 19.7 0a9.85 9.85 0 1 0 -19.7 0M1459.1 3754.6a9.85 9.85 0 1 0 19.7 0a9.85 9.85 0 1 0 -19.7 0M1461.4 3717.1a9.85 9.85 0 1 0 19.7 0a9.85 9.85 0 1 0 -19.7 0M1462.2 3739.4a9.85 9.85 0 1 0 19.7 0a9.85 9.85 0 1 0 -19.7 0M1524.4 3711.5a9.85 9.85 0 1 0 19.7 0a9.85 9.85 0 1 0 -19.7 0M1523.1 3736.1a9.85 9.85 0 1 0 19.7 0a9.85 9.85 0 1 0 -19.7 0M1527.4 3724.7a9.85 9.85 0 1 0 19.7 0a9.85 9.85 0 1 0 -19.7 0M1533.8 3727.2a9.85 9.85 0 1 0 19.7 0a9.85 9.85 0 1 0 -19.7 0M1539.6 3731a9.85 9.85 0 1 0 19.7 0a9.85 9.85 0 1 0 -19.7 0M1548.5 3759.7a9.85 9.85 0 1 0 19.7 0a9.85 9.85 0 1 0 -19.7 0M1551 3729.7a9.85 9.85 0 1 0 19.7 0a9.85 9.85 0 1 0 -19.7 0M1554.3 3701.8a9.85 9.85 0 1 0 19.7 0a9.85 9.85 0 1 0 -19.7 0M1556.1 3712a9.85 9.85 0 1 0 19.7 0a9.85 9.85 0 1 0 -19.7 0M1563.7 3718.3a9.85 9.85 0 1 0 19.7 0a9.85 9.85 0 1 0 -19.7 0M1565 3722.1a9.85 9.85 0 1 0 19.7 0a9.85 9.85 0 1 0 -19.7 0M1571.8 3722.1a9.85 9.85 0 1 0 19.7 0a9.85 9.85 0 1 0 -19.7 0M1582.2 3718.3a9.85 9.85 0 1 0 19.7 0a9.85 9.85 0 1 0 -19.7 0M1585.3 3717.1a9.85 9.85 0 1 0 19.7 0a9.85 9.85 0 1 0 -19.7 0M1594.9 3706.9a9.85 9.85 0 1 0 19.7 0a9.85 9.85 0 1 0 -19.7 0M1593.4 3722.1a9.85 9.85 0 1 0 19.7 0a9.85 9.85 0 1 0 -19.7 0M1599.2 3718.3a9.85 9.85 0 1 0 19.7 0a9.85 9.85 0 1 0 -19.7 0M1610.7 3705.6a9.85 9.85 0 1 0 19.7 0a9.85 9.85 0 1 0 -19.7 0M1616.2 3709.9a9.85 9.85 0 1 0 19.7 0a9.85 9.85 0 1 0 -19.7 0M1638.6 3727.2a9.85 9.85 0 1 0 19.7 0a9.85 9.85 0 1 0 -19.7 0M1648.7 3718.3a9.85 9.85 0 1 0 19.7 0a9.85 9.85 0 1 0 -19.7 0M1653.8 3722.1a9.85 9.85 0 1 0 19.7 0a9.85 9.85 0 1 0 -19.7 0M1660.9 3714.5a9.85 9.85 0 1 0 19.7 0a9.85 9.85 0 1 0 -19.7 0M1658.9 3724.7a9.85 9.85 0 1 0 19.7 0a9.85 9.85 0 1 0 -19.7 0M1669 3723.4a9.85 9.85 0 1 0 19.7 0a9.85 9.85 0 1 0 -19.7 0M1675.4 3722.1a9.85 9.85 0 1 0 19.7 0a9.85 9.85 0 1 0 -19.7 0M1683 3714.5a9.85 9.85 0 1 0 19.7 0a9.85 9.85 0 1 0 -19.7 0M1681.2 3728.5a9.85 9.85 0 1 0 19.7 0a9.85 9.85 0 1 0 -19.7 0M1694.4 3741.7a9.85 9.85 0 1 0 19.7 0a9.85 9.85 0 1 0 -19.7 0M1696.4 3715.3a9.85 9.85 0 1 0 19.7 0a9.85 9.85 0 1 0 -19.7 0M1711.4 3726.7a9.85 9.85 0 1 0 19.7 0a9.85 9.85 0 1 0 -19.7 0M1714.7 3719.6a9.85 9.85 0 1 0 19.7 0a9.85 9.85 0 1 0 -19.7 0M1728.7 3720.9a9.85 9.85 0 1 0 19.7 0a9.85 9.85 0 1 0 -19.7 0M1953.2 3724.2a9.85 9.85 0 1 0 19.7 0a9.85 9.85 0 1 0 -19.7 0M1960.9 3720.9a9.85 9.85 0 1 0 19.7 0a9.85 9.85 0 1 0 -19.7 0M1962.1 3680.3a9.85 9.85 0 1 0 19.7 0a9.85 9.85 0 1 0 -19.7 0M1971 3722.1a9.85 9.85 0 1 0 19.7 0a9.85 9.85 0 1 0 -19.7 0M1973.6 3741.2a9.85 9.85 0 1 0 19.7 0a9.85 9.85 0 1 0 -19.7 0M1981.2 3732.3a9.85 9.85 0 1 0 19.7 0a9.85 9.85 0 1 0 -19.7 0M1985 3712a9.85 9.85 0 1 0 19.7 0a9.85 9.85 0 1 0 -19.7 0M1987.5 3717.1a9.85 9.85 0 1 0 19.7 0a9.85 9.85 0 1 0 -19.7 0M1990.6 3676.4a9.85 9.85 0 1 0 19.7 0a9.85 9.85 0 1 0 -19.7 0M1995.9 3698a9.85 9.85 0 1 0 19.7 0a9.85 9.85 0 1 0 -19.7 0M2005.3 3720.9a9.85 9.85 0 1 0 19.7 0a9.85 9.85 0 1 0 -19.7 0M2010.4 3722.1a9.85 9.85 0 1 0 19.7 0a9.85 9.85 0 1 0 -19.7 0M2014.9 3677.7a9.85 9.85 0 1 0 19.7 0a9.85 9.85 0 1 0 -19.7 0M2018 3699.3a9.85 9.85 0 1 0 19.7 0a9.85 9.85 0 1 0 -19.7 0M2025.6 3694.2a9.85 9.85 0 1 0 19.7 0a9.85 9.85 0 1 0 -19.7 0M2031.9 3691.7a9.85 9.85 0 1 0 19.7 0a9.85 9.85 0 1 0 -19.7 0M2037 3712a9.85 9.85 0 1 0 19.7 0a9.85 9.85 0 1 0 -19.7 0M2040.8 3727.2a9.85 9.85 0 1 0 19.7 0a9.85 9.85 0 1 0 -19.7 0M2048.4 3701.8a9.85 9.85 0 1 0 19.7 0a9.85 9.85 0 1 0 -19.7 0M2053.5 3722.1a9.85 9.85 0 1 0 19.7 0a9.85 9.85 0 1 0 -19.7 0M2057.3 3712a9.85 9.85 0 1 0 19.7 0a9.85 9.85 0 1 0 -19.7 0M2059.8 3717.1a9.85 9.85 0 1 0 19.7 0a9.85 9.85 0 1 0 -19.7 0M2070 3737.4a9.85 9.85 0 1 0 19.7 0a9.85 9.85 0 1 0 -19.7 0M2078.4 3703.1a9.85 9.85 0 1 0 19.7 0a9.85 9.85 0 1 0 -19.7 0M2081.4 3722.1a9.85 9.85 0 1 0 19.7 0a9.85 9.85 0 1 0 -19.7 0M2083.4 3732.3a9.85 9.85 0 1 0 19.7 0a9.85 9.85 0 1 0 -19.7 0M2091.6 3724.7a9.85 9.85 0 1 0 19.7 0a9.85 9.85 0 1 0 -19.7 0M2099.2 3722.1a9.85 9.85 0 1 0 19.7 0a9.85 9.85 0 1 0 -19.7 0M2103.8 3709.4a9.85 9.85 0 1 0 19.7 0a9.85 9.85 0 1 0 -19.7 0M2105.5 3727.2a9.85 9.85 0 1 0 19.7 0a9.85 9.85 0 1 0 -19.7 0M2111.9 3729.7a9.85 9.85 0 1 0 19.7 0a9.85 9.85 0 1 0 -19.7 0M2136 3729.7a9.85 9.85 0 1 0 19.7 0a9.85 9.85 0 1 0 -19.7 0M2139.8 3745a9.85 9.85 0 1 0 19.7 0a9.85 9.85 0 1 0 -19.7 0M2143.6 3719.6a9.85 9.85 0 1 0 19.7 0a9.85 9.85 0 1 0 -19.7 0M2151.2 3703.1a9.85 9.85 0 1 0 19.7 0a9.85 9.85 0 1 0 -19.7 0M2152.5 3725.9a9.85 9.85 0 1 0 19.7 0a9.85 9.85 0 1 0 -19.7 0M2158.3 3705.6a9.85 9.85 0 1 0 19.7 0a9.85 9.85 0 1 0 -19.7 0M2163.9 3742.4a9.85 9.85 0 1 0 19.7 0a9.85 9.85 0 1 0 -19.7 0M2188.5 3732.3a9.85 9.85 0 1 0 19.7 0a9.85 9.85 0 1 0 -19.7 0M2201.2 3741.2a9.85 9.85 0 1 0 19.7 0a9.85 9.85 0 1 0 -19.7 0M2210.4 3717.1a9.85 9.85 0 1 0 19.7 0a9.85 9.85 0 1 0 -19.7 0M2215.9 3727.2a9.85 9.85 0 1 0 19.7 0a9.85 9.85 0 1 0 -19.7 0M2218 3751.3a9.85 9.85 0 1 0 19.7 0a9.85 9.85 0 1 0 -19.7 0M2227.4 3717.1a9.85 9.85 0 1 0 19.7 0a9.85 9.85 0 1 0 -19.7 0M2231.2 3732.3a9.85 9.85 0 1 0 19.7 0a9.85 9.85 0 1 0 -19.7 0M2241.3 3739.9a9.85 9.85 0 1 0 19.7 0a9.85 9.85 0 1 0 -19.7 0M2256.5 3727.2a9.85 9.85 0 1 0 19.7 0a9.85 9.85 0 1 0 -19.7 0M2269.2 3714.5a9.85 9.85 0 1 0 19.7 0a9.85 9.85 0 1 0 -19.7 0M2273 3729.7a9.85 9.85 0 1 0 19.7 0a9.85 9.85 0 1 0 -19.7 0M2280.2 3692.4a9.85 9.85 0 1 0 19.7 0a9.85 9.85 0 1 0 -19.7 0M2294.6 3729.7a9.85 9.85 0 1 0 19.7 0a9.85 9.85 0 1 0 -19.7 0M2313.7 3734.8a9.85 9.85 0 1 0 19.7 0a9.85 9.85 0 1 0 -19.7 0M2321.3 3737.4a9.85 9.85 0 1 0 19.7 0a9.85 9.85 0 1 0 -19.7 0M2325.1 3737.4a9.85 9.85 0 1 0 19.7 0a9.85 9.85 0 1 0 -19.7 0M2338.1 3738.6a9.85 9.85 0 1 0 19.7 0a9.85 9.85 0 1 0 -19.7 0M2353.3 3749.5a9.85 9.85 0 1 0 19.7 0a9.85 9.85 0 1 0 -19.7 0M2366 3732.3a9.85 9.85 0 1 0 19.7 0a9.85 9.85 0 1 0 -19.7 0M2364.7 3738.6a9.85 9.85 0 1 0 19.7 0a9.85 9.85 0 1 0 -19.7 0M2377.4 3731a9.85 9.85 0 1 0 19.7 0a9.85 9.85 0 1 0 -19.7 0M2383 3729.7a9.85 9.85 0 1 0 19.7 0a9.85 9.85 0 1 0 -19.7 0M2401.5 3729.7a9.85 9.85 0 1 0 19.7 0a9.85 9.85 0 1 0 -19.7 0M2405.3 3743.7a9.85 9.85 0 1 0 19.7 0a9.85 9.85 0 1 0 -19.7 0M2407.9 3732.3a9.85 9.85 0 1 0 19.7 0a9.85 9.85 0 1 0 -19.7 0M2416.7 3734.8a9.85 9.85 0 1 0 19.7 0a9.85 9.85 0 1 0 -19.7 0M2428.2 3738.6a9.85 9.85 0 1 0 19.7 0a9.85 9.85 0 1 0 -19.7 0M2437.1 3733.6a9.85 9.85 0 1 0 19.7 0a9.85 9.85 0 1 0 -19.7 0M2442.1 3732.3a9.85 9.85 0 1 0 19.7 0a9.85 9.85 0 1 0 -19.7 0M2455.6 3739.9a9.85 9.85 0 1 0 19.7 0a9.85 9.85 0 1 0 -19.7 0M2463.7 3728.5a9.85 9.85 0 1 0 19.7 0a9.85 9.85 0 1 0 -19.7 0M2468.8 3739.9a9.85 9.85 0 1 0 19.7 0a9.85 9.85 0 1 0 -19.7 0M2491.6 3742.4a9.85 9.85 0 1 0 19.7 0a9.85 9.85 0 1 0 -19.7 0M2498 3734.8a9.85 9.85 0 1 0 19.7 0a9.85 9.85 0 1 0 -19.7 0M2511.9 3738.6a9.85 9.85 0 1 0 19.7 0a9.85 9.85 0 1 0 -19.7 0M2522.8 3741.2a9.85 9.85 0 1 0 19.7 0a9.85 9.85 0 1 0 -19.7 0M2541.9 3731.8a9.85 9.85 0 1 0 19.7 0a9.85 9.85 0 1 0 -19.7 0M2547.5 3756.4a9.85 9.85 0 1 0 19.7 0a9.85 9.85 0 1 0 -19.7 0M2564.7 3725.9a9.85 9.85 0 1 0 19.7 0a9.85 9.85 0 1 0 -19.7 0M2567.8 3742.4a9.85 9.85 0 1 0 19.7 0a9.85 9.85 0 1 0 -19.7 0M2581.7 3738.6a9.85 9.85 0 1 0 19.7 0a9.85 9.85 0 1 0 -19.7 0M2583 3723.4a9.85 9.85 0 1 0 19.7 0a9.85 9.85 0 1 0 -19.7 0M2592.6 3732.3a9.85 9.85 0 1 0 19.7 0a9.85 9.85 0 1 0 -19.7 0M2600 3729.7a9.85 9.85 0 1 0 19.7 0a9.85 9.85 0 1 0 -19.7 0M2607.1 3717.8a9.85 9.85 0 1 0 19.7 0a9.85 9.85 0 1 0 -19.7 0M2626.1 3729.7a9.85 9.85 0 1 0 19.7 0a9.85 9.85 0 1 0 -19.7 0M2629.9 3722.1a9.85 9.85 0 1 0 19.7 0a9.85 9.85 0 1 0 -19.7 0M2635 3722.1a9.85 9.85 0 1 0 19.7 0a9.85 9.85 0 1 0 -19.7 0M2641.4 3725.9a9.85 9.85 0 1 0 19.7 0a9.85 9.85 0 1 0 -19.7 0M2645.2 3727.2a9.85 9.85 0 1 0 19.7 0a9.85 9.85 0 1 0 -19.7 0M2654.1 3729.7a9.85 9.85 0 1 0 19.7 0a9.85 9.85 0 1 0 -19.7 0M2659.9 3720.9a9.85 9.85 0 1 0 19.7 0a9.85 9.85 0 1 0 -19.7 0M2669.3 3724.7a9.85 9.85 0 1 0 19.7 0a9.85 9.85 0 1 0 -19.7 0M2674.9 3743.7a9.85 9.85 0 1 0 19.7 0a9.85 9.85 0 1 0 -19.7 0M2682 3707.7a9.85 9.85 0 1 0 19.7 0a9.85 9.85 0 1 0 -19.7 0M2695.4 3729.7a9.85 9.85 0 1 0 19.7 0a9.85 9.85 0 1 0 -19.7 0M2709.9 3718.3a9.85 9.85 0 1 0 19.7 0a9.85 9.85 0 1 0 -19.7 0M2714.2 3729.7a9.85 9.85 0 1 0 19.7 0a9.85 9.85 0 1 0 -19.7 0M2721.8 3724.7a9.85 9.85 0 1 0 19.7 0a9.85 9.85 0 1 0 -19.7 0M2725.1 3736.1a9.85 9.85 0 1 0 19.7 0a9.85 9.85 0 1 0 -19.7 0M2741.6 3729.7a9.85 9.85 0 1 0 19.7 0a9.85 9.85 0 1 0 -19.7 0M2746.7 3727.2a9.85 9.85 0 1 0 19.7 0a9.85 9.85 0 1 0 -19.7 0M2753 3712a9.85 9.85 0 1 0 19.7 0a9.85 9.85 0 1 0 -19.7 0M2759.4 3727.2a9.85 9.85 0 1 0 19.7 0a9.85 9.85 0 1 0 -19.7 0M2761.9 3724.7a9.85 9.85 0 1 0 19.7 0a9.85 9.85 0 1 0 -19.7 0M2774.1 3728.5a9.85 9.85 0 1 0 19.7 0a9.85 9.85 0 1 0 -19.7 0M2785.3 3701.8a9.85 9.85 0 1 0 19.7 0a9.85 9.85 0 1 0 -19.7 0M2788.6 3731a9.85 9.85 0 1 0 19.7 0a9.85 9.85 0 1 0 -19.7 0M2794.9 3723.4a9.85 9.85 0 1 0 19.7 0a9.85 9.85 0 1 0 -19.7 0M2805.1 3739.9a9.85 9.85 0 1 0 19.7 0a9.85 9.85 0 1 0 -19.7 0M2818.1 3729.7a9.85 9.85 0 1 0 19.7 0a9.85 9.85 0 1 0 -19.7 0M2821.9 3722.1a9.85 9.85 0 1 0 19.7 0a9.85 9.85 0 1 0 -19.7 0M2828.2 3737.4a9.85 9.85 0 1 0 19.7 0a9.85 9.85 0 1 0 -19.7 0M2832 3692.2a9.85 9.85 0 1 0 19.7 0a9.85 9.85 0 1 0 -19.7 0M2834.6 3732.3a9.85 9.85 0 1 0 19.7 0a9.85 9.85 0 1 0 -19.7 0M2843.4 3747.5a9.85 9.85 0 1 0 19.7 0a9.85 9.85 0 1 0 -19.7 0M2849 3722.1a9.85 9.85 0 1 0 19.7 0a9.85 9.85 0 1 0 -19.7 0M2854.4 3712a9.85 9.85 0 1 0 19.7 0a9.85 9.85 0 1 0 -19.7 0M2852.3 3734.8a9.85 9.85 0 1 0 19.7 0a9.85 9.85 0 1 0 -19.7 0M2856.9 3732.3a9.85 9.85 0 1 0 19.7 0a9.85 9.85 0 1 0 -19.7 0M2862 3722.1a9.85 9.85 0 1 0 19.7 0a9.85 9.85 0 1 0 -19.7 0M2867.6 3739.9a9.85 9.85 0 1 0 19.7 0a9.85 9.85 0 1 0 -19.7 0M2878.5 3729.7a9.85 9.85 0 1 0 19.7 0a9.85 9.85 0 1 0 -19.7 0M2884.6 3729.7a9.85 9.85 0 1 0 19.7 0a9.85 9.85 0 1 0 -19.7 0M2888.6 3727.2a9.85 9.85 0 1 0 19.7 0a9.85 9.85 0 1 0 -19.7 0M2891.7 3724.7a9.85 9.85 0 1 0 19.7 0a9.85 9.85 0 1 0 -19.7 0M2895.5 3722.1a9.85 9.85 0 1 0 19.7 0a9.85 9.85 0 1 0 -19.7 0M2899.3 3717.1a9.85 9.85 0 1 0 19.7 0a9.85 9.85 0 1 0 -19.7 0M2903.1 3722.1a9.85 9.85 0 1 0 19.7 0a9.85 9.85 0 1 0 -19.7 0M2910.7 3732.3a9.85 9.85 0 1 0 19.7 0a9.85 9.85 0 1 0 -19.7 0M2913.8 3750.1a9.85 9.85 0 1 0 19.7 0a9.85 9.85 0 1 0 -19.7 0M2926.7 3720.9a9.85 9.85 0 1 0 19.7 0a9.85 9.85 0 1 0 -19.7 0M2927.2 3742.4a9.85 9.85 0 1 0 19.7 0a9.85 9.85 0 1 0 -19.7 0M2929.2 3706.1a9.85 9.85 0 1 0 19.7 0a9.85 9.85 0 1 0 -19.7 0M2933.6 3689.1a9.85 9.85 0 1 0 19.7 0a9.85 9.85 0 1 0 -19.7 0M2936.6 3751.3a9.85 9.85 0 1 0 19.7 0a9.85 9.85 0 1 0 -19.7 0M2951.8 3747.5a9.85 9.85 0 1 0 19.7 0a9.85 9.85 0 1 0 -19.7 0M2972.9 3725.4a9.85 9.85 0 1 0 19.7 0a9.85 9.85 0 1 0 -19.7 0M2978 3738.6a9.85 9.85 0 1 0 19.7 0a9.85 9.85 0 1 0 -19.7 0M2981.8 3712a9.85 9.85 0 1 0 19.7 0a9.85 9.85 0 1 0 -19.7 0M2990.7 3732.3a9.85 9.85 0 1 0 19.7 0a9.85 9.85 0 1 0 -19.7 0M2993.2 3719.6a9.85 9.85 0 1 0 19.7 0a9.85 9.85 0 1 0 -19.7 0M3005.9 3732.3a9.85 9.85 0 1 0 19.7 0a9.85 9.85 0 1 0 -19.7 0M3011.7 3733.6a9.85 9.85 0 1 0 19.7 0a9.85 9.85 0 1 0 -19.7 0M3030.8 3727.2a9.85 9.85 0 1 0 19.7 0a9.85 9.85 0 1 0 -19.7 0M3058.7 3737.4a9.85 9.85 0 1 0 19.7 0a9.85 9.85 0 1 0 -19.7 0M3069.3 3742.4a9.85 9.85 0 1 0 19.7 0a9.85 9.85 0 1 0 -19.7 0M3075.2 3752.1a9.85 9.85 0 1 0 19.7 0a9.85 9.85 0 1 0 -19.7 0M3079.5 3737.4a9.85 9.85 0 1 0 19.7 0a9.85 9.85 0 1 0 -19.7 0M3081.3 3719.6a9.85 9.85 0 1 0 19.7 0a9.85 9.85 0 1 0 -19.7 0M3086.6 3695a9.85 9.85 0 1 0 19.7 0a9.85 9.85 0 1 0 -19.7 0M1544.5 3724.1a9.85 9.85 0 1 0 19.7 0a9.85 9.85 0 1 0 -19.7 0M1541.1 3730.2a9.85 9.85 0 1 0 19.7 0a9.85 9.85 0 1 0 -19.7 0M1570 3721.2a9.85 9.85 0 1 0 19.7 0a9.85 9.85 0 1 0 -19.7 0M1602.9 3719.2a9.85 9.85 0 1 0 19.7 0a9.85 9.85 0 1 0 -19.7 0M1620.8 3714.1a9.85 9.85 0 1 0 19.7 0a9.85 9.85 0 1 0 -19.7 0M1655 3723.7a9.85 9.85 0 1 0 19.7 0a9.85 9.85 0 1 0 -19.7 0M1678.3 3719.7a9.85 9.85 0 1 0 19.7 0a9.85 9.85 0 1 0 -19.7 0M1691.7 3724.1a9.85 9.85 0 1 0 19.7 0a9.85 9.85 0 1 0 -19.7 0M1686.2 3724.4a9.85 9.85 0 1 0 19.7 0a9.85 9.85 0 1 0 -19.7 0M1718.6 3724.4a9.85 9.85 0 1 0 19.7 0a9.85 9.85 0 1 0 -19.7 0M1967.7 3713.2a9.85 9.85 0 1 0 19.7 0a9.85 9.85 0 1 0 -19.7 0M1979.6 3724.1a9.85 9.85 0 1 0 19.7 0a9.85 9.85 0 1 0 -19.7 0M1986.3 3739.9a9.85 9.85 0 1 0 19.7 0a9.85 9.85 0 1 0 -19.7 0M2004.1 3709.9a9.85 9.85 0 1 0 19.7 0a9.85 9.85 0 1 0 -19.7 0M2026 3722a9.85 9.85 0 1 0 19.7 0a9.85 9.85 0 1 0 -19.7 0M2026.3 3712.7a9.85 9.85 0 1 0 19.7 0a9.85 9.85 0 1 0 -19.7 0M2046.3 3737.3a9.85 9.85 0 1 0 19.7 0a9.85 9.85 0 1 0 -19.7 0M2057.7 3730.7a9.85 9.85 0 1 0 19.7 0a9.85 9.85 0 1 0 -19.7 0M2064.8 3723.5a9.85 9.85 0 1 0 19.7 0a9.85 9.85 0 1 0 -19.7 0M2073 3724.7a9.85 9.85 0 1 0 19.7 0a9.85 9.85 0 1 0 -19.7 0M2102.8 3737.2a9.85 9.85 0 1 0 19.7 0a9.85 9.85 0 1 0 -19.7 0M2096.1 3708.6a9.85 9.85 0 1 0 19.7 0a9.85 9.85 0 1 0 -19.7 0M2146.4 3721.3a9.85 9.85 0 1 0 19.7 0a9.85 9.85 0 1 0 -19.7 0M2153.8 3754.8a9.85 9.85 0 1 0 19.7 0a9.85 9.85 0 1 0 -19.7 0M2198.2 3718.6a9.85 9.85 0 1 0 19.7 0a9.85 9.85 0 1 0 -19.7 0M2218.8 3735.4a9.85 9.85 0 1 0 19.7 0a9.85 9.85 0 1 0 -19.7 0M2255.7 3738.6a9.85 9.85 0 1 0 19.7 0a9.85 9.85 0 1 0 -19.7 0M2268.7 3716.2a9.85 9.85 0 1 0 19.7 0a9.85 9.85 0 1 0 -19.7 0M2281.5 3721.2a9.85 9.85 0 1 0 19.7 0a9.85 9.85 0 1 0 -19.7 0M2294.5 3727a9.85 9.85 0 1 0 19.7 0a9.85 9.85 0 1 0 -19.7 0M2312.1 3728.9a9.85 9.85 0 1 0 19.7 0a9.85 9.85 0 1 0 -19.7 0M2327.6 3730.5a9.85 9.85 0 1 0 19.7 0a9.85 9.85 0 1 0 -19.7 0M2330.5 3730.8a9.85 9.85 0 1 0 19.7 0a9.85 9.85 0 1 0 -19.7 0M2345.1 3723.7a9.85 9.85 0 1 0 19.7 0a9.85 9.85 0 1 0 -19.7 0M2360.3 3726a9.85 9.85 0 1 0 19.7 0a9.85 9.85 0 1 0 -19.7 0M2387.5 3734.2a9.85 9.85 0 1 0 19.7 0a9.85 9.85 0 1 0 -19.7 0M2398.3 3737.9a9.85 9.85 0 1 0 19.7 0a9.85 9.85 0 1 0 -19.7 0M2407.7 3736.3a9.85 9.85 0 1 0 19.7 0a9.85 9.85 0 1 0 -19.7 0M2434.8 3746.1a9.85 9.85 0 1 0 19.7 0a9.85 9.85 0 1 0 -19.7 0M2440.5 3731.3a9.85 9.85 0 1 0 19.7 0a9.85 9.85 0 1 0 -19.7 0M2456.5 3725.8a9.85 9.85 0 1 0 19.7 0a9.85 9.85 0 1 0 -19.7 0M2482.7 3734.7a9.85 9.85 0 1 0 19.7 0a9.85 9.85 0 1 0 -19.7 0M2493.7 3739.3a9.85 9.85 0 1 0 19.7 0a9.85 9.85 0 1 0 -19.7 0M2519.8 3742.3a9.85 9.85 0 1 0 19.7 0a9.85 9.85 0 1 0 -19.7 0M2521.3 3744.2a9.85 9.85 0 1 0 19.7 0a9.85 9.85 0 1 0 -19.7 0M2558.9 3736.4a9.85 9.85 0 1 0 19.7 0a9.85 9.85 0 1 0 -19.7 0M2583.3 3721.2a9.85 9.85 0 1 0 19.7 0a9.85 9.85 0 1 0 -19.7 0M2603.4 3723.9a9.85 9.85 0 1 0 19.7 0a9.85 9.85 0 1 0 -19.7 0M2595.5 3728.7a9.85 9.85 0 1 0 19.7 0a9.85 9.85 0 1 0 -19.7 0M2632.1 3725.1a9.85 9.85 0 1 0 19.7 0a9.85 9.85 0 1 0 -19.7 0M2644.6 3731.4a9.85 9.85 0 1 0 19.7 0a9.85 9.85 0 1 0 -19.7 0M2657.6 3712.6a9.85 9.85 0 1 0 19.7 0a9.85 9.85 0 1 0 -19.7 0M2669.7 3727.3a9.85 9.85 0 1 0 19.7 0a9.85 9.85 0 1 0 -19.7 0M2687.8 3737.6a9.85 9.85 0 1 0 19.7 0a9.85 9.85 0 1 0 -19.7 0M2702.5 3742a9.85 9.85 0 1 0 19.7 0a9.85 9.85 0 1 0 -19.7 0M2702.4 3723.8a9.85 9.85 0 1 0 19.7 0a9.85 9.85 0 1 0 -19.7 0M2706.2 3744.1a9.85 9.85 0 1 0 19.7 0a9.85 9.85 0 1 0 -19.7 0M2727.1 3730a9.85 9.85 0 1 0 19.7 0a9.85 9.85 0 1 0 -19.7 0M2735.1 3727.8a9.85 9.85 0 1 0 19.7 0a9.85 9.85 0 1 0 -19.7 0M2762.1 3734.7a9.85 9.85 0 1 0 19.7 0a9.85 9.85 0 1 0 -19.7 0M2778.4 3741.5a9.85 9.85 0 1 0 19.7 0a9.85 9.85 0 1 0 -19.7 0M2772.8 3736.4a9.85 9.85 0 1 0 19.7 0a9.85 9.85 0 1 0 -19.7 0M2803 3731.6a9.85 9.85 0 1 0 19.7 0a9.85 9.85 0 1 0 -19.7 0M2810.2 3722.4a9.85 9.85 0 1 0 19.7 0a9.85 9.85 0 1 0 -19.7 0M2810.5 3732.6a9.85 9.85 0 1 0 19.7 0a9.85 9.85 0 1 0 -19.7 0M2817.3 3740.5a9.85 9.85 0 1 0 19.7 0a9.85 9.85 0 1 0 -19.7 0M2857 3728a9.85 9.85 0 1 0 19.7 0a9.85 9.85 0 1 0 -19.7 0M2844.7 3729.4a9.85 9.85 0 1 0 19.7 0a9.85 9.85 0 1 0 -19.7 0M2871.8 3722.5a9.85 9.85 0 1 0 19.7 0a9.85 9.85 0 1 0 -19.7 0M2871.3 3736.6a9.85 9.85 0 1 0 19.7 0a9.85 9.85 0 1 0 -19.7 0M2883.3 3726.2a9.85 9.85 0 1 0 19.7 0a9.85 9.85 0 1 0 -19.7 0M2904 3734.5a9.85 9.85 0 1 0 19.7 0a9.85 9.85 0 1 0 -19.7 0M2972.1 3730.5a9.85 9.85 0 1 0 19.7 0a9.85 9.85 0 1 0 -19.7 0M2995.6 3735.3a9.85 9.85 0 1 0 19.7 0a9.85 9.85 0 1 0 -19.7 0M2997.6 3727.8a9.85 9.85 0 1 0 19.7 0a9.85 9.85 0 1 0 -19.7 0" fill="#8c564b"/></g>
<rect x="315" y="3371.1" width="3004.2" height="435.1" fill="none" stroke="#000" stroke-width="4.4"/>
<text x="394" y="3890.6" text-anchor="middle">2015-12</text>
<text x="736.3" y="3890.6" text-anchor="middle">2016-06</text>
<text x="1078.5" y="3890.6" text-anchor="middle">2016-12</text>
<text x="1418.9" y="3890.6" text-anchor="middle">2017-06</text>
<text x="1761.2" y="3890.6" text-anchor="middle">2017-12</text>
<text x="2101.6" y="3890.6" text-anchor="middle">2018-06</text>
<text x="2443.8" y="3890.6" text-anchor="middle">2018-12</text>
<text x="2784.2" y="3890.6" text-anchor="middle">2019-06</text>
<text x="3126.5" y="3890.6" text-anchor="middle">2019-12</text>
<text x="272" y="3773.6" text-anchor="end">0.000</text>
<text x="272" y="3637.6" text-anchor="end">0.025</text>
<text x="272" y="3501.7" text-anchor="end">0.050</text>
<text x="314.7" y="3349.5" style="font-size:68px">(f)</text>
<text transform="translate(78.6 3588.6) rotate(-90)" text-anchor="middle" font-style="italic">δ</text>
<g clip-path="url(#h5)"><path d="M3482.4 3618.5H3485.9V3628H3482.4ZM3482.4 3627.7H3488.6V3637.2H3482.4ZM3482.4 3636.9H3496.4V3646.7H3482.4ZM3482.4 3646.4H3504.2V3655.9H3482.4ZM3482.4 3655.6H3518.5V3665.4H3482.4ZM3482.4 3665.1H3539.6V3674.9H3482.4ZM3482.4 3674.6H3563.7V3684.1H3482.4ZM3482.4 3683.8H3610V3693.6H3482.4ZM3482.4 3693.3H3669.9V3703.2H3482.4ZM3482.4 3702.9H3738.2V3712.7H3482.4ZM3482.4 3712.4H3848.8V3722.2H3482.4ZM3482.4 3721.9H3979.4V3731.4H3482.4ZM3482.4 3731.1H4080.7V3740.6H3482.4ZM3482.4 3740.3H4008V3750.1H3482.4ZM3482.4 3749.8H3738.2V3759.3H3482.4ZM3482.4 3759H3580.4V3768.8H3482.4ZM3482.4 3768.5H3536.9V3778.3H3482.4ZM3482.4 3778H3516.8V3787.9H3482.4ZM3482.4 3787.6H3502.9V3797H3482.4ZM3482.4 3796.7H3496.4V3808.6H3482.4Z" fill="#8c564b"/></g>
<path d="M3713.7 3371.1V3806.2M3945.4 3371.1V3806.2M3482.4 3751.8H4110.7M3482.4 3615.8H4110.7M3482.4 3479.9H4110.7" stroke="#b0b0b0" stroke-width="4.4" fill="none"/>
<path d="M3482.4 3806.2v19.4M3713.7 3806.2v19.4M3945.4 3806.2v19.4M3482.4 3751.8h-19.4M3482.4 3615.8h-19.4M3482.4 3479.9h-19.4" stroke="#000" stroke-width="4.4" fill="none"/>
<rect x="3482.4" y="3371.1" width="628.3" height="435.1" fill="none" stroke="#000" stroke-width="4.4"/>
<text x="3482.4" y="3890.6" text-anchor="middle">0</text>
<text x="3713.7" y="3890.6" text-anchor="middle">2000</text>
<text x="3945.4" y="3890.6" text-anchor="middle">4000</text>
<text x="3796.5" y="3968.4" text-anchor="middle">N</text>
<path d="M3795.9 3374.2H4061Q4077.9 3374.2 4077.9 3391.1V3513.4Q4077.9 3530.3 4061 3530.3H3795.9Q3779 3530.3 3779 3513.4V3391.1Q3779 3374.2 3795.9 3374.2Z" fill="#f5deb3" fill-opacity="0.5" stroke="#000" stroke-opacity="0.5" stroke-width="5.6"/>
<text x="3797.4" y="3438.3"><tspan font-style="italic">μ</tspan> = 0.005</text>
<text x="3797.4" y="3503.2"><tspan font-style="italic">σ</tspan> = 0.005</text></svg></body></html>
